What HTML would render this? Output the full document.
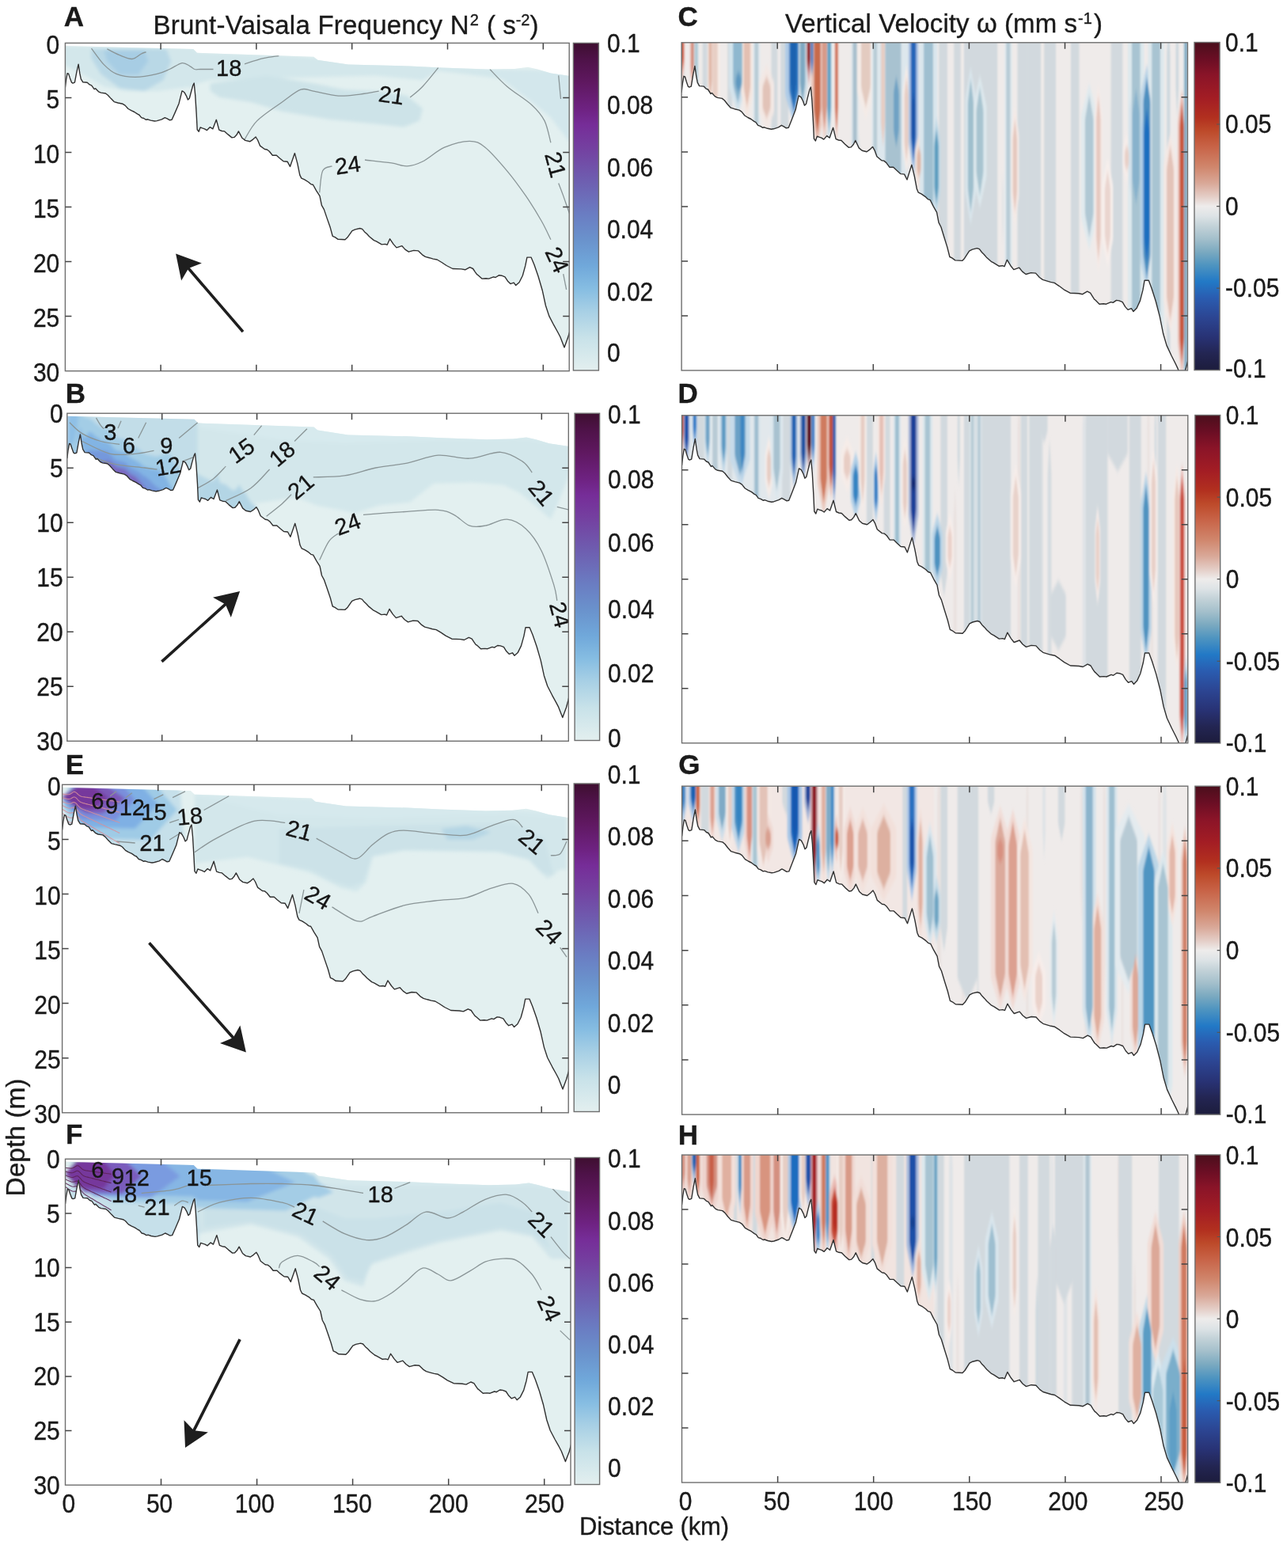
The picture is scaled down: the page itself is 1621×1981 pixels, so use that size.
<!DOCTYPE html><html><head><meta charset="utf-8"><title>Figure</title>
<style>html,body{margin:0;padding:0;background:#fff;}svg{display:block;}text{stroke:#1a1a1a;stroke-width:0.35px;}</style></head><body>
<svg width="1621" height="1981" viewBox="0 0 1621 1981">
<defs>
<linearGradient id="gDense" x1="0" y1="1" x2="0" y2="0"><stop offset="0" stop-color="#e3efef"/><stop offset="0.1" stop-color="#c8e2e9"/><stop offset="0.18" stop-color="#a8d0e5"/><stop offset="0.25" stop-color="#86bde2"/><stop offset="0.32" stop-color="#70a8da"/><stop offset="0.4" stop-color="#6a92cc"/><stop offset="0.48" stop-color="#6a7cc2"/><stop offset="0.58" stop-color="#6e5eb0"/><stop offset="0.68" stop-color="#7440a0"/><stop offset="0.75" stop-color="#762d98"/><stop offset="0.8" stop-color="#6e2281"/><stop offset="0.88" stop-color="#5f1860"/><stop offset="0.95" stop-color="#4e1248"/><stop offset="1" stop-color="#3e0f30"/></linearGradient>
<linearGradient id="gBal" x1="0" y1="1" x2="0" y2="0"><stop offset="0" stop-color="#1c1c3c"/><stop offset="0.05" stop-color="#232552"/><stop offset="0.1" stop-color="#283274"/><stop offset="0.16" stop-color="#2c4592"/><stop offset="0.22" stop-color="#2a5cb0"/><stop offset="0.27" stop-color="#2279c6"/><stop offset="0.32" stop-color="#4e94c0"/><stop offset="0.36" stop-color="#7aa9c0"/><stop offset="0.4" stop-color="#a3bfcb"/><stop offset="0.44" stop-color="#c3d2d8"/><stop offset="0.47" stop-color="#dde3e6"/><stop offset="0.5" stop-color="#eeeceb"/><stop offset="0.53" stop-color="#e4cdc6"/><stop offset="0.57" stop-color="#d9a898"/><stop offset="0.62" stop-color="#d0866c"/><stop offset="0.68" stop-color="#c86448"/><stop offset="0.73" stop-color="#bd4a2a"/><stop offset="0.77" stop-color="#b2301f"/><stop offset="0.83" stop-color="#a31d24"/><stop offset="0.9" stop-color="#8a1428"/><stop offset="0.95" stop-color="#6a0e24"/><stop offset="1.0" stop-color="#4a0f1c"/></linearGradient>
<clipPath id="clipA"><rect x="82.4" y="54.4" width="636.8" height="414.3"/></clipPath>
<clipPath id="clipB"><rect x="84.8" y="522.2" width="633.5" height="414.1"/></clipPath>
<clipPath id="clipE"><rect x="78.6" y="991.3" width="639.6" height="414.5"/></clipPath>
<clipPath id="clipF"><rect x="82.5" y="1464.3" width="638.5" height="411.9"/></clipPath>
<clipPath id="clipC"><rect x="861.1" y="53.8" width="639.4" height="414.2"/></clipPath>
<clipPath id="clipD"><rect x="861.5" y="524.8" width="639.3" height="414"/></clipPath>
<clipPath id="clipG"><rect x="861.6" y="993.2" width="639.2" height="414.9"/></clipPath>
<clipPath id="clipH"><rect x="861.5" y="1459.1" width="639.2" height="413.9"/></clipPath>
<filter id="blurL" x="-5%" y="-5%" width="110%" height="110%"><feGaussianBlur stdDeviation="2"/></filter>
<filter id="blurR" x="-5%" y="-5%" width="110%" height="110%"><feGaussianBlur stdDeviation="1.2 3"/></filter>
</defs>
<rect width="1621" height="1981" fill="#fff"/>
<g clip-path="url(#clipA)">
<clipPath id="wA"><path d="M82.3,57.9 L244.2,62 L249,66.8 L396.4,71.7 L401.2,75.8 L439.9,81.6 L517.2,83.5 L558.3,85.5 L616.2,87.5 L650.1,86.9 L667,84.8 L679.1,87.5 L696,92.4 L722.5,96.5 L721.1,413 L720.3,416.9 L717.7,426.1 L713,438.9 L707.9,425.8 L704.9,420 L699.7,410.7 L693.7,399.1 L689.4,386 L685.2,366.7 L680,349 L674.9,334.3 L671,325.1 L665.9,325.1 L663.7,335.9 L660.3,348.2 L656,356.7 L651.7,360.6 L649.2,357.1 L644.9,358.6 L641.5,355.2 L638,349.8 L633.8,348.2 L630.3,347.8 L626,350.5 L623.5,349.8 L617.5,352.1 L614,351.7 L608.9,352.1 L603.8,347.5 L602.5,346.6 L600.3,343.6 L597.6,339.5 L593.6,337.7 L587.7,340.8 L582.8,339.9 L571.9,339.5 L564.1,335.5 L558.1,331.5 L552.2,328 L547.3,327.1 L542.4,325.7 L537.4,324.4 L533.5,321.8 L528.6,316.9 L522.7,316.4 L516.3,318.2 L511.8,315.1 L507.9,310.7 L501,312.9 L497,308.4 L492.6,301.8 L489.2,309.3 L486.7,308.4 L482.3,308.9 L475.4,304.9 L472.4,303.6 L466.5,298.7 L463.6,295.6 L460.6,292.9 L457.7,289.4 L454.7,288.5 L448.8,289.9 L444.9,291.6 L438.9,300.1 L436,302.7 L427.1,302.3 L423.2,299.6 L420.2,298.3 L417.3,287.6 L413.3,276.1 L409.4,264.6 L406.4,259.3 L404,247.7 L399.5,240.6 L395.6,233.5 L392.6,232.6 L389.7,230 L384.7,226.9 L380.8,225.1 L378.8,221.1 L375.9,206.9 L372.4,193.6 L366.5,210.4 L363.1,204.2 L358.1,203.8 L353.2,199.8 L349.3,196.2 L344.3,196.2 L340.3,191.2 L337.4,189 L334.4,188.5 L328.5,184.1 L325.6,177 L323.1,173 L319.7,176.1 L315.7,178.8 L309.8,177.4 L305.9,174.3 L301.4,165.9 L299,170.3 L296,173.4 L293,173.9 L288.1,169.9 L283.7,165.9 L280.2,165.5 L276.8,164.1 L273.3,151.3 L268.9,162.8 L265.4,160.6 L261.5,164.6 L258.5,162.8 L255.6,161.9 L253.1,161 L251.2,166.3 L249.2,163.7 L248.2,144.2 L246.7,120.2 L245.2,105.1 L243.8,107.8 L241.3,116.7 L239.3,124.2 L237.4,126 L235.4,121.1 L232.9,116.7 L231,115.3 L230,114.9 L226,130.9 L221.1,142.4 L217.1,151.3 L214.2,151.7 L211.2,149.9 L208.3,148.6 L204.3,150.8 L198.4,152.6 L195.5,153 L190.5,152.1 L186.6,150.8 L184.6,151.3 L181.7,149.5 L178.7,148.6 L175.7,145 L173.8,144.2 L169.8,141.5 L165.9,139.7 L162,137.5 L158,133.1 L155.1,131.3 L149.1,130 L144.2,128.6 L140.3,124.6 L136.3,120.2 L133.4,118 L127.5,117.1 L124.5,115.8 L120.6,111.8 L119.1,112.7 L115.6,107.8 L113.2,106.9 L110.2,104.2 L104.8,103.8 L102.3,99.8 L100.8,92.7 L99.1,81.2 L96.9,90.9 L94.4,104.2 L92,105.1 L90.5,104.2 L88.5,98.9 L86.6,93.1 L85.1,92.7 L83.6,100.7 L82.3,111.3 Z"/></clipPath>
<path d="M82.3,57.9 L244.2,62 L249,66.8 L396.4,71.7 L401.2,75.8 L439.9,81.6 L517.2,83.5 L558.3,85.5 L616.2,87.5 L650.1,86.9 L667,84.8 L679.1,87.5 L696,92.4 L722.5,96.5 L721.1,413 L720.3,416.9 L717.7,426.1 L713,438.9 L707.9,425.8 L704.9,420 L699.7,410.7 L693.7,399.1 L689.4,386 L685.2,366.7 L680,349 L674.9,334.3 L671,325.1 L665.9,325.1 L663.7,335.9 L660.3,348.2 L656,356.7 L651.7,360.6 L649.2,357.1 L644.9,358.6 L641.5,355.2 L638,349.8 L633.8,348.2 L630.3,347.8 L626,350.5 L623.5,349.8 L617.5,352.1 L614,351.7 L608.9,352.1 L603.8,347.5 L602.5,346.6 L600.3,343.6 L597.6,339.5 L593.6,337.7 L587.7,340.8 L582.8,339.9 L571.9,339.5 L564.1,335.5 L558.1,331.5 L552.2,328 L547.3,327.1 L542.4,325.7 L537.4,324.4 L533.5,321.8 L528.6,316.9 L522.7,316.4 L516.3,318.2 L511.8,315.1 L507.9,310.7 L501,312.9 L497,308.4 L492.6,301.8 L489.2,309.3 L486.7,308.4 L482.3,308.9 L475.4,304.9 L472.4,303.6 L466.5,298.7 L463.6,295.6 L460.6,292.9 L457.7,289.4 L454.7,288.5 L448.8,289.9 L444.9,291.6 L438.9,300.1 L436,302.7 L427.1,302.3 L423.2,299.6 L420.2,298.3 L417.3,287.6 L413.3,276.1 L409.4,264.6 L406.4,259.3 L404,247.7 L399.5,240.6 L395.6,233.5 L392.6,232.6 L389.7,230 L384.7,226.9 L380.8,225.1 L378.8,221.1 L375.9,206.9 L372.4,193.6 L366.5,210.4 L363.1,204.2 L358.1,203.8 L353.2,199.8 L349.3,196.2 L344.3,196.2 L340.3,191.2 L337.4,189 L334.4,188.5 L328.5,184.1 L325.6,177 L323.1,173 L319.7,176.1 L315.7,178.8 L309.8,177.4 L305.9,174.3 L301.4,165.9 L299,170.3 L296,173.4 L293,173.9 L288.1,169.9 L283.7,165.9 L280.2,165.5 L276.8,164.1 L273.3,151.3 L268.9,162.8 L265.4,160.6 L261.5,164.6 L258.5,162.8 L255.6,161.9 L253.1,161 L251.2,166.3 L249.2,163.7 L248.2,144.2 L246.7,120.2 L245.2,105.1 L243.8,107.8 L241.3,116.7 L239.3,124.2 L237.4,126 L235.4,121.1 L232.9,116.7 L231,115.3 L230,114.9 L226,130.9 L221.1,142.4 L217.1,151.3 L214.2,151.7 L211.2,149.9 L208.3,148.6 L204.3,150.8 L198.4,152.6 L195.5,153 L190.5,152.1 L186.6,150.8 L184.6,151.3 L181.7,149.5 L178.7,148.6 L175.7,145 L173.8,144.2 L169.8,141.5 L165.9,139.7 L162,137.5 L158,133.1 L155.1,131.3 L149.1,130 L144.2,128.6 L140.3,124.6 L136.3,120.2 L133.4,118 L127.5,117.1 L124.5,115.8 L120.6,111.8 L119.1,112.7 L115.6,107.8 L113.2,106.9 L110.2,104.2 L104.8,103.8 L102.3,99.8 L100.8,92.7 L99.1,81.2 L96.9,90.9 L94.4,104.2 L92,105.1 L90.5,104.2 L88.5,98.9 L86.6,93.1 L85.1,92.7 L83.6,100.7 L82.3,111.3 Z" fill="#e3f0f0"/>
<g clip-path="url(#wA)"><g filter="url(#blurL)"><path d="M80,57.9 L245.8,59.9 L249.8,65.8 L356.4,69.7 L435.3,75.7 L534,81.6 L632.7,87.5 L720,89.5 L720,99.3 L632.7,99.3 L553.7,89.5 L534,101.3 L474.8,95.4 L395.8,97.4 L316.9,99.3 L265.6,101.3 L249.8,105.3 L245.8,109.2 L198.4,115.1 L159,115.1 L131.3,109.2 L103.7,93.4 L80,81.6 Z" fill="#d3e7eb"/><path d="M265.6,105.3 L336.6,95.4 L395.8,105.3 L435.3,113.2 L474.8,115.1 L514.3,121.1 L534,136.9 L530.1,152.6 L510.3,160.5 L474.8,156.6 L415.6,150.7 L356.4,140.8 L316.9,129 L277.4,123 L265.6,115.1 Z" fill="#cde3e8"/><path d="M115.5,61.8 L210.3,61.8 L216.2,77.6 L206.3,101.3 L182.6,115.1 L151.1,111.2 L127.4,93.4 L115.5,73.7 Z" fill="#b9d8e6"/><path d="M131.3,63.8 L182.6,63.8 L187.4,77.6 L174.7,94.2 L151.1,94.2 L135.3,77.6 Z" fill="#a7cde4"/><path d="M618.9,87.5 L720,89.5 L720,180.3 L695.9,148.7 L672.2,129 L640.6,105.3 Z" fill="#d3e7ec"/></g><path d="M115.5,61.1 C118.2,64.5 126.1,76.2 131.3,81.6 C136.6,87 140.5,90.8 147.1,93.4 C153.7,96.1 162.2,97.4 170.8,97.4 C179.4,97.4 191.2,95.1 198.4,93.4 C205.7,91.8 209,89.8 214.2,87.5 C219.5,85.2 225.7,80.3 230,79.6 C234.3,79 237.3,82.2 239.9,83.6 C242.5,84.9 243.5,86.8 245.8,87.5 C248.1,88.2 249.8,87.5 253.7,87.5 C257.7,87.5 266.9,87.5 269.5,87.5" fill="none" stroke="#8a9597" stroke-width="1.3"/><path d="M309,80.8 C312.9,79.6 325.4,75.4 332.7,73.7 C339.9,72 349.1,71.1 352.4,70.5" fill="none" stroke="#8a9597" stroke-width="1.3"/><path d="M135.3,61.8 C137.9,63.2 145.8,67.6 151.1,69.7 C156.3,71.8 162.2,74.8 166.9,74.5 C171.5,74.1 175.7,69.2 178.7,67.8 C181.7,66.3 183.6,66.1 184.6,65.8" fill="none" stroke="#8a9597" stroke-width="1.3"/><path d="M309,176.3 C311.6,172.4 316.9,160.5 324.8,152.6 C332.7,144.7 347.1,135.5 356.4,129 C365.6,122.4 373.5,115.5 380,113.2 C386.6,110.9 387.9,113.8 395.8,115.1 C403.7,116.5 417.5,120.4 427.4,121.1 C437.3,121.7 446.5,120.1 455,119.1 C463.6,118.1 474.8,115.8 478.7,115.1" fill="none" stroke="#8a9597" stroke-width="1.3"/><path d="M518.2,123 C520.8,120.7 528.1,115.5 534,109.2 C539.9,103 550.5,89.5 553.7,85.5" fill="none" stroke="#8a9597" stroke-width="1.3"/><path d="M618.9,87.5 C622.5,91.1 631.7,101.7 640.6,109.2 C649.5,116.8 664.3,125.7 672.2,132.9 C680.1,140.1 684,144.7 688,152.6 C691.9,160.5 694.6,175.7 695.9,180.3" fill="none" stroke="#8a9597" stroke-width="1.3"/><path d="M705.7,231.6 C706.7,234.2 709.3,240.8 711.7,247.4 C714,254 718.6,267.1 720,271.1" fill="none" stroke="#8a9597" stroke-width="1.3"/><path d="M403.7,243.4 C404.4,238.8 405,221.4 407.7,215.8 C410.3,210.2 417.5,210.9 419.5,209.9" fill="none" stroke="#8a9597" stroke-width="1.3"/><path d="M461,202 C466.6,202.7 485.6,204.6 494.5,205.9 C503.4,207.3 507.7,210.2 514.3,209.9 C520.8,209.6 526.1,207.9 534,204 C541.9,200 551.8,190.5 561.6,186.2 C571.5,181.9 584.7,178.3 593.2,178.3 C601.8,178.3 605.1,180 613,186.2 C620.9,192.5 632,205.6 640.6,215.8 C649.2,226 657,236.9 664.3,247.4 C671.5,257.9 678.8,269.8 684,279 C689.3,288.2 693.9,298.7 695.9,302.7" fill="none" stroke="#8a9597" stroke-width="1.3"/><path d="M711.7,346.1 L715.6,365.8" fill="none" stroke="#8a9597" stroke-width="1.3"/><path d="M705.7,95.4 L708.5,125" fill="none" stroke="#8a9597" stroke-width="1.3"/></g>
<path d="M82.3,111.3 L83.6,100.7 L85.1,92.7 L86.6,93.1 L88.5,98.9 L90.5,104.2 L92,105.1 L94.4,104.2 L96.9,90.9 L99.1,81.2 L100.8,92.7 L102.3,99.8 L104.8,103.8 L110.2,104.2 L113.2,106.9 L115.6,107.8 L119.1,112.7 L120.6,111.8 L124.5,115.8 L127.5,117.1 L133.4,118 L136.3,120.2 L140.3,124.6 L144.2,128.6 L149.1,130 L155.1,131.3 L158,133.1 L162,137.5 L165.9,139.7 L169.8,141.5 L173.8,144.2 L175.7,145 L178.7,148.6 L181.7,149.5 L184.6,151.3 L186.6,150.8 L190.5,152.1 L195.5,153 L198.4,152.6 L204.3,150.8 L208.3,148.6 L211.2,149.9 L214.2,151.7 L217.1,151.3 L221.1,142.4 L226,130.9 L230,114.9 L231,115.3 L232.9,116.7 L235.4,121.1 L237.4,126 L239.3,124.2 L241.3,116.7 L243.8,107.8 L245.2,105.1 L246.7,120.2 L248.2,144.2 L249.2,163.7 L251.2,166.3 L253.1,161 L255.6,161.9 L258.5,162.8 L261.5,164.6 L265.4,160.6 L268.9,162.8 L273.3,151.3 L276.8,164.1 L280.2,165.5 L283.7,165.9 L288.1,169.9 L293,173.9 L296,173.4 L299,170.3 L301.4,165.9 L305.9,174.3 L309.8,177.4 L315.7,178.8 L319.7,176.1 L323.1,173 L325.6,177 L328.5,184.1 L334.4,188.5 L337.4,189 L340.3,191.2 L344.3,196.2 L349.3,196.2 L353.2,199.8 L358.1,203.8 L363.1,204.2 L366.5,210.4 L372.4,193.6 L375.9,206.9 L378.8,221.1 L380.8,225.1 L384.7,226.9 L389.7,230 L392.6,232.6 L395.6,233.5 L399.5,240.6 L404,247.7 L406.4,259.3 L409.4,264.6 L413.3,276.1 L417.3,287.6 L420.2,298.3 L423.2,299.6 L427.1,302.3 L436,302.7 L438.9,300.1 L444.9,291.6 L448.8,289.9 L454.7,288.5 L457.7,289.4 L460.6,292.9 L463.6,295.6 L466.5,298.7 L472.4,303.6 L475.4,304.9 L482.3,308.9 L486.7,308.4 L489.2,309.3 L492.6,301.8 L497,308.4 L501,312.9 L507.9,310.7 L511.8,315.1 L516.3,318.2 L522.7,316.4 L528.6,316.9 L533.5,321.8 L537.4,324.4 L542.4,325.7 L547.3,327.1 L552.2,328 L558.1,331.5 L564.1,335.5 L571.9,339.5 L582.8,339.9 L587.7,340.8 L593.6,337.7 L597.6,339.5 L600.3,343.6 L602.5,346.6 L603.8,347.5 L608.9,352.1 L614,351.7 L617.5,352.1 L623.5,349.8 L626,350.5 L630.3,347.8 L633.8,348.2 L638,349.8 L641.5,355.2 L644.9,358.6 L649.2,357.1 L651.7,360.6 L656,356.7 L660.3,348.2 L663.7,335.9 L665.9,325.1 L671,325.1 L674.9,334.3 L680,349 L685.2,366.7 L689.4,386 L693.7,399.1 L699.7,410.7 L704.9,420 L707.9,425.8 L713,438.9 L717.7,426.1 L720.3,416.9 L721.1,413" fill="none" stroke="#303030" stroke-width="1.4" stroke-linejoin="round"/>
<text x="289.2" y="86.3" transform="rotate(0 289.2 86.3)" font-family='"Liberation Sans", Arial, Helvetica, sans-serif' font-size="29" text-anchor="middle" dominant-baseline="central" fill="#151515">18</text><text x="494.5" y="120.3" transform="rotate(8 494.5 120.3)" font-family='"Liberation Sans", Arial, Helvetica, sans-serif' font-size="29" text-anchor="middle" dominant-baseline="central" fill="#151515">21</text><text x="439.3" y="208.7" transform="rotate(-8 439.3 208.7)" font-family='"Liberation Sans", Arial, Helvetica, sans-serif' font-size="29" text-anchor="middle" dominant-baseline="central" fill="#151515">24</text><text x="701.8" y="207.9" transform="rotate(75 701.8 207.9)" font-family='"Liberation Sans", Arial, Helvetica, sans-serif' font-size="29" text-anchor="middle" dominant-baseline="central" fill="#151515">21</text><text x="703.8" y="328.3" transform="rotate(65 703.8 328.3)" font-family='"Liberation Sans", Arial, Helvetica, sans-serif' font-size="29" text-anchor="middle" dominant-baseline="central" fill="#151515">24</text><path d="M307,419.1 L236.9,337.6" stroke="#1e1e1e" stroke-width="3.7" fill="none"/><path d="M222.1,320.4 L254.9,332.5 L238.2,339.1 L229.1,354.6 Z" fill="#1e1e1e"/>
</g>
<rect x="82.4" y="54.4" width="636.8" height="414.3" fill="none" stroke="#6e6e6e" stroke-width="1.4"/><path d="M203.1,54.4v8M203.1,468.7v-8M323.9,54.4v8M323.9,468.7v-8M444.7,54.4v8M444.7,468.7v-8M565.5,54.4v8M565.5,468.7v-8M686.3,54.4v8M686.3,468.7v-8M82.4,123.4h8M719.2,123.4h-8M82.4,192.5h8M719.2,192.5h-8M82.4,261.6h8M719.2,261.6h-8M82.4,330.6h8M719.2,330.6h-8M82.4,399.6h8M719.2,399.6h-8" stroke="#444" stroke-width="1.5" fill="none"/>
<rect x="724.4" y="54.4" width="32" height="413.6" fill="url(#gDense)" stroke="#6e6e6e" stroke-width="1.4"/>
<g clip-path="url(#clipB)">
<clipPath id="wB"><path d="M84.8,525.7 L245.5,529.8 L250.3,534.6 L396.5,539.5 L401.3,543.6 L439.7,549.4 L516.4,551.3 L557.2,553.3 L614.8,555.3 L648.3,554.6 L665.1,552.6 L677.1,555.3 L693.9,560.2 L720.3,564.3 L718.9,880.7 L718,884.5 L715.5,893.8 L710.8,906.5 L705.7,893.4 L702.7,887.6 L697.6,878.3 L691.7,866.8 L687.4,853.7 L683.2,834.4 L678.1,816.7 L673,802 L669.1,792.8 L664,792.8 L661.9,803.6 L658.5,815.9 L654.3,824.4 L650,828.2 L647.4,824.8 L643.2,826.3 L639.8,822.8 L636.4,817.4 L632.1,815.9 L628.7,815.5 L624.5,818.2 L621.9,817.4 L616,819.7 L612.6,819.4 L607.5,819.7 L602.4,815.1 L601.1,814.3 L599,811.3 L596.2,807.2 L592.3,805.4 L586.4,808.5 L581.6,807.6 L570.8,807.2 L563,803.2 L557.1,799.2 L551.2,795.6 L546.3,794.7 L541.4,793.4 L536.6,792.1 L532.6,789.4 L527.8,784.5 L521.9,784.1 L515.5,785.9 L511.1,782.8 L507.2,778.3 L500.4,780.6 L496.4,776.1 L492,769.5 L488.6,777 L486.2,776.1 L481.8,776.6 L474.9,772.6 L472,771.2 L466.1,766.4 L463.2,763.3 L460.3,760.6 L457.4,757.1 L454.4,756.2 L448.6,757.6 L444.7,759.3 L438.8,767.8 L435.8,770.4 L427,770 L423.1,767.3 L420.2,766 L417.3,755.3 L413.4,743.8 L409.4,732.3 L406.5,727 L404.1,715.4 L399.7,708.3 L395.7,701.2 L392.8,700.3 L389.9,697.7 L385,694.6 L381.1,692.8 L379.1,688.8 L376.2,674.6 L372.8,661.3 L366.9,678.2 L363.5,672 L358.6,671.5 L353.7,667.5 L349.8,664 L344.9,664 L340.9,658.9 L338,656.7 L335.1,656.3 L329.2,651.8 L326.3,644.7 L323.8,640.7 L320.4,643.9 L316.5,646.5 L310.6,645.2 L306.7,642.1 L302.3,633.6 L299.8,638.1 L296.9,641.2 L294,641.6 L289.1,637.6 L284.7,633.6 L281.3,633.2 L277.8,631.9 L274.4,619 L270,630.5 L266.6,628.3 L262.7,632.3 L259.7,630.5 L256.8,629.7 L254.4,628.8 L252.4,634.1 L250.4,631.4 L249.5,611.9 L248,588 L246.5,572.9 L245.1,575.6 L242.6,584.4 L240.7,592 L238.7,593.7 L236.7,588.9 L234.3,584.4 L232.3,583.1 L231.4,582.6 L227.4,598.6 L222.5,610.1 L218.6,619 L215.7,619.5 L212.8,617.7 L209.8,616.4 L205.9,618.6 L200.1,620.3 L197.1,620.8 L192.2,619.9 L188.3,618.6 L186.4,619 L183.4,617.2 L180.5,616.4 L177.6,612.8 L175.6,611.9 L171.7,609.3 L167.8,607.5 L163.9,605.3 L159.9,600.8 L157,599.1 L151.1,597.7 L146.3,596.4 L142.3,592.4 L138.4,588 L135.5,585.8 L129.6,584.9 L126.7,583.5 L122.8,579.5 L121.3,580.4 L117.9,575.6 L115.4,574.7 L112.5,572 L107.1,571.6 L104.7,567.6 L103.2,560.5 L101.4,548.9 L99.3,558.7 L96.9,572 L94.4,572.9 L92.9,572 L91,566.7 L89,560.9 L87.6,560.5 L86.1,568.5 L84.8,579.1 Z"/></clipPath>
<path d="M84.8,525.7 L245.5,529.8 L250.3,534.6 L396.5,539.5 L401.3,543.6 L439.7,549.4 L516.4,551.3 L557.2,553.3 L614.8,555.3 L648.3,554.6 L665.1,552.6 L677.1,555.3 L693.9,560.2 L720.3,564.3 L718.9,880.7 L718,884.5 L715.5,893.8 L710.8,906.5 L705.7,893.4 L702.7,887.6 L697.6,878.3 L691.7,866.8 L687.4,853.7 L683.2,834.4 L678.1,816.7 L673,802 L669.1,792.8 L664,792.8 L661.9,803.6 L658.5,815.9 L654.3,824.4 L650,828.2 L647.4,824.8 L643.2,826.3 L639.8,822.8 L636.4,817.4 L632.1,815.9 L628.7,815.5 L624.5,818.2 L621.9,817.4 L616,819.7 L612.6,819.4 L607.5,819.7 L602.4,815.1 L601.1,814.3 L599,811.3 L596.2,807.2 L592.3,805.4 L586.4,808.5 L581.6,807.6 L570.8,807.2 L563,803.2 L557.1,799.2 L551.2,795.6 L546.3,794.7 L541.4,793.4 L536.6,792.1 L532.6,789.4 L527.8,784.5 L521.9,784.1 L515.5,785.9 L511.1,782.8 L507.2,778.3 L500.4,780.6 L496.4,776.1 L492,769.5 L488.6,777 L486.2,776.1 L481.8,776.6 L474.9,772.6 L472,771.2 L466.1,766.4 L463.2,763.3 L460.3,760.6 L457.4,757.1 L454.4,756.2 L448.6,757.6 L444.7,759.3 L438.8,767.8 L435.8,770.4 L427,770 L423.1,767.3 L420.2,766 L417.3,755.3 L413.4,743.8 L409.4,732.3 L406.5,727 L404.1,715.4 L399.7,708.3 L395.7,701.2 L392.8,700.3 L389.9,697.7 L385,694.6 L381.1,692.8 L379.1,688.8 L376.2,674.6 L372.8,661.3 L366.9,678.2 L363.5,672 L358.6,671.5 L353.7,667.5 L349.8,664 L344.9,664 L340.9,658.9 L338,656.7 L335.1,656.3 L329.2,651.8 L326.3,644.7 L323.8,640.7 L320.4,643.9 L316.5,646.5 L310.6,645.2 L306.7,642.1 L302.3,633.6 L299.8,638.1 L296.9,641.2 L294,641.6 L289.1,637.6 L284.7,633.6 L281.3,633.2 L277.8,631.9 L274.4,619 L270,630.5 L266.6,628.3 L262.7,632.3 L259.7,630.5 L256.8,629.7 L254.4,628.8 L252.4,634.1 L250.4,631.4 L249.5,611.9 L248,588 L246.5,572.9 L245.1,575.6 L242.6,584.4 L240.7,592 L238.7,593.7 L236.7,588.9 L234.3,584.4 L232.3,583.1 L231.4,582.6 L227.4,598.6 L222.5,610.1 L218.6,619 L215.7,619.5 L212.8,617.7 L209.8,616.4 L205.9,618.6 L200.1,620.3 L197.1,620.8 L192.2,619.9 L188.3,618.6 L186.4,619 L183.4,617.2 L180.5,616.4 L177.6,612.8 L175.6,611.9 L171.7,609.3 L167.8,607.5 L163.9,605.3 L159.9,600.8 L157,599.1 L151.1,597.7 L146.3,596.4 L142.3,592.4 L138.4,588 L135.5,585.8 L129.6,584.9 L126.7,583.5 L122.8,579.5 L121.3,580.4 L117.9,575.6 L115.4,574.7 L112.5,572 L107.1,571.6 L104.7,567.6 L103.2,560.5 L101.4,548.9 L99.3,558.7 L96.9,572 L94.4,572.9 L92.9,572 L91,566.7 L89,560.9 L87.6,560.5 L86.1,568.5 L84.8,579.1 Z" fill="#e3f0f0"/>
<g clip-path="url(#wB)"><g filter="url(#blurL)"><path d="M249.8,529.8 L720,555.5 L720,597 L715.6,608.8 L703.8,638.4 L695.9,656.2 L676.1,638.4 L656.4,622.6 L636.7,612.7 L597.2,609.6 L547.8,610.8 L518.2,634.5 L478.7,638.4 L449.1,648.3 L399.8,638.4 L376.1,628.5 L316.9,636.4 L249.8,632.5 Z" fill="#d3e7eb"/><path d="M249.8,529.8 L720,554.3 L720,562.2 L652.4,554.3 L553.7,555.9 L435.3,559.5 L356.4,555.5 L249.8,539.7 Z" fill="#d7eaee"/><path d="M80,518 L249.8,518 L249.8,636.4 L80,636.4 Z" fill="#c2dde8"/><path d="M245.8,597 L285.3,616.7 L301.1,636.4 L285.3,648.3 L249.8,648.3 Z" fill="#b8d8e6"/><path d="M84.8,579.1 L86,486.4 L87.2,479.6 L88.4,477.9 L89.6,479.8 L90.8,483.3 L92,486.6 L93.2,489.3 L94.4,490.1 L95.6,489.6 L96.8,489.2 L98,483 L99.2,476.5 L100.4,470.9 L101.6,467 L102.8,474.9 L104,564.2 L104,568.4 L102.8,561.8 L101.6,554 L100.4,557.9 L99.2,563.4 L98,570 L96.8,576.2 L95.6,576.6 L94.4,577 L93.2,576.3 L92,573.6 L90.8,570.3 L89.6,566.7 L88.4,564.9 L87.2,566.6 L86,573.4 L84.8,583.2 Z" fill="#8fc0e6"/><path d="M89.6,562.6 L90.8,561.7 L92,560.6 L93.2,558.9 L94.4,555.2 L95.6,550.4 L96.8,545.5 L98,534.9 L99.2,524 L100.4,514 L101.6,505.7 L102.8,513.5 L104,520 L105.2,524.2 L106.4,526.2 L107.6,527.4 L108.8,527.5 L110,527.6 L111.2,527.7 L112.4,527.8 L113.6,528.8 L114.8,529.9 L116,530.7 L117.2,531.1 L118.4,532.1 L119.6,533.8 L120.8,535.5 L122,535.9 L123.2,535.8 L124.4,537 L125.6,538.2 L126.8,539.4 L128,539.9 L129.2,540.5 L130.4,540.8 L131.6,541 L132.8,541.2 L134,541.4 L135.2,541.5 L136.4,542.2 L137.6,543.1 L138.8,544.2 L140,545.5 L141.2,546.9 L142.4,548.2 L143.6,549.5 L144.8,550.7 L145.9,551.9 L147.1,552.5 L148.3,552.8 L149.5,553.1 L150.7,553.4 L151.9,553.7 L153.1,554 L154.3,554.3 L155.5,554.6 L156.7,554.8 L157.9,555.4 L159.1,556.2 L160.3,557.1 L161.5,558.5 L162.7,559.8 L163.9,561.1 L165.1,561.8 L166.3,562.5 L167.5,563.2 L168.7,563.7 L169.9,564.3 L171.1,564.8 L172.3,565.5 L173.5,566.3 L174.7,567.2 L175.9,567.9 L177.1,568.4 L178.3,569.6 L179.5,571 L180.7,572.3 L181.9,572.6 L183.1,573 L184.3,573.6 L185.5,574.3 L186.7,574.8 L187.9,574.5 L189.1,574.7 L190.3,575.1 L191.5,575.5 L192.7,575.8 L193.9,576 L195.1,576.3 L196.3,576.5 L197.5,576.6 L198.7,576.4 L199.9,576.2 L201.1,575.9 L202.3,575.5 L203.5,575.1 L204.7,574.8 L205.9,574.4 L207.1,573.7 L208.3,573.1 L209.5,572.4 L210.7,572.6 L211.9,573.1 L213.1,573.7 L214.3,574.4 L215.5,575.2 L216.7,575.1 L217.9,579.4 L219.1,582.7 L220.3,584.4 L221.5,586.1 L222.7,587.7 L223.9,589.3 L225.1,590.9 L226.3,592.5 L227.5,594 L228.7,593.6 L228.7,597.7 L227.5,602.6 L226.3,605.5 L225.1,608.3 L223.9,611.1 L222.7,614 L221.5,616.7 L220.3,619.4 L219.1,622.1 L217.9,623.3 L216.7,623.5 L215.5,623.5 L214.3,622.7 L213.1,622 L211.9,621.4 L210.7,620.9 L209.5,620.7 L208.3,621.4 L207.1,622 L205.9,622.7 L204.7,623.1 L203.5,623.4 L202.3,623.8 L201.1,624.2 L199.9,624.5 L198.7,624.7 L197.5,624.9 L196.3,624.8 L195.1,624.6 L193.9,624.3 L192.7,624.1 L191.5,623.8 L190.3,623.4 L189.1,623 L187.9,622.8 L186.7,623.1 L185.5,622.6 L184.3,621.9 L183.1,621.3 L181.9,620.9 L180.7,620.6 L179.5,619.3 L178.3,617.9 L177.1,616.8 L175.9,616.2 L174.7,615.5 L173.5,614.7 L172.3,613.8 L171.1,613.1 L169.9,612.6 L168.7,612.1 L167.5,611.5 L166.3,610.8 L165.1,610.1 L163.9,609.5 L162.7,608.1 L161.5,606.8 L160.3,605.4 L159.1,604.5 L157.9,603.8 L156.7,603.1 L155.5,602.9 L154.3,602.6 L153.1,602.3 L151.9,602.1 L150.7,601.8 L149.5,601.4 L148.3,601.1 L147.1,600.8 L145.9,600.2 L144.8,599 L143.6,597.8 L142.4,596.6 L141.2,595.2 L140,593.8 L138.8,592.5 L137.6,591.5 L136.4,590.5 L135.2,589.8 L134,589.7 L132.8,589.5 L131.6,589.3 L130.4,589.1 L129.2,588.8 L128,588.3 L126.8,587.7 L125.6,586.5 L124.4,585.3 L123.2,584.1 L122,584.2 L120.8,583.8 L119.6,582.1 L118.4,580.4 L117.2,579.4 L116,579 L114.8,578.2 L113.6,577.1 L112.4,576.1 L111.2,576 L110,575.9 L108.8,575.8 L107.6,575.7 L106.4,574.5 L105.2,572.5 L104,568.4 L102.8,561.8 L101.6,554 L100.4,557.9 L99.2,563.4 L98,570 L96.8,576.2 L95.6,576.6 L94.4,577 L93.2,576.3 L92,573.6 L90.8,570.3 L89.6,566.7 Z" fill="#a3cde6"/><path d="M94.4,572.9 L95.6,570.7 L96.8,568.6 L98,560.6 L99.2,552.4 L100.4,545.1 L101.6,539.5 L102.8,545.6 L104,550.4 L105.2,552.9 L106.4,553.1 L107.6,552.6 L108.8,551 L110,549.4 L111.2,547.7 L112.4,546.1 L113.6,545.4 L114.8,546.5 L116,547.3 L117.2,547.7 L118.4,548.6 L119.6,550.4 L120.8,552.1 L122,552.4 L123.2,552.3 L124.4,553.6 L125.6,554.8 L126.8,556 L128,556.5 L129.2,557.1 L130.4,557.4 L131.6,557.6 L132.8,557.7 L134,557.9 L135.2,558.1 L136.4,558.8 L137.6,559.7 L138.8,560.7 L140,562.1 L141.2,563.5 L142.4,564.8 L143.6,566 L144.8,567.3 L145.9,568.5 L147.1,569 L148.3,569.4 L149.5,569.7 L150.7,570 L151.9,570.3 L153.1,570.6 L154.3,570.8 L155.5,571.1 L156.7,571.4 L157.9,572 L159.1,572.7 L160.3,573.7 L161.5,575 L162.7,576.4 L163.9,577.7 L165.1,578.4 L166.3,579.1 L167.5,579.7 L168.7,580.3 L169.9,580.9 L171.1,581.4 L172.3,582.1 L173.5,582.9 L174.7,583.7 L175.9,584.5 L177.1,585 L178.3,586.1 L179.5,587.6 L180.7,588.8 L181.9,589.2 L183.1,589.5 L184.3,590.2 L185.5,590.9 L186.7,591.3 L187.9,591.1 L189.1,591.2 L190.3,591.6 L191.5,592.1 L192.7,592.4 L193.9,592.6 L195.1,592.8 L196.3,593 L197.5,593.1 L198.7,592.9 L199.9,592.8 L201.1,594.1 L202.3,595.5 L203.5,596.9 L204.7,598.2 L205.9,599.6 L207.1,600.6 L208.3,601.7 L209.5,602.7 L210.7,604.7 L211.9,606.9 L213.1,609.3 L214.3,611.7 L215.5,614.2 L216.7,615.9 L217.9,617.4 L219.1,618 L219.1,622.1 L217.9,623.3 L216.7,623.5 L215.5,623.5 L214.3,622.7 L213.1,622 L211.9,621.4 L210.7,620.9 L209.5,620.7 L208.3,621.4 L207.1,622 L205.9,622.7 L204.7,623.1 L203.5,623.4 L202.3,623.8 L201.1,624.2 L199.9,624.5 L198.7,624.7 L197.5,624.9 L196.3,624.8 L195.1,624.6 L193.9,624.3 L192.7,624.1 L191.5,623.8 L190.3,623.4 L189.1,623 L187.9,622.8 L186.7,623.1 L185.5,622.6 L184.3,621.9 L183.1,621.3 L181.9,620.9 L180.7,620.6 L179.5,619.3 L178.3,617.9 L177.1,616.8 L175.9,616.2 L174.7,615.5 L173.5,614.7 L172.3,613.8 L171.1,613.1 L169.9,612.6 L168.7,612.1 L167.5,611.5 L166.3,610.8 L165.1,610.1 L163.9,609.5 L162.7,608.1 L161.5,606.8 L160.3,605.4 L159.1,604.5 L157.9,603.8 L156.7,603.1 L155.5,602.9 L154.3,602.6 L153.1,602.3 L151.9,602.1 L150.7,601.8 L149.5,601.4 L148.3,601.1 L147.1,600.8 L145.9,600.2 L144.8,599 L143.6,597.8 L142.4,596.6 L141.2,595.2 L140,593.8 L138.8,592.5 L137.6,591.5 L136.4,590.5 L135.2,589.8 L134,589.7 L132.8,589.5 L131.6,589.3 L130.4,589.1 L129.2,588.8 L128,588.3 L126.8,587.7 L125.6,586.5 L124.4,585.3 L123.2,584.1 L122,584.2 L120.8,583.8 L119.6,582.1 L118.4,580.4 L117.2,579.4 L116,579 L114.8,578.2 L113.6,577.1 L112.4,576.1 L111.2,576 L110,575.9 L108.8,575.8 L107.6,575.7 L106.4,574.5 L105.2,572.5 L104,568.4 L102.8,561.8 L101.6,554 L100.4,557.9 L99.2,563.4 L98,570 L96.8,576.2 L95.6,576.6 L94.4,577 Z" fill="#82b4e4"/><path d="M108.8,571.7 L110,570.8 L111.2,570 L112.4,569.1 L113.6,569.2 L114.8,569.3 L116,569.2 L117.2,568.7 L118.4,568.7 L119.6,569.4 L120.8,570.2 L122,569.6 L123.2,568.6 L124.4,568.8 L125.6,569.1 L126.8,569.3 L128,568.9 L129.2,569.5 L130.4,569.8 L131.6,570 L132.8,570.2 L134,570.3 L135.2,570.5 L136.4,571.2 L137.6,572.1 L138.8,573.2 L140,574.5 L141.2,575.9 L142.4,577.2 L143.6,578.5 L144.8,579.7 L145.9,580.9 L147.1,581.5 L148.3,581.8 L149.5,582.1 L150.7,582.4 L151.9,582.7 L153.1,583 L154.3,583.3 L155.5,583.5 L156.7,583.8 L157.9,584.4 L159.1,585.2 L160.3,586.1 L161.5,587.5 L162.7,588.8 L163.9,590.1 L165.1,590.8 L166.3,591.5 L167.5,592.2 L168.7,592.7 L169.9,593.3 L171.1,593.8 L172.3,594.5 L173.5,595.3 L174.7,596.1 L175.9,596.9 L177.1,597.4 L178.3,598.6 L179.5,600 L180.7,601.2 L181.9,601.6 L183.1,602 L184.3,602.6 L185.5,603.3 L186.7,604.7 L187.9,605.4 L189.1,606.5 L190.3,607.9 L191.5,609.2 L192.7,610.5 L193.9,611.7 L195.1,612.8 L196.3,614 L197.5,615 L198.7,615.8 L199.9,616.6 L201.1,617.2 L202.3,617.8 L203.5,618.4 L204.7,618.9 L204.7,623.1 L203.5,623.4 L202.3,623.8 L201.1,624.2 L199.9,624.5 L198.7,624.7 L197.5,624.9 L196.3,624.8 L195.1,624.6 L193.9,624.3 L192.7,624.1 L191.5,623.8 L190.3,623.4 L189.1,623 L187.9,622.8 L186.7,623.1 L185.5,622.6 L184.3,621.9 L183.1,621.3 L181.9,620.9 L180.7,620.6 L179.5,619.3 L178.3,617.9 L177.1,616.8 L175.9,616.2 L174.7,615.5 L173.5,614.7 L172.3,613.8 L171.1,613.1 L169.9,612.6 L168.7,612.1 L167.5,611.5 L166.3,610.8 L165.1,610.1 L163.9,609.5 L162.7,608.1 L161.5,606.8 L160.3,605.4 L159.1,604.5 L157.9,603.8 L156.7,603.1 L155.5,602.9 L154.3,602.6 L153.1,602.3 L151.9,602.1 L150.7,601.8 L149.5,601.4 L148.3,601.1 L147.1,600.8 L145.9,600.2 L144.8,599 L143.6,597.8 L142.4,596.6 L141.2,595.2 L140,593.8 L138.8,592.5 L137.6,591.5 L136.4,590.5 L135.2,589.8 L134,589.7 L132.8,589.5 L131.6,589.3 L130.4,589.1 L129.2,588.8 L128,588.3 L126.8,587.7 L125.6,586.5 L124.4,585.3 L123.2,584.1 L122,584.2 L120.8,583.8 L119.6,582.1 L118.4,580.4 L117.2,579.4 L116,579 L114.8,578.2 L113.6,577.1 L112.4,576.1 L111.2,576 L110,575.9 L108.8,575.8 Z" fill="#7598dc"/><path d="M128,584.1 L129.2,584.1 L130.4,583.8 L131.6,583.4 L132.8,583 L134,582.6 L135.2,582.3 L136.4,582.4 L137.6,582.7 L138.8,583.2 L140,584 L141.2,584.7 L142.4,585.5 L143.6,586.7 L144.8,588 L145.9,589.2 L147.1,589.7 L148.3,590.1 L149.5,590.4 L150.7,590.7 L151.9,591 L153.1,591.3 L154.3,591.6 L155.5,591.8 L156.7,592.1 L157.9,592.7 L159.1,593.4 L160.3,594.4 L161.5,595.7 L162.7,597.1 L163.9,598.4 L165.1,599.1 L166.3,599.8 L167.5,600.4 L168.7,601 L169.9,601.6 L171.1,602.1 L172.3,603.4 L173.5,604.8 L174.7,606.1 L175.9,607.5 L177.1,608.6 L178.3,610.3 L179.5,612.3 L180.7,614.1 L181.9,615.1 L183.1,616 L184.3,617.2 L185.5,618.5 L185.5,622.6 L184.3,621.9 L183.1,621.3 L181.9,620.9 L180.7,620.6 L179.5,619.3 L178.3,617.9 L177.1,616.8 L175.9,616.2 L174.7,615.5 L173.5,614.7 L172.3,613.8 L171.1,613.1 L169.9,612.6 L168.7,612.1 L167.5,611.5 L166.3,610.8 L165.1,610.1 L163.9,609.5 L162.7,608.1 L161.5,606.8 L160.3,605.4 L159.1,604.5 L157.9,603.8 L156.7,603.1 L155.5,602.9 L154.3,602.6 L153.1,602.3 L151.9,602.1 L150.7,601.8 L149.5,601.4 L148.3,601.1 L147.1,600.8 L145.9,600.2 L144.8,599 L143.6,597.8 L142.4,596.6 L141.2,595.2 L140,593.8 L138.8,592.5 L137.6,591.5 L136.4,590.5 L135.2,589.8 L134,589.7 L132.8,589.5 L131.6,589.3 L130.4,589.1 L129.2,588.8 L128,588.3 Z" fill="#7a68c0"/><path d="M247.9,586.6 L249.1,603.5 L250.3,624.1 L251.5,627.3 L252.7,626 L253.9,620.9 L255.1,618 L256.3,616.6 L257.5,615.1 L258.7,613.7 L259.9,612.2 L261.1,611.1 L262.3,610 L263.5,609.4 L264.7,608.2 L265.8,607 L267,606.5 L268.2,607.3 L269.4,608.1 L270.6,606.8 L271.8,603.6 L273,600.5 L274.2,597.4 L275.4,600.8 L276.6,605.3 L277.8,609.8 L279,610.3 L280.2,610.7 L281.4,611.1 L282.6,611.3 L283.8,611.5 L285,611.9 L286.2,613 L287.4,614.1 L288.6,615.1 L289.8,616.2 L291,617.1 L292.2,618.1 L293.4,619.1 L294.6,619.4 L295.8,619.3 L297,619 L298.2,617.7 L299.4,616.4 L300.6,614.6 L301.8,612.4 L303,613 L304.2,615.3 L305.4,617.6 L306.6,619.8 L307.8,620.9 L309,621.8 L310.2,622.8 L311.4,625.1 L312.6,627.2 L313.8,629.3 L315,631.5 L316.2,633.6 L317.4,634.8 L318.6,635.9 L319.8,636.9 L321,637.8 L322.2,638.5 L323.4,639.3 L324.6,642 L324.6,646.2 L323.4,645.3 L322.2,646.3 L321,647.4 L319.8,648.4 L318.6,649.2 L317.4,650 L316.2,650.6 L315,650.3 L313.8,650 L312.6,649.8 L311.4,649.5 L310.2,649 L309,648.1 L307.8,647.1 L306.6,646.1 L305.4,643.8 L304.2,641.5 L303,639.2 L301.8,638.6 L300.6,640.8 L299.4,642.7 L298.2,643.9 L297,645.2 L295.8,645.5 L294.6,645.7 L293.4,645.3 L292.2,644.3 L291,643.4 L289.8,642.4 L288.6,641.4 L287.4,640.3 L286.2,639.2 L285,638.1 L283.8,637.7 L282.6,637.5 L281.4,637.4 L280.2,637 L279,636.5 L277.8,636 L276.6,631.5 L275.4,627 L274.2,623.6 L273,626.7 L271.8,629.9 L270.6,633 L269.4,634.3 L268.2,633.5 L267,632.8 L265.8,633.2 L264.7,634.4 L263.5,635.7 L262.3,636.2 L261.1,635.5 L259.9,634.8 L258.7,634.4 L257.5,634 L256.3,633.6 L255.1,633.2 L253.9,634.3 L252.7,637.5 L251.5,637 L250.3,632 L249.1,609.5 L247.9,590.7 Z" fill="#b3d5e5"/></g><path d="M121.5,527.9 C122.4,529.5 125.7,535.4 127.4,537.7 C129,540 130.7,541 131.3,541.7" fill="none" stroke="#8a9597" stroke-width="1.3"/><path d="M149.1,540.9 L153,531.8" fill="none" stroke="#8a9597" stroke-width="1.3"/><path d="M87.9,533.8 C90.5,536.1 97.1,543.7 103.7,547.6 C110.3,551.6 119.5,555.2 127.4,557.5 C135.3,559.8 147.1,560.8 151.1,561.4" fill="none" stroke="#8a9597" stroke-width="1.3"/><path d="M174.7,553.5 L184.6,533.8" fill="none" stroke="#8a9597" stroke-width="1.3"/><path d="M103.7,557.5 C109.6,560.1 128,570.6 139.2,573.3 C150.4,575.9 161.6,573.9 170.8,573.3 C180,572.6 190.5,570 194.5,569.3" fill="none" stroke="#8a9597" stroke-width="1.3"/><path d="M226.1,553.5 L249.8,533.8" fill="none" stroke="#8a9597" stroke-width="1.3"/><path d="M99.7,569.3 C106.3,572 125.4,581.5 139.2,585.1 C153,588.7 172.8,589.7 182.6,591 C192.5,592.4 195.8,592.7 198.4,593" fill="none" stroke="#8a9597" stroke-width="1.3"/><path d="M230,583.1 L245.8,577.2" fill="none" stroke="#8a9597" stroke-width="1.3"/><path d="M249.8,616.7 C253,614.7 263.6,609.5 269.5,604.9 C275.4,600.2 282.7,591.7 285.3,589.1" fill="none" stroke="#8a9597" stroke-width="1.3"/><path d="M320.8,549.6 L330.7,537.7" fill="none" stroke="#8a9597" stroke-width="1.3"/><path d="M285.3,632.5 C290.6,629.9 307.7,623.3 316.9,616.7 C326.1,610.1 336.6,597 340.6,593" fill="none" stroke="#8a9597" stroke-width="1.3"/><path d="M372.1,557.5 L387.9,541.7" fill="none" stroke="#8a9597" stroke-width="1.3"/><path d="M336.6,652.2 C339.9,649.6 351.1,641 356.4,636.4 C361.6,631.8 366.2,626.6 368.2,624.6" fill="none" stroke="#8a9597" stroke-width="1.3"/><path d="M395.8,602.9 C402.4,602.6 422.2,602.9 435.3,600.9 C448.5,598.9 461.6,593.7 474.8,591 C487.9,588.4 501.1,587.7 514.3,585.1 C527.4,582.5 540.6,576.2 553.7,575.2 C566.9,574.3 580.1,579.9 593.2,579.2 C606.4,578.5 621.5,570.6 632.7,571.3 C643.9,572 653.8,578.9 660.3,583.1 C666.9,587.4 670.2,594.7 672.2,597" fill="none" stroke="#8a9597" stroke-width="1.3"/><path d="M703.8,640.4 L720,644.3" fill="none" stroke="#8a9597" stroke-width="1.3"/><path d="M403.7,707.5 C405.7,703.6 411.6,689.4 415.6,683.8 C419.5,678.2 425.4,675.6 427.4,673.9" fill="none" stroke="#8a9597" stroke-width="1.3"/><path d="M459,650.3 C468.2,649.6 498.5,647.3 514.3,646.3 C530.1,645.3 543.9,643.7 553.7,644.3 C563.6,645 566.9,647 573.5,650.3 C580.1,653.5 586.6,661.8 593.2,664.1 C599.8,666.4 605.1,665.4 613,664.1 C620.9,662.8 632,655.5 640.6,656.2 C649.2,656.8 657,661.4 664.3,668 C671.5,674.6 678.1,683.8 684,695.7 C689.9,707.5 696.5,728.6 699.8,739.1 C703.1,749.6 703.1,755.5 703.8,758.8" fill="none" stroke="#8a9597" stroke-width="1.3"/></g>
<path d="M84.8,579.1 L86.1,568.5 L87.6,560.5 L89,560.9 L91,566.7 L92.9,572 L94.4,572.9 L96.9,572 L99.3,558.7 L101.4,548.9 L103.2,560.5 L104.7,567.6 L107.1,571.6 L112.5,572 L115.4,574.7 L117.9,575.6 L121.3,580.4 L122.8,579.5 L126.7,583.5 L129.6,584.9 L135.5,585.8 L138.4,588 L142.3,592.4 L146.3,596.4 L151.1,597.7 L157,599.1 L159.9,600.8 L163.9,605.3 L167.8,607.5 L171.7,609.3 L175.6,611.9 L177.6,612.8 L180.5,616.4 L183.4,617.2 L186.4,619 L188.3,618.6 L192.2,619.9 L197.1,620.8 L200.1,620.3 L205.9,618.6 L209.8,616.4 L212.8,617.7 L215.7,619.5 L218.6,619 L222.5,610.1 L227.4,598.6 L231.4,582.6 L232.3,583.1 L234.3,584.4 L236.7,588.9 L238.7,593.7 L240.7,592 L242.6,584.4 L245.1,575.6 L246.5,572.9 L248,588 L249.5,611.9 L250.4,631.4 L252.4,634.1 L254.4,628.8 L256.8,629.7 L259.7,630.5 L262.7,632.3 L266.6,628.3 L270,630.5 L274.4,619 L277.8,631.9 L281.3,633.2 L284.7,633.6 L289.1,637.6 L294,641.6 L296.9,641.2 L299.8,638.1 L302.3,633.6 L306.7,642.1 L310.6,645.2 L316.5,646.5 L320.4,643.9 L323.8,640.7 L326.3,644.7 L329.2,651.8 L335.1,656.3 L338,656.7 L340.9,658.9 L344.9,664 L349.8,664 L353.7,667.5 L358.6,671.5 L363.5,672 L366.9,678.2 L372.8,661.3 L376.2,674.6 L379.1,688.8 L381.1,692.8 L385,694.6 L389.9,697.7 L392.8,700.3 L395.7,701.2 L399.7,708.3 L404.1,715.4 L406.5,727 L409.4,732.3 L413.4,743.8 L417.3,755.3 L420.2,766 L423.1,767.3 L427,770 L435.8,770.4 L438.8,767.8 L444.7,759.3 L448.6,757.6 L454.4,756.2 L457.4,757.1 L460.3,760.6 L463.2,763.3 L466.1,766.4 L472,771.2 L474.9,772.6 L481.8,776.6 L486.2,776.1 L488.6,777 L492,769.5 L496.4,776.1 L500.4,780.6 L507.2,778.3 L511.1,782.8 L515.5,785.9 L521.9,784.1 L527.8,784.5 L532.6,789.4 L536.6,792.1 L541.4,793.4 L546.3,794.7 L551.2,795.6 L557.1,799.2 L563,803.2 L570.8,807.2 L581.6,807.6 L586.4,808.5 L592.3,805.4 L596.2,807.2 L599,811.3 L601.1,814.3 L602.4,815.1 L607.5,819.7 L612.6,819.4 L616,819.7 L621.9,817.4 L624.5,818.2 L628.7,815.5 L632.1,815.9 L636.4,817.4 L639.8,822.8 L643.2,826.3 L647.4,824.8 L650,828.2 L654.3,824.4 L658.5,815.9 L661.9,803.6 L664,792.8 L669.1,792.8 L673,802 L678.1,816.7 L683.2,834.4 L687.4,853.7 L691.7,866.8 L697.6,878.3 L702.7,887.6 L705.7,893.4 L710.8,906.5 L715.5,893.8 L718,884.5 L718.9,880.7" fill="none" stroke="#303030" stroke-width="1.4" stroke-linejoin="round"/>
<text x="139.2" y="545.6" transform="rotate(0 139.2 545.6)" font-family='"Liberation Sans", Arial, Helvetica, sans-serif' font-size="29" text-anchor="middle" dominant-baseline="central" fill="#151515">3</text><text x="162.9" y="563.4" transform="rotate(0 162.9 563.4)" font-family='"Liberation Sans", Arial, Helvetica, sans-serif' font-size="29" text-anchor="middle" dominant-baseline="central" fill="#151515">6</text><text x="210.3" y="563.4" transform="rotate(0 210.3 563.4)" font-family='"Liberation Sans", Arial, Helvetica, sans-serif' font-size="29" text-anchor="middle" dominant-baseline="central" fill="#151515">9</text><text x="212.3" y="589.1" transform="rotate(-10 212.3 589.1)" font-family='"Liberation Sans", Arial, Helvetica, sans-serif' font-size="29" text-anchor="middle" dominant-baseline="central" fill="#151515">12</text><text x="305" y="569.3" transform="rotate(-35 305 569.3)" font-family='"Liberation Sans", Arial, Helvetica, sans-serif' font-size="29" text-anchor="middle" dominant-baseline="central" fill="#151515">15</text><text x="356.4" y="573.3" transform="rotate(-40 356.4 573.3)" font-family='"Liberation Sans", Arial, Helvetica, sans-serif' font-size="29" text-anchor="middle" dominant-baseline="central" fill="#151515">18</text><text x="380" y="614.7" transform="rotate(-40 380 614.7)" font-family='"Liberation Sans", Arial, Helvetica, sans-serif' font-size="29" text-anchor="middle" dominant-baseline="central" fill="#151515">21</text><text x="684" y="622.6" transform="rotate(50 684 622.6)" font-family='"Liberation Sans", Arial, Helvetica, sans-serif' font-size="29" text-anchor="middle" dominant-baseline="central" fill="#151515">21</text><text x="439.3" y="662.1" transform="rotate(-20 439.3 662.1)" font-family='"Liberation Sans", Arial, Helvetica, sans-serif' font-size="29" text-anchor="middle" dominant-baseline="central" fill="#151515">24</text><text x="707.7" y="776.6" transform="rotate(75 707.7 776.6)" font-family='"Liberation Sans", Arial, Helvetica, sans-serif' font-size="29" text-anchor="middle" dominant-baseline="central" fill="#151515">24</text><path d="M204.4,835.8 L286.3,762.1" stroke="#1e1e1e" stroke-width="3.7" fill="none"/><path d="M303.1,747 L291.8,780 L284.8,763.4 L269,754.7 Z" fill="#1e1e1e"/>
</g>
<rect x="84.8" y="522.2" width="633.5" height="414.1" fill="none" stroke="#6e6e6e" stroke-width="1.4"/><path d="M204.7,522.2v8M204.7,936.3v-8M324.6,522.2v8M324.6,936.3v-8M444.5,522.2v8M444.5,936.3v-8M564.4,522.2v8M564.4,936.3v-8M684.3,522.2v8M684.3,936.3v-8M84.8,591.2h8M718.3,591.2h-8M84.8,660.2h8M718.3,660.2h-8M84.8,729.2h8M718.3,729.2h-8M84.8,798.3h8M718.3,798.3h-8M84.8,867.3h8M718.3,867.3h-8" stroke="#444" stroke-width="1.5" fill="none"/>
<rect x="726.1" y="522.2" width="31.5" height="413.3" fill="url(#gDense)" stroke="#6e6e6e" stroke-width="1.4"/>
<g clip-path="url(#clipE)">
<clipPath id="wE"><path d="M78.6,994.8 L240.9,998.9 L245.8,1003.7 L393.5,1008.6 L398.4,1012.7 L437.1,1018.5 L514.6,1020.5 L555.8,1022.4 L614,1024.5 L647.9,1023.8 L664.8,1021.7 L677,1024.5 L693.9,1029.3 L720.6,1033.4 L719.1,1350.1 L718.3,1354 L715.7,1363.2 L711,1376 L705.8,1362.8 L702.8,1357 L697.7,1347.8 L691.7,1336.2 L687.4,1323.1 L683.1,1303.8 L677.9,1286 L672.8,1271.4 L668.9,1262.1 L663.7,1262.1 L661.6,1272.9 L658.2,1285.3 L653.9,1293.8 L649.6,1297.6 L647,1294.1 L642.7,1295.7 L639.3,1292.2 L635.8,1286.8 L631.5,1285.3 L628.1,1284.9 L623.8,1287.6 L621.2,1286.8 L615.2,1289.1 L611.8,1288.7 L606.6,1289.1 L601.5,1284.5 L600.2,1283.6 L598,1280.6 L595.2,1276.5 L591.3,1274.8 L585.4,1277.9 L580.4,1277 L569.6,1276.5 L561.7,1272.5 L555.7,1268.5 L549.8,1265 L544.9,1264.1 L539.9,1262.8 L535,1261.4 L531,1258.8 L526.1,1253.9 L520.1,1253.5 L513.7,1255.2 L509.3,1252.1 L505.3,1247.7 L498.4,1249.9 L494.5,1245.5 L490,1238.8 L486.5,1246.4 L484.1,1245.5 L479.6,1245.9 L472.7,1241.9 L469.7,1240.6 L463.8,1235.7 L460.9,1232.7 L457.9,1229.9 L455,1226.4 L452,1225.5 L446.1,1226.9 L442.1,1228.7 L436.2,1237.1 L433.2,1239.8 L424.3,1239.3 L420.4,1236.6 L417.4,1235.3 L414.5,1224.7 L410.5,1213.1 L406.6,1201.6 L403.6,1196.2 L401.1,1184.7 L396.7,1177.6 L392.7,1170.5 L389.8,1169.6 L386.8,1167 L381.9,1163.8 L377.9,1162.1 L375.9,1158.1 L373,1143.9 L369.5,1130.5 L363.6,1147.4 L360.1,1141.2 L355.2,1140.8 L350.2,1136.8 L346.3,1133.2 L341.3,1133.2 L337.3,1128.2 L334.4,1125.9 L331.4,1125.5 L325.5,1121.1 L322.5,1114 L320,1110 L316.6,1113.1 L312.6,1115.7 L306.7,1114.4 L302.8,1111.3 L298.3,1102.9 L295.8,1107.3 L292.9,1110.4 L289.9,1110.8 L285,1106.9 L280.5,1102.9 L277.1,1102.4 L273.6,1101.1 L270.1,1088.2 L265.7,1099.8 L262.2,1097.5 L258.3,1101.5 L255.3,1099.8 L252.4,1098.9 L249.9,1098 L247.9,1103.3 L245.9,1100.6 L244.9,1081.1 L243.5,1057.1 L242,1042 L240.5,1044.7 L238,1053.6 L236.1,1061.1 L234.1,1062.9 L232.1,1058 L229.6,1053.6 L227.7,1052.3 L226.7,1051.8 L222.7,1067.8 L217.8,1079.3 L213.8,1088.2 L210.8,1088.7 L207.9,1086.9 L204.9,1085.5 L201,1087.8 L195,1089.5 L192.1,1090 L187.1,1089.1 L183.2,1087.8 L181.2,1088.2 L178.2,1086.4 L175.3,1085.5 L172.3,1082 L170.3,1081.1 L166.4,1078.4 L162.4,1076.7 L158.5,1074.4 L154.5,1070 L151.5,1068.2 L145.6,1066.9 L140.7,1065.6 L136.7,1061.6 L132.8,1057.1 L129.8,1054.9 L123.9,1054 L120.9,1052.7 L117,1048.7 L115.5,1049.6 L112,1044.7 L109.6,1043.8 L106.6,1041.2 L101.2,1040.7 L98.7,1036.7 L97.2,1029.6 L95.4,1018.1 L93.2,1027.8 L90.8,1041.2 L88.3,1042 L86.8,1041.2 L84.8,1035.8 L82.9,1030.1 L81.4,1029.6 L79.9,1037.6 L78.6,1048.3 Z"/></clipPath>
<path d="M78.6,994.8 L240.9,998.9 L245.8,1003.7 L393.5,1008.6 L398.4,1012.7 L437.1,1018.5 L514.6,1020.5 L555.8,1022.4 L614,1024.5 L647.9,1023.8 L664.8,1021.7 L677,1024.5 L693.9,1029.3 L720.6,1033.4 L719.1,1350.1 L718.3,1354 L715.7,1363.2 L711,1376 L705.8,1362.8 L702.8,1357 L697.7,1347.8 L691.7,1336.2 L687.4,1323.1 L683.1,1303.8 L677.9,1286 L672.8,1271.4 L668.9,1262.1 L663.7,1262.1 L661.6,1272.9 L658.2,1285.3 L653.9,1293.8 L649.6,1297.6 L647,1294.1 L642.7,1295.7 L639.3,1292.2 L635.8,1286.8 L631.5,1285.3 L628.1,1284.9 L623.8,1287.6 L621.2,1286.8 L615.2,1289.1 L611.8,1288.7 L606.6,1289.1 L601.5,1284.5 L600.2,1283.6 L598,1280.6 L595.2,1276.5 L591.3,1274.8 L585.4,1277.9 L580.4,1277 L569.6,1276.5 L561.7,1272.5 L555.7,1268.5 L549.8,1265 L544.9,1264.1 L539.9,1262.8 L535,1261.4 L531,1258.8 L526.1,1253.9 L520.1,1253.5 L513.7,1255.2 L509.3,1252.1 L505.3,1247.7 L498.4,1249.9 L494.5,1245.5 L490,1238.8 L486.5,1246.4 L484.1,1245.5 L479.6,1245.9 L472.7,1241.9 L469.7,1240.6 L463.8,1235.7 L460.9,1232.7 L457.9,1229.9 L455,1226.4 L452,1225.5 L446.1,1226.9 L442.1,1228.7 L436.2,1237.1 L433.2,1239.8 L424.3,1239.3 L420.4,1236.6 L417.4,1235.3 L414.5,1224.7 L410.5,1213.1 L406.6,1201.6 L403.6,1196.2 L401.1,1184.7 L396.7,1177.6 L392.7,1170.5 L389.8,1169.6 L386.8,1167 L381.9,1163.8 L377.9,1162.1 L375.9,1158.1 L373,1143.9 L369.5,1130.5 L363.6,1147.4 L360.1,1141.2 L355.2,1140.8 L350.2,1136.8 L346.3,1133.2 L341.3,1133.2 L337.3,1128.2 L334.4,1125.9 L331.4,1125.5 L325.5,1121.1 L322.5,1114 L320,1110 L316.6,1113.1 L312.6,1115.7 L306.7,1114.4 L302.8,1111.3 L298.3,1102.9 L295.8,1107.3 L292.9,1110.4 L289.9,1110.8 L285,1106.9 L280.5,1102.9 L277.1,1102.4 L273.6,1101.1 L270.1,1088.2 L265.7,1099.8 L262.2,1097.5 L258.3,1101.5 L255.3,1099.8 L252.4,1098.9 L249.9,1098 L247.9,1103.3 L245.9,1100.6 L244.9,1081.1 L243.5,1057.1 L242,1042 L240.5,1044.7 L238,1053.6 L236.1,1061.1 L234.1,1062.9 L232.1,1058 L229.6,1053.6 L227.7,1052.3 L226.7,1051.8 L222.7,1067.8 L217.8,1079.3 L213.8,1088.2 L210.8,1088.7 L207.9,1086.9 L204.9,1085.5 L201,1087.8 L195,1089.5 L192.1,1090 L187.1,1089.1 L183.2,1087.8 L181.2,1088.2 L178.2,1086.4 L175.3,1085.5 L172.3,1082 L170.3,1081.1 L166.4,1078.4 L162.4,1076.7 L158.5,1074.4 L154.5,1070 L151.5,1068.2 L145.6,1066.9 L140.7,1065.6 L136.7,1061.6 L132.8,1057.1 L129.8,1054.9 L123.9,1054 L120.9,1052.7 L117,1048.7 L115.5,1049.6 L112,1044.7 L109.6,1043.8 L106.6,1041.2 L101.2,1040.7 L98.7,1036.7 L97.2,1029.6 L95.4,1018.1 L93.2,1027.8 L90.8,1041.2 L88.3,1042 L86.8,1041.2 L84.8,1035.8 L82.9,1030.1 L81.4,1029.6 L79.9,1037.6 L78.6,1048.3 Z" fill="#e3f0f0"/>
<g clip-path="url(#wE)"><g filter="url(#blurL)"><path d="M245.8,1003.8 L289.2,1011.7 L352.4,1027.5 L470.8,1031.4 L648.4,1025.5 L716,1027.5 L716,1098.5 L707.7,1098.5 L691.9,1110.4 L668.2,1086.7 L628.7,1076.8 L510.3,1074.9 L470.8,1082.7 L462.9,1114.3 L451,1126.2 L431.3,1122.2 L391.8,1102.5 L312.9,1082.7 L245.8,1090.6 Z" fill="#d3e7eb"/><path d="M352.4,1047.2 L470.8,1043.3 L648.4,1039.3 L687.9,1059.1 L699.8,1106.4 L684,1102.5 L668.2,1084.7 L628.7,1074.9 L510.3,1072.9 L470.8,1080.8 L458.9,1114.3 L443.2,1120.3 L423.4,1114.3 L391.8,1098.5 L352.4,1090.6 Z" fill="#cce2e8"/><path d="M245.8,1001.8 L716,1025.5 L716,1033.4 L648.4,1027.5 L470.8,1033.4 L352.4,1029.5 L289.2,1013.7 L245.8,1005.8 Z" fill="#d6e9ed"/><path d="M557.6,1047.2 L589.2,1043.3 L620.8,1051.2 L597.1,1061 L565.5,1061 Z" fill="#b5d6e4"/><path d="M78.6,1070.7 L79.8,1055.8 L81,1040.9 L82.2,1025.9 L83.4,1011 L84.7,996.1 L85.9,981.1 L87.1,981.2 L88.3,981.2 L89.5,981.2 L90.7,981.2 L91.9,981.3 L93.1,981.3 L94.3,981.3 L95.6,981.4 L96.8,981.4 L98,981.4 L99.2,981.5 L100.4,981.5 L101.6,981.5 L102.8,981.6 L104,981.6 L105.2,981.6 L106.5,981.6 L107.7,981.7 L108.9,981.7 L110.1,981.7 L111.3,981.8 L112.5,981.8 L113.7,981.8 L114.9,981.9 L116.1,981.9 L117.4,981.9 L118.6,982 L119.8,982 L121,982 L122.2,982.1 L123.4,982.1 L124.6,982.1 L125.8,982.1 L127,982.2 L128.3,982.2 L129.5,982.2 L130.7,982.3 L131.9,982.3 L133.1,982.3 L134.3,982.4 L135.5,982.4 L136.7,982.4 L138,982.5 L139.2,982.5 L140.4,982.5 L141.6,982.5 L142.8,982.6 L144,982.6 L145.2,982.6 L146.4,982.7 L147.6,982.7 L148.9,982.7 L150.1,982.8 L151.3,982.8 L152.5,982.8 L153.7,982.9 L154.9,982.9 L156.1,982.9 L157.3,982.9 L158.5,983 L159.8,983 L161,983 L162.2,983.1 L163.4,983.1 L164.6,983.1 L165.8,983.2 L167,983.2 L168.2,983.2 L169.4,983.3 L170.7,983.3 L171.9,983.3 L173.1,983.4 L174.3,983.4 L175.5,983.4 L176.7,983.4 L177.9,983.5 L179.1,983.5 L180.3,983.5 L181.6,983.6 L182.8,983.6 L184,983.6 L185.2,983.7 L186.4,983.7 L187.6,983.7 L188.8,983.8 L190,983.8 L191.2,983.8 L192.5,983.8 L193.7,983.9 L194.9,983.9 L196.1,983.9 L197.3,984 L198.5,984 L199.7,984 L200.9,984.1 L202.1,984.1 L203.4,984.1 L204.6,984.2 L205.8,984.2 L207,984.2 L208.2,984.2 L209.4,984.3 L210.6,984.3 L211.8,984.3 L213,984.4 L214.3,984.4 L215.5,984.4 L216.7,984.5 L217.9,984.5 L219.1,984.5 L220.3,984.6 L221.5,984.6 L222.7,984.6 L223.9,984.6 L225.2,984.7 L226.4,984.7 L227.6,999.7 L228.8,1014.7 L230,1029.7 L231.2,1044.7 L232.4,1059.7 L233.6,1074.7 L233.6,1074.7 L232.4,1089.6 L231.2,1104.6 L230,1119.5 L228.8,1134.5 L227.6,1149.4 L226.4,1164.3 L225.2,1164.3 L223.9,1164.3 L222.7,1164.2 L221.5,1164.2 L220.3,1164.2 L219.1,1164.1 L217.9,1164.1 L216.7,1164.1 L215.5,1164 L214.3,1164 L213,1164 L211.8,1164 L210.6,1163.9 L209.4,1163.9 L208.2,1163.9 L207,1163.8 L205.8,1163.8 L204.6,1163.8 L203.4,1163.7 L202.1,1163.7 L200.9,1163.7 L199.7,1163.6 L198.5,1163.6 L197.3,1163.6 L196.1,1163.6 L194.9,1163.5 L193.7,1163.5 L192.5,1163.5 L191.2,1163.4 L190,1163.4 L188.8,1163.4 L187.6,1163.3 L186.4,1163.3 L185.2,1163.3 L184,1163.2 L182.8,1163.2 L181.6,1163.2 L180.3,1163.2 L179.1,1163.1 L177.9,1163.1 L176.7,1163.1 L175.5,1163 L174.3,1163 L173.1,1163 L171.9,1162.9 L170.7,1162.9 L169.4,1162.9 L168.2,1162.8 L167,1162.8 L165.8,1162.8 L164.6,1162.8 L163.4,1162.7 L162.2,1162.7 L161,1162.7 L159.8,1162.6 L158.5,1162.6 L157.3,1162.6 L156.1,1162.5 L154.9,1162.5 L153.7,1162.5 L152.5,1162.4 L151.3,1162.4 L150.1,1162.4 L148.9,1162.3 L147.6,1162.3 L146.4,1162.3 L145.2,1162.3 L144,1162.2 L142.8,1162.2 L141.6,1162.2 L140.4,1162.1 L139.2,1162.1 L138,1162.1 L136.7,1162 L135.5,1162 L134.3,1162 L133.1,1161.9 L131.9,1161.9 L130.7,1161.9 L129.5,1161.9 L128.3,1161.8 L127,1161.8 L125.8,1161.8 L124.6,1161.7 L123.4,1161.7 L122.2,1161.7 L121,1161.6 L119.8,1161.6 L118.6,1161.6 L117.4,1161.5 L116.1,1161.5 L114.9,1161.5 L113.7,1161.5 L112.5,1161.4 L111.3,1161.4 L110.1,1161.4 L108.9,1161.3 L107.7,1161.3 L106.5,1161.3 L105.2,1161.2 L104,1161.2 L102.8,1161.2 L101.6,1161.1 L100.4,1161.1 L99.2,1161.1 L98,1161 L96.8,1161 L95.6,1161 L94.3,1161 L93.1,1160.9 L91.9,1160.9 L90.7,1160.9 L89.5,1160.8 L88.3,1160.8 L87.1,1160.8 L85.9,1160.7 L84.7,1145.7 L83.4,1130.7 L82.2,1115.7 L81,1100.7 L79.8,1085.7 L78.6,1070.7 Z" fill="#c6e0ea"/><path d="M78.6,1019.6 L79.8,1018.3 L81,1016.9 L82.2,1015.6 L83.4,1014.2 L84.7,1012.9 L85.9,1011.5 L87.1,1010.2 L88.3,1008.8 L89.5,1007.5 L90.7,1006.1 L91.9,1004.8 L93.1,1003.4 L94.3,1002.1 L95.6,1000.7 L96.8,999.4 L98,998 L99.2,996.7 L100.4,995.3 L101.6,994 L102.8,992.6 L104,991.3 L105.2,989.9 L106.5,988.6 L107.7,987.2 L108.9,985.9 L110.1,984.5 L111.3,983.2 L112.5,981.8 L113.7,981.8 L114.9,981.9 L116.1,981.9 L117.4,981.9 L118.6,982 L119.8,982 L121,982 L122.2,982.1 L123.4,982.1 L124.6,982.1 L125.8,982.1 L127,982.2 L128.3,982.2 L129.5,982.2 L130.7,982.3 L131.9,982.3 L133.1,982.3 L134.3,982.4 L135.5,982.4 L136.7,982.4 L138,982.5 L139.2,982.5 L140.4,982.5 L141.6,982.5 L142.8,982.6 L144,982.6 L145.2,982.6 L146.4,982.7 L147.6,982.7 L148.9,982.7 L150.1,982.8 L151.3,982.8 L152.5,982.8 L153.7,982.9 L154.9,982.9 L156.1,982.9 L157.3,982.9 L158.5,983 L159.8,983 L161,983 L162.2,983.1 L163.4,983.1 L164.6,983.1 L165.8,983.2 L167,983.2 L168.2,983.2 L169.4,983.3 L170.7,983.3 L171.9,983.3 L173.1,983.4 L174.3,983.4 L175.5,983.4 L176.7,983.4 L177.9,983.5 L179.1,983.5 L180.3,983.5 L181.6,983.6 L182.8,983.6 L184,983.6 L185.2,983.7 L186.4,983.7 L187.6,983.7 L188.8,983.8 L190,983.8 L191.2,985.2 L192.5,986.6 L193.7,988 L194.9,989.4 L196.1,990.8 L197.3,992.3 L198.5,993.7 L199.7,995.1 L200.9,996.5 L202.1,997.9 L203.4,999.3 L204.6,1000.7 L205.8,1002.1 L207,1003.6 L208.2,1005 L209.4,1006.4 L210.6,1007.8 L211.8,1009.2 L213,1010.6 L214.3,1012 L215.5,1013.4 L216.7,1014.9 L217.9,1016.3 L219.1,1017.7 L220.3,1019.1 L221.5,1020.5 L222.7,1021.9 L223.9,1023.3 L223.9,1023.3 L222.7,1024.7 L221.5,1026 L220.3,1027.4 L219.1,1028.7 L217.9,1030.1 L216.7,1031.4 L215.5,1032.8 L214.3,1034.1 L213,1035.5 L211.8,1036.8 L210.6,1038.2 L209.4,1039.5 L208.2,1040.9 L207,1042.2 L205.8,1043.6 L204.6,1044.9 L203.4,1046.3 L202.1,1047.6 L200.9,1049 L199.7,1050.4 L198.5,1051.7 L197.3,1053.1 L196.1,1054.4 L194.9,1055.8 L193.7,1057.1 L192.5,1058.5 L191.2,1059.8 L190,1061.2 L188.8,1061.1 L187.6,1061.1 L186.4,1061.1 L185.2,1061 L184,1061 L182.8,1061 L181.6,1060.9 L180.3,1060.9 L179.1,1060.9 L177.9,1060.8 L176.7,1060.8 L175.5,1060.8 L174.3,1060.8 L173.1,1060.7 L171.9,1060.7 L170.7,1060.7 L169.4,1060.6 L168.2,1060.6 L167,1060.6 L165.8,1060.5 L164.6,1060.5 L163.4,1060.5 L162.2,1060.4 L161,1060.4 L159.8,1060.4 L158.5,1060.4 L157.3,1060.3 L156.1,1060.3 L154.9,1060.3 L153.7,1060.2 L152.5,1060.2 L151.3,1060.2 L150.1,1060.1 L148.9,1060.1 L147.6,1060.1 L146.4,1060 L145.2,1060 L144,1060 L142.8,1060 L141.6,1059.9 L140.4,1059.9 L139.2,1059.9 L138,1059.8 L136.7,1059.8 L135.5,1059.8 L134.3,1059.7 L133.1,1059.7 L131.9,1059.7 L130.7,1059.6 L129.5,1059.6 L128.3,1059.6 L127,1059.5 L125.8,1059.5 L124.6,1059.5 L123.4,1059.5 L122.2,1059.4 L121,1059.4 L119.8,1059.4 L118.6,1059.3 L117.4,1059.3 L116.1,1059.3 L114.9,1059.2 L113.7,1059.2 L112.5,1059.2 L111.3,1057.8 L110.1,1056.4 L108.9,1054.9 L107.7,1053.5 L106.5,1052.1 L105.2,1050.7 L104,1049.3 L102.8,1047.9 L101.6,1046.5 L100.4,1045.1 L99.2,1043.6 L98,1042.2 L96.8,1040.8 L95.6,1039.4 L94.3,1038 L93.1,1036.6 L91.9,1035.2 L90.7,1033.8 L89.5,1032.3 L88.3,1030.9 L87.1,1029.5 L85.9,1028.1 L84.7,1026.7 L83.4,1025.3 L82.2,1023.9 L81,1022.4 L79.8,1021 L78.6,1019.6 Z" fill="#9fcbe6"/><path d="M78.6,1012.7 L79.8,1011.4 L81,1010.1 L82.2,1008.8 L83.4,1007.5 L84.7,1006.3 L85.9,1005 L87.1,1003.7 L88.3,1002.4 L89.5,1001.1 L90.7,999.8 L91.9,998.5 L93.1,997.2 L94.3,995.9 L95.6,994.6 L96.8,993.3 L98,992 L99.2,990.7 L100.4,989.4 L101.6,988.1 L102.8,986.9 L104,985.6 L105.2,984.3 L106.5,983 L107.7,981.7 L108.9,981.7 L110.1,981.7 L111.3,981.8 L112.5,981.8 L113.7,981.8 L114.9,981.9 L116.1,981.9 L117.4,981.9 L118.6,982 L119.8,982 L121,982 L122.2,982.1 L123.4,982.1 L124.6,982.1 L125.8,982.1 L127,982.2 L128.3,982.2 L129.5,982.2 L130.7,982.3 L131.9,982.3 L133.1,982.3 L134.3,982.4 L135.5,982.4 L136.7,982.4 L138,982.5 L139.2,982.5 L140.4,982.5 L141.6,982.5 L142.8,982.6 L144,982.6 L145.2,982.6 L146.4,982.7 L147.6,982.7 L148.9,982.7 L150.1,982.8 L151.3,982.8 L152.5,982.8 L153.7,982.9 L154.9,982.9 L156.1,982.9 L157.3,982.9 L158.5,983 L159.8,983 L161,983 L162.2,983.1 L163.4,983.1 L164.6,983.1 L165.8,983.2 L167,983.2 L168.2,983.2 L169.4,983.3 L170.7,983.3 L171.9,984.6 L173.1,986 L174.3,987.4 L175.5,988.7 L176.7,990.1 L177.9,991.4 L179.1,992.8 L180.3,994.1 L181.6,995.5 L182.8,996.8 L184,998.2 L185.2,999.5 L186.4,1000.9 L187.6,1002.3 L188.8,1003.6 L190,1005 L191.2,1006.3 L192.5,1007.7 L193.7,1009 L194.9,1010.4 L196.1,1011.7 L197.3,1013.1 L198.5,1014.5 L199.7,1015.8 L199.7,1015.8 L198.5,1017.1 L197.3,1018.4 L196.1,1019.7 L194.9,1021 L193.7,1022.3 L192.5,1023.6 L191.2,1024.9 L190,1026.2 L188.8,1027.4 L187.6,1028.7 L186.4,1030 L185.2,1031.3 L184,1032.6 L182.8,1033.9 L181.6,1035.2 L180.3,1036.5 L179.1,1037.8 L177.9,1039.1 L176.7,1040.4 L175.5,1041.7 L174.3,1043 L173.1,1044.3 L171.9,1045.6 L170.7,1046.8 L169.4,1046.8 L168.2,1046.8 L167,1046.8 L165.8,1046.7 L164.6,1046.7 L163.4,1046.7 L162.2,1046.6 L161,1046.6 L159.8,1046.6 L158.5,1046.5 L157.3,1046.5 L156.1,1046.5 L154.9,1046.4 L153.7,1046.4 L152.5,1046.4 L151.3,1046.4 L150.1,1046.3 L148.9,1046.3 L147.6,1046.3 L146.4,1046.2 L145.2,1046.2 L144,1046.2 L142.8,1046.1 L141.6,1046.1 L140.4,1046.1 L139.2,1046 L138,1046 L136.7,1046 L135.5,1045.9 L134.3,1045.9 L133.1,1045.9 L131.9,1045.9 L130.7,1045.8 L129.5,1045.8 L128.3,1045.8 L127,1045.7 L125.8,1045.7 L124.6,1045.7 L123.4,1045.6 L122.2,1045.6 L121,1045.6 L119.8,1045.5 L118.6,1045.5 L117.4,1045.5 L116.1,1045.5 L114.9,1045.4 L113.7,1045.4 L112.5,1045.4 L111.3,1045.3 L110.1,1045.3 L108.9,1045.3 L107.7,1045.2 L106.5,1043.9 L105.2,1042.5 L104,1041.2 L102.8,1039.8 L101.6,1038.5 L100.4,1037.1 L99.2,1035.8 L98,1034.4 L96.8,1033 L95.6,1031.7 L94.3,1030.3 L93.1,1029 L91.9,1027.6 L90.7,1026.3 L89.5,1024.9 L88.3,1023.6 L87.1,1022.2 L85.9,1020.8 L84.7,1019.5 L83.4,1018.1 L82.2,1016.8 L81,1015.4 L79.8,1014.1 L78.6,1012.7 Z" fill="#7fb0e4"/><path d="M78.6,1007.9 L79.8,1006.6 L81,1005.2 L82.2,1003.9 L83.4,1002.6 L84.7,1001.3 L85.9,1000 L87.1,998.7 L88.3,997.4 L89.5,996 L90.7,994.7 L91.9,993.4 L93.1,992.1 L94.3,990.8 L95.6,989.5 L96.8,988.1 L98,986.8 L99.2,985.5 L100.4,984.2 L101.6,982.9 L102.8,981.6 L104,981.6 L105.2,981.6 L106.5,981.6 L107.7,981.7 L108.9,981.7 L110.1,981.7 L111.3,981.8 L112.5,981.8 L113.7,981.8 L114.9,981.9 L116.1,981.9 L117.4,981.9 L118.6,982 L119.8,982 L121,982 L122.2,982.1 L123.4,982.1 L124.6,982.1 L125.8,982.1 L127,982.2 L128.3,982.2 L129.5,982.2 L130.7,982.3 L131.9,982.3 L133.1,982.3 L134.3,982.4 L135.5,982.4 L136.7,982.4 L138,982.5 L139.2,982.5 L140.4,982.5 L141.6,982.5 L142.8,982.6 L144,982.6 L145.2,982.6 L146.4,982.7 L147.6,984 L148.9,985.4 L150.1,986.8 L151.3,988.2 L152.5,989.6 L153.7,990.9 L154.9,992.3 L156.1,993.7 L157.3,995.1 L158.5,996.5 L159.8,997.8 L161,999.2 L162.2,1000.6 L163.4,1002 L164.6,1003.3 L165.8,1004.7 L167,1006.1 L168.2,1007.5 L169.4,1008.9 L170.7,1010.2 L170.7,1010.2 L169.4,1011.5 L168.2,1012.9 L167,1014.2 L165.8,1015.5 L164.6,1016.8 L163.4,1018.1 L162.2,1019.4 L161,1020.8 L159.8,1022.1 L158.5,1023.4 L157.3,1024.7 L156.1,1026 L154.9,1027.3 L153.7,1028.7 L152.5,1030 L151.3,1031.3 L150.1,1032.6 L148.9,1033.9 L147.6,1035.2 L146.4,1036.6 L145.2,1036.5 L144,1036.5 L142.8,1036.5 L141.6,1036.4 L140.4,1036.4 L139.2,1036.4 L138,1036.3 L136.7,1036.3 L135.5,1036.3 L134.3,1036.2 L133.1,1036.2 L131.9,1036.2 L130.7,1036.2 L129.5,1036.1 L128.3,1036.1 L127,1036.1 L125.8,1036 L124.6,1036 L123.4,1036 L122.2,1035.9 L121,1035.9 L119.8,1035.9 L118.6,1035.8 L117.4,1035.8 L116.1,1035.8 L114.9,1035.8 L113.7,1035.7 L112.5,1035.7 L111.3,1035.7 L110.1,1035.6 L108.9,1035.6 L107.7,1035.6 L106.5,1035.5 L105.2,1035.5 L104,1035.5 L102.8,1035.4 L101.6,1034.1 L100.4,1032.7 L99.2,1031.3 L98,1029.9 L96.8,1028.6 L95.6,1027.2 L94.3,1025.8 L93.1,1024.4 L91.9,1023 L90.7,1021.7 L89.5,1020.3 L88.3,1018.9 L87.1,1017.5 L85.9,1016.1 L84.7,1014.8 L83.4,1013.4 L82.2,1012 L81,1010.6 L79.8,1009.3 L78.6,1007.9 Z" fill="#7a8fdc"/><path d="M78.6,1007.2 L79.8,1006.4 L81,1005.6 L82.2,1004.9 L83.4,1004.1 L84.7,1003.3 L85.9,1002.5 L87.1,1001.8 L88.3,1001 L89.5,1000.2 L90.7,999.4 L91.9,998.7 L93.1,997.9 L94.3,997.1 L95.6,996.3 L96.8,995.6 L98,994.8 L99.2,994 L100.4,993.2 L101.6,992.5 L102.8,991.7 L104,990.9 L105.2,990.1 L106.5,989.4 L107.7,988.6 L108.9,988.6 L110.1,988.7 L111.3,988.7 L112.5,988.7 L113.7,988.7 L114.9,988.8 L116.1,988.8 L117.4,988.8 L118.6,988.9 L119.8,988.9 L121,988.9 L122.2,989 L123.4,989 L124.6,989 L125.8,989.1 L127,989.1 L128.3,989.1 L129.5,989.1 L130.7,990 L131.9,990.8 L133.1,991.7 L134.3,992.5 L135.5,993.3 L136.7,994.2 L138,995 L139.2,995.8 L140.4,996.7 L141.6,997.5 L142.8,998.4 L144,999.2 L145.2,1000 L146.4,1000.9 L147.6,1001.7 L148.9,1002.5 L150.1,1003.4 L151.3,1004.2 L152.5,1005 L153.7,1005.9 L154.9,1006.7 L156.1,1007.6 L157.3,1008.4 L158.5,1009.2 L158.5,1009.2 L157.3,1010 L156.1,1010.8 L154.9,1011.6 L153.7,1012.3 L152.5,1013.1 L151.3,1013.9 L150.1,1014.7 L148.9,1015.4 L147.6,1016.2 L146.4,1017 L145.2,1017.8 L144,1018.5 L142.8,1019.3 L141.6,1020.1 L140.4,1020.9 L139.2,1021.6 L138,1022.4 L136.7,1023.2 L135.5,1024 L134.3,1024.7 L133.1,1025.5 L131.9,1026.3 L130.7,1027.1 L129.5,1027.8 L128.3,1027.8 L127,1027.8 L125.8,1027.7 L124.6,1027.7 L123.4,1027.7 L122.2,1027.6 L121,1027.6 L119.8,1027.6 L118.6,1027.6 L117.4,1027.5 L116.1,1027.5 L114.9,1027.5 L113.7,1027.4 L112.5,1027.4 L111.3,1027.4 L110.1,1027.3 L108.9,1027.3 L107.7,1027.3 L106.5,1026.4 L105.2,1025.6 L104,1024.8 L102.8,1023.9 L101.6,1023.1 L100.4,1022.3 L99.2,1021.4 L98,1020.6 L96.8,1019.7 L95.6,1018.9 L94.3,1018.1 L93.1,1017.2 L91.9,1016.4 L90.7,1015.6 L89.5,1014.7 L88.3,1013.9 L87.1,1013 L85.9,1012.2 L84.7,1011.4 L83.4,1010.5 L82.2,1009.7 L81,1008.9 L79.8,1008 L78.6,1007.2 Z" fill="#7b58b8"/><path d="M78.6,1006.5 L79.8,1005.6 L81,1004.7 L82.2,1003.9 L83.4,1003 L84.7,1002.1 L85.9,1001.2 L87.1,1000.4 L88.3,999.5 L89.5,998.6 L90.7,997.7 L91.9,996.9 L93.1,996 L94.3,995.1 L95.6,994.2 L96.8,993.4 L98,992.5 L99.2,992.5 L100.4,992.5 L101.6,992.6 L102.8,992.6 L104,992.6 L105.2,992.7 L106.5,992.7 L107.7,992.7 L108.9,992.8 L110.1,992.8 L111.3,992.8 L112.5,992.9 L113.7,992.9 L114.9,992.9 L116.1,992.9 L117.4,993 L118.6,993.9 L119.8,994.9 L121,995.8 L122.2,996.7 L123.4,997.7 L124.6,998.6 L125.8,999.5 L127,1000.5 L128.3,1001.4 L129.5,1002.4 L130.7,1003.3 L131.9,1004.2 L133.1,1005.2 L134.3,1006.1 L135.5,1007 L136.7,1008 L136.7,1008 L135.5,1008.9 L134.3,1009.7 L133.1,1010.6 L131.9,1011.5 L130.7,1012.4 L129.5,1013.2 L128.3,1014.1 L127,1015 L125.8,1015.9 L124.6,1016.7 L123.4,1017.6 L122.2,1018.5 L121,1019.4 L119.8,1020.2 L118.6,1021.1 L117.4,1022 L116.1,1022 L114.9,1021.9 L113.7,1021.9 L112.5,1021.9 L111.3,1021.8 L110.1,1021.8 L108.9,1021.8 L107.7,1021.7 L106.5,1021.7 L105.2,1021.7 L104,1021.7 L102.8,1021.6 L101.6,1021.6 L100.4,1021.6 L99.2,1021.5 L98,1021.5 L96.8,1020.6 L95.6,1019.6 L94.3,1018.7 L93.1,1017.8 L91.9,1016.8 L90.7,1015.9 L89.5,1014.9 L88.3,1014 L87.1,1013.1 L85.9,1012.1 L84.7,1011.2 L83.4,1010.2 L82.2,1009.3 L81,1008.4 L79.8,1007.4 L78.6,1006.5 Z" fill="#76389c"/></g><path d="M214.2,1039.3 L226,1035.4" fill="none" stroke="#8a9597" stroke-width="1.3"/><path d="M257.6,1023.5 L289.2,1005.8" fill="none" stroke="#8a9597" stroke-width="1.3"/><path d="M147.1,1063 L170.7,1065" fill="none" stroke="#8a9597" stroke-width="1.3"/><path d="M214.2,1061 L230,1051.2" fill="none" stroke="#8a9597" stroke-width="1.3"/><path d="M245.8,1076.8 C250.4,1073.9 260.9,1065.6 273.4,1059.1 C285.9,1052.5 306.3,1040.6 320.8,1037.3 C335.2,1034.1 353.7,1039 360.2,1039.3" fill="none" stroke="#8a9597" stroke-width="1.3"/><path d="M399.7,1059.1 C405,1062 422.8,1072.6 431.3,1076.8 C439.9,1081.1 444.5,1086.4 451,1084.7 C457.6,1083.1 464.2,1072.2 470.8,1067 C477.4,1061.7 483.9,1056.1 490.5,1053.1 C497.1,1050.2 500.4,1049.2 510.3,1049.2 C520.1,1049.2 536.6,1052.2 549.7,1053.1 C562.9,1054.1 577.4,1056.8 589.2,1055.1 C601.1,1053.5 610.9,1046.6 620.8,1043.3 C630.7,1040 641.9,1035 648.4,1035.4 C655,1035.7 658.3,1043.6 660.3,1045.2" fill="none" stroke="#8a9597" stroke-width="1.3"/><path d="M695.8,1080.8 C697.8,1080.4 704.3,1081.8 707.7,1078.8 C711,1075.8 714.6,1065.6 716,1063" fill="none" stroke="#8a9597" stroke-width="1.3"/><path d="M378,1153.8 L383.9,1124.2" fill="none" stroke="#8a9597" stroke-width="1.3"/><path d="M419.5,1145.9 C424.7,1148.9 442.5,1161.7 451,1163.7 C459.6,1165.7 460.9,1161 470.8,1157.8 C480.7,1154.5 497.1,1147.2 510.3,1143.9 C523.4,1140.7 536.6,1139.7 549.7,1138 C562.9,1136.4 577.4,1136.7 589.2,1134.1 C601.1,1131.4 610.9,1125.2 620.8,1122.2 C630.7,1119.3 640.5,1115 648.4,1116.3 C656.3,1117.6 662.9,1123.9 668.2,1130.1 C673.4,1136.4 678.1,1149.9 680,1153.8" fill="none" stroke="#8a9597" stroke-width="1.3"/><path d="M707.7,1197.2 L716,1209.1" fill="none" stroke="#8a9597" stroke-width="1.3"/><path d="M147.1,999.8 L139.2,1005.8" fill="none" stroke="#8a9597" stroke-width="1.3"/><path d="M166.8,1001.8 L158.9,1007.7" fill="none" stroke="#8a9597" stroke-width="1.3"/><path d="M206.3,1003.8 L194.4,1009.7" fill="none" stroke="#8a9597" stroke-width="1.3"/><path d="M233.9,999.8 L218.1,1007.7" fill="none" stroke="#8a9597" stroke-width="1.3"/><path d="M78.6,1003 L79.8,1003.2 L81,1003.4 L82.2,1003.5 L83.4,1003.7 L84.7,1003.8 L85.9,1003.8 L87.1,1003.7 L88.3,1003.4 L89.5,1002.8 L90.7,1002 L91.9,1001.1 L93.1,1000.5 L94.3,1000.4 L95.6,1000.9 L96.8,1001.8 L98,1003 L99.2,1004.1 L100.4,1005.1 L101.6,1005.7 L102.8,1006.2 L104,1006.5 L105.2,1006.7 L106.5,1006.9 L107.7,1007.1 L108.9,1007.3 L110.1,1007.4 L111.3,1007.6 L112.5,1007.8 L113.7,1007.9 L114.9,1008.1 L116.1,1008.3 L117.4,1008.5 L118.6,1008.6 L119.8,1008.8 L121,1009 L122.2,1009.1 L123.4,1009.3 L124.6,1009.5 L125.8,1009.6 L127,1009.8 L128.3,1010 L129.5,1010.1 L130.7,1010.3 L131.9,1010.5 L133.1,1010.7 L134.3,1010.8 L135.5,1011 L136.7,1011.2 L138,1011.3 L139.2,1011.5 L140.4,1011.7 L141.6,1011.8 L142.8,1012 L144,1012.2 L145.2,1012.3 L146.4,1012.5 L147.6,1012.7 L148.9,1012.9 L150.1,1013 L151.3,1013.2" fill="none" stroke="#d8909a" stroke-width="1.1" opacity="0.85"/><path d="M78.6,1007.9 L79.8,1008.2 L81,1008.5 L82.2,1008.8 L83.4,1009.1 L84.7,1009.3 L85.9,1009.5 L87.1,1009.5 L88.3,1009.3 L89.5,1008.9 L90.7,1008.2 L91.9,1007.5 L93.1,1007 L94.3,1007 L95.6,1007.6 L96.8,1008.7 L98,1010 L99.2,1011.3 L100.4,1012.4 L101.6,1013.2 L102.8,1013.8 L104,1014.2 L105.2,1014.6 L106.5,1014.9 L107.7,1015.3 L108.9,1015.6 L110.1,1015.9 L111.3,1016.2 L112.5,1016.5 L113.7,1016.8 L114.9,1017.1 L116.1,1017.4 L117.4,1017.7 L118.6,1018 L119.8,1018.3 L121,1018.6 L122.2,1018.9 L123.4,1019.2 L124.6,1019.6 L125.8,1019.9 L127,1020.2 L128.3,1020.5 L129.5,1020.8 L130.7,1021.1 L131.9,1021.4 L133.1,1021.7 L134.3,1022 L135.5,1022.3 L136.7,1022.6 L138,1022.9 L139.2,1023.2 L140.4,1023.6 L141.6,1023.9 L142.8,1024.2 L144,1024.5 L145.2,1024.8 L146.4,1025.1 L147.6,1025.4 L148.9,1025.7 L150.1,1026 L151.3,1026.3" fill="none" stroke="#d8909a" stroke-width="1.1" opacity="0.85"/><path d="M78.6,1012.7 L79.8,1013.2 L81,1013.6 L82.2,1014 L83.4,1014.5 L84.7,1014.9 L85.9,1015.2 L87.1,1015.3 L88.3,1015.3 L89.5,1014.9 L90.7,1014.4 L91.9,1013.8 L93.1,1013.5 L94.3,1013.7 L95.6,1014.4 L96.8,1015.6 L98,1017.1 L99.2,1018.5 L100.4,1019.7 L101.6,1020.7 L102.8,1021.4 L104,1022 L105.2,1022.5 L106.5,1023 L107.7,1023.4 L108.9,1023.9 L110.1,1024.3 L111.3,1024.7 L112.5,1025.2 L113.7,1025.6 L114.9,1026.1 L116.1,1026.5 L117.4,1027 L118.6,1027.4 L119.8,1027.9 L121,1028.3 L122.2,1028.8 L123.4,1029.2 L124.6,1029.6 L125.8,1030.1 L127,1030.5 L128.3,1031 L129.5,1031.4 L130.7,1031.9 L131.9,1032.3 L133.1,1032.8 L134.3,1033.2 L135.5,1033.7 L136.7,1034.1 L138,1034.5 L139.2,1035 L140.4,1035.4 L141.6,1035.9 L142.8,1036.3 L144,1036.8 L145.2,1037.2 L146.4,1037.7 L147.6,1038.1 L148.9,1038.6 L150.1,1039 L151.3,1039.4" fill="none" stroke="#d8909a" stroke-width="1.1" opacity="0.85"/><path d="M78.6,1017.6 L79.8,1018.1 L81,1018.7 L82.2,1019.3 L83.4,1019.9 L84.7,1020.4 L85.9,1020.8 L87.1,1021.1 L88.3,1021.2 L89.5,1021 L90.7,1020.6 L91.9,1020.2 L93.1,1020 L94.3,1020.3 L95.6,1021.2 L96.8,1022.5 L98,1024.1 L99.2,1025.7 L100.4,1027 L101.6,1028.1 L102.8,1029 L104,1029.7 L105.2,1030.4 L106.5,1031 L107.7,1031.6 L108.9,1032.1 L110.1,1032.7 L111.3,1033.3 L112.5,1033.9 L113.7,1034.5 L114.9,1035.1 L116.1,1035.6 L117.4,1036.2 L118.6,1036.8 L119.8,1037.4 L121,1038 L122.2,1038.6 L123.4,1039.1 L124.6,1039.7 L125.8,1040.3 L127,1040.9 L128.3,1041.5 L129.5,1042.1 L130.7,1042.6 L131.9,1043.2 L133.1,1043.8 L134.3,1044.4 L135.5,1045 L136.7,1045.6 L138,1046.1 L139.2,1046.7 L140.4,1047.3 L141.6,1047.9 L142.8,1048.5 L144,1049.1 L145.2,1049.6 L146.4,1050.2 L147.6,1050.8 L148.9,1051.4 L150.1,1052 L151.3,1052.6" fill="none" stroke="#d8909a" stroke-width="1.1" opacity="0.85"/><path d="M78.6,1022.4 L79.8,1023.1 L81,1023.8 L82.2,1024.5 L83.4,1025.2 L84.7,1025.9 L85.9,1026.5 L87.1,1026.9 L88.3,1027.1 L89.5,1027.1 L90.7,1026.8 L91.9,1026.6 L93.1,1026.5 L94.3,1026.9 L95.6,1027.9 L96.8,1029.4 L98,1031.2 L99.2,1032.9 L100.4,1034.4 L101.6,1035.6 L102.8,1036.6 L104,1037.5 L105.2,1038.2 L106.5,1039 L107.7,1039.7 L108.9,1040.4 L110.1,1041.2 L111.3,1041.9 L112.5,1042.6 L113.7,1043.3 L114.9,1044 L116.1,1044.8 L117.4,1045.5 L118.6,1046.2 L119.8,1046.9 L121,1047.6 L122.2,1048.4 L123.4,1049.1 L124.6,1049.8 L125.8,1050.5 L127,1051.3 L128.3,1052 L129.5,1052.7 L130.7,1053.4 L131.9,1054.1 L133.1,1054.9 L134.3,1055.6 L135.5,1056.3 L136.7,1057 L138,1057.8 L139.2,1058.5 L140.4,1059.2 L141.6,1059.9 L142.8,1060.6 L144,1061.4 L145.2,1062.1 L146.4,1062.8 L147.6,1063.5 L148.9,1064.2 L150.1,1065 L151.3,1065.7" fill="none" stroke="#d8909a" stroke-width="1.1" opacity="0.85"/><path d="M78.6,1027.2 L79.8,1028.1 L81,1028.9 L82.2,1029.8 L83.4,1030.6 L84.7,1031.4 L85.9,1032.2 L87.1,1032.7 L88.3,1033.1 L89.5,1033.2 L90.7,1033.1 L91.9,1032.9 L93.1,1033 L94.3,1033.6 L95.6,1034.7 L96.8,1036.4 L98,1038.2 L99.2,1040.1 L100.4,1041.7 L101.6,1043.1 L102.8,1044.2 L104,1045.2 L105.2,1046.1 L106.5,1047 L107.7,1047.9 L108.9,1048.7 L110.1,1049.6 L111.3,1050.4 L112.5,1051.3 L113.7,1052.2 L114.9,1053 L116.1,1053.9 L117.4,1054.7 L118.6,1055.6 L119.8,1056.5 L121,1057.3 L122.2,1058.2 L123.4,1059 L124.6,1059.9 L125.8,1060.8 L127,1061.6 L128.3,1062.5 L129.5,1063.3 L130.7,1064.2 L131.9,1065.1 L133.1,1065.9 L134.3,1066.8 L135.5,1067.6 L136.7,1068.5 L138,1069.4 L139.2,1070.2 L140.4,1071.1 L141.6,1071.9 L142.8,1072.8 L144,1073.7 L145.2,1074.5 L146.4,1075.4 L147.6,1076.2 L148.9,1077.1 L150.1,1078 L151.3,1078.8" fill="none" stroke="#d8909a" stroke-width="1.1" opacity="0.85"/><path d="M78.6,1032.1 L79.8,1033.1 L81,1034.1 L82.2,1035 L83.4,1036 L84.7,1037 L85.9,1037.8 L87.1,1038.5 L88.3,1039 L89.5,1039.3 L90.7,1039.3 L91.9,1039.3 L93.1,1039.5 L94.3,1040.2 L95.6,1041.5 L96.8,1043.3 L98,1045.3 L99.2,1047.2 L100.4,1049 L101.6,1050.5 L102.8,1051.8 L104,1052.9 L105.2,1054 L106.5,1055 L107.7,1056 L108.9,1057 L110.1,1058 L111.3,1059 L112.5,1060 L113.7,1061 L114.9,1062 L116.1,1063 L117.4,1064 L118.6,1065 L119.8,1066 L121,1067 L122.2,1068 L123.4,1069 L124.6,1070 L125.8,1071 L127,1072 L128.3,1073 L129.5,1074 L130.7,1075 L131.9,1076 L133.1,1077 L134.3,1078 L135.5,1079 L136.7,1080 L138,1081 L139.2,1082 L140.4,1083 L141.6,1084 L142.8,1085 L144,1086 L145.2,1087 L146.4,1088 L147.6,1089 L148.9,1089.9 L150.1,1090.9 L151.3,1091.9" fill="none" stroke="#d8909a" stroke-width="1.1" opacity="0.85"/></g>
<path d="M78.6,1048.3 L79.9,1037.6 L81.4,1029.6 L82.9,1030.1 L84.8,1035.8 L86.8,1041.2 L88.3,1042 L90.8,1041.2 L93.2,1027.8 L95.4,1018.1 L97.2,1029.6 L98.7,1036.7 L101.2,1040.7 L106.6,1041.2 L109.6,1043.8 L112,1044.7 L115.5,1049.6 L117,1048.7 L120.9,1052.7 L123.9,1054 L129.8,1054.9 L132.8,1057.1 L136.7,1061.6 L140.7,1065.6 L145.6,1066.9 L151.5,1068.2 L154.5,1070 L158.5,1074.4 L162.4,1076.7 L166.4,1078.4 L170.3,1081.1 L172.3,1082 L175.3,1085.5 L178.2,1086.4 L181.2,1088.2 L183.2,1087.8 L187.1,1089.1 L192.1,1090 L195,1089.5 L201,1087.8 L204.9,1085.5 L207.9,1086.9 L210.8,1088.7 L213.8,1088.2 L217.8,1079.3 L222.7,1067.8 L226.7,1051.8 L227.7,1052.3 L229.6,1053.6 L232.1,1058 L234.1,1062.9 L236.1,1061.1 L238,1053.6 L240.5,1044.7 L242,1042 L243.5,1057.1 L244.9,1081.1 L245.9,1100.6 L247.9,1103.3 L249.9,1098 L252.4,1098.9 L255.3,1099.8 L258.3,1101.5 L262.2,1097.5 L265.7,1099.8 L270.1,1088.2 L273.6,1101.1 L277.1,1102.4 L280.5,1102.9 L285,1106.9 L289.9,1110.8 L292.9,1110.4 L295.8,1107.3 L298.3,1102.9 L302.8,1111.3 L306.7,1114.4 L312.6,1115.7 L316.6,1113.1 L320,1110 L322.5,1114 L325.5,1121.1 L331.4,1125.5 L334.4,1125.9 L337.3,1128.2 L341.3,1133.2 L346.3,1133.2 L350.2,1136.8 L355.2,1140.8 L360.1,1141.2 L363.6,1147.4 L369.5,1130.5 L373,1143.9 L375.9,1158.1 L377.9,1162.1 L381.9,1163.8 L386.8,1167 L389.8,1169.6 L392.7,1170.5 L396.7,1177.6 L401.1,1184.7 L403.6,1196.2 L406.6,1201.6 L410.5,1213.1 L414.5,1224.7 L417.4,1235.3 L420.4,1236.6 L424.3,1239.3 L433.2,1239.8 L436.2,1237.1 L442.1,1228.7 L446.1,1226.9 L452,1225.5 L455,1226.4 L457.9,1229.9 L460.9,1232.7 L463.8,1235.7 L469.7,1240.6 L472.7,1241.9 L479.6,1245.9 L484.1,1245.5 L486.5,1246.4 L490,1238.8 L494.5,1245.5 L498.4,1249.9 L505.3,1247.7 L509.3,1252.1 L513.7,1255.2 L520.1,1253.5 L526.1,1253.9 L531,1258.8 L535,1261.4 L539.9,1262.8 L544.9,1264.1 L549.8,1265 L555.7,1268.5 L561.7,1272.5 L569.6,1276.5 L580.4,1277 L585.4,1277.9 L591.3,1274.8 L595.2,1276.5 L598,1280.6 L600.2,1283.6 L601.5,1284.5 L606.6,1289.1 L611.8,1288.7 L615.2,1289.1 L621.2,1286.8 L623.8,1287.6 L628.1,1284.9 L631.5,1285.3 L635.8,1286.8 L639.3,1292.2 L642.7,1295.7 L647,1294.1 L649.6,1297.6 L653.9,1293.8 L658.2,1285.3 L661.6,1272.9 L663.7,1262.1 L668.9,1262.1 L672.8,1271.4 L677.9,1286 L683.1,1303.8 L687.4,1323.1 L691.7,1336.2 L697.7,1347.8 L702.8,1357 L705.8,1362.8 L711,1376 L715.7,1363.2 L718.3,1354 L719.1,1350.1" fill="none" stroke="#303030" stroke-width="1.4" stroke-linejoin="round"/>
<text x="123.4" y="1011.7" transform="rotate(0 123.4 1011.7)" font-family='"Liberation Sans", Arial, Helvetica, sans-serif' font-size="29" text-anchor="middle" dominant-baseline="central" fill="#151515">6</text><text x="141.1" y="1017.6" transform="rotate(0 141.1 1017.6)" font-family='"Liberation Sans", Arial, Helvetica, sans-serif' font-size="29" text-anchor="middle" dominant-baseline="central" fill="#151515">9</text><text x="166.8" y="1019.6" transform="rotate(0 166.8 1019.6)" font-family='"Liberation Sans", Arial, Helvetica, sans-serif' font-size="29" text-anchor="middle" dominant-baseline="central" fill="#151515">12</text><text x="194.4" y="1025.5" transform="rotate(0 194.4 1025.5)" font-family='"Liberation Sans", Arial, Helvetica, sans-serif' font-size="29" text-anchor="middle" dominant-baseline="central" fill="#151515">15</text><text x="239.8" y="1031.4" transform="rotate(-5 239.8 1031.4)" font-family='"Liberation Sans", Arial, Helvetica, sans-serif' font-size="29" text-anchor="middle" dominant-baseline="central" fill="#151515">18</text><text x="192.5" y="1065" transform="rotate(0 192.5 1065)" font-family='"Liberation Sans", Arial, Helvetica, sans-serif' font-size="29" text-anchor="middle" dominant-baseline="central" fill="#151515">21</text><text x="378" y="1049.2" transform="rotate(15 378 1049.2)" font-family='"Liberation Sans", Arial, Helvetica, sans-serif' font-size="29" text-anchor="middle" dominant-baseline="central" fill="#151515">21</text><text x="672.1" y="1063" transform="rotate(40 672.1 1063)" font-family='"Liberation Sans", Arial, Helvetica, sans-serif' font-size="29" text-anchor="middle" dominant-baseline="central" fill="#151515">21</text><text x="401.7" y="1134.1" transform="rotate(30 401.7 1134.1)" font-family='"Liberation Sans", Arial, Helvetica, sans-serif' font-size="29" text-anchor="middle" dominant-baseline="central" fill="#151515">24</text><text x="693.8" y="1177.5" transform="rotate(45 693.8 1177.5)" font-family='"Liberation Sans", Arial, Helvetica, sans-serif' font-size="29" text-anchor="middle" dominant-baseline="central" fill="#151515">24</text><path d="M188.5,1191.3 L295.9,1312.6" stroke="#1e1e1e" stroke-width="3.7" fill="none"/><path d="M310.9,1329.5 L278,1317.9 L294.6,1311.1 L303.4,1295.4 Z" fill="#1e1e1e"/>
</g>
<rect x="78.6" y="991.3" width="639.6" height="414.5" fill="none" stroke="#6e6e6e" stroke-width="1.4"/><path d="M199.7,991.3v8M199.7,1405.8v-8M320.9,991.3v8M320.9,1405.8v-8M442,991.3v8M442,1405.8v-8M563.1,991.3v8M563.1,1405.8v-8M684.2,991.3v8M684.2,1405.8v-8M78.6,1060.4h8M718.2,1060.4h-8M78.6,1129.5h8M718.2,1129.5h-8M78.6,1198.5h8M718.2,1198.5h-8M78.6,1267.6h8M718.2,1267.6h-8M78.6,1336.7h8M718.2,1336.7h-8" stroke="#444" stroke-width="1.5" fill="none"/>
<rect x="725.2" y="990" width="32" height="414.5" fill="url(#gDense)" stroke="#6e6e6e" stroke-width="1.4"/>
<g clip-path="url(#clipF)">
<clipPath id="wF"><path d="M82.5,1467.7 L244.7,1471.9 L249.5,1476.7 L397.2,1481.5 L402,1485.6 L440.8,1491.3 L518.2,1493.3 L559.4,1495.2 L617.5,1497.3 L651.4,1496.6 L668.3,1494.5 L680.4,1497.3 L697.4,1502.1 L724,1506.2 L722.6,1820.8 L721.7,1824.7 L719.2,1833.9 L714.4,1846.5 L709.3,1833.5 L706.3,1827.7 L701.1,1818.5 L695.1,1807 L690.8,1794 L686.5,1774.8 L681.4,1757.2 L676.2,1742.6 L672.4,1733.4 L667.2,1733.4 L665.1,1744.2 L661.7,1756.4 L657.4,1764.9 L653.1,1768.7 L650.5,1765.2 L646.2,1766.8 L642.8,1763.3 L639.3,1758 L635,1756.4 L631.6,1756 L627.3,1758.7 L624.7,1758 L618.7,1760.3 L615.3,1759.9 L610.2,1760.3 L605,1755.7 L603.7,1754.8 L601.6,1751.8 L598.8,1747.7 L594.8,1746 L588.9,1749.1 L584,1748.2 L573.1,1747.7 L565.2,1743.8 L559.3,1739.8 L553.4,1736.3 L548.4,1735.4 L543.5,1734.1 L538.5,1732.7 L534.6,1730.1 L529.7,1725.2 L523.7,1724.8 L517.3,1726.6 L512.9,1723.5 L508.9,1719.1 L502,1721.3 L498.1,1716.9 L493.6,1710.3 L490.2,1717.8 L487.7,1716.9 L483.3,1717.3 L476.3,1713.3 L473.4,1712 L467.5,1707.2 L464.5,1704.1 L461.5,1701.4 L458.6,1698 L455.6,1697.1 L449.7,1698.4 L445.8,1700.2 L439.8,1708.5 L436.9,1711.2 L428,1710.8 L424,1708.1 L421.1,1706.8 L418.1,1696.2 L414.2,1684.7 L410.2,1673.3 L407.3,1668 L404.8,1656.5 L400.4,1649.4 L396.4,1642.4 L393.4,1641.5 L390.5,1638.8 L385.5,1635.8 L381.6,1634 L379.6,1630 L376.7,1615.9 L373.2,1602.7 L367.3,1619.4 L363.8,1613.3 L358.9,1612.8 L353.9,1608.9 L350,1605.3 L345.1,1605.3 L341.1,1600.3 L338.1,1598.1 L335.1,1597.7 L329.2,1593.2 L326.2,1586.2 L323.8,1582.2 L320.3,1585.3 L316.4,1588 L310.4,1586.6 L306.5,1583.5 L302.1,1575.2 L299.6,1579.6 L296.6,1582.7 L293.7,1583.1 L288.7,1579.1 L284.3,1575.2 L280.8,1574.7 L277.4,1573.4 L273.9,1560.6 L269.5,1572.1 L266,1569.9 L262.1,1573.8 L259.1,1572.1 L256.1,1571.2 L253.7,1570.3 L251.7,1575.6 L249.7,1573 L248.7,1553.5 L247.2,1529.7 L245.8,1514.7 L244.3,1517.4 L241.8,1526.2 L239.8,1533.7 L237.9,1535.5 L235.9,1530.6 L233.4,1526.2 L231.4,1524.9 L230.4,1524.4 L226.5,1540.3 L221.6,1551.8 L217.6,1560.6 L214.6,1561 L211.7,1559.3 L208.7,1558 L204.8,1560.2 L198.8,1561.9 L195.9,1562.4 L190.9,1561.5 L187,1560.2 L185,1560.6 L182.1,1558.8 L179.1,1558 L176.1,1554.4 L174.2,1553.5 L170.2,1550.9 L166.3,1549.1 L162.3,1546.9 L158.4,1542.5 L155.4,1540.7 L149.5,1539.4 L144.5,1538.1 L140.6,1534.1 L136.6,1529.7 L133.7,1527.5 L127.7,1526.6 L124.8,1525.3 L120.8,1521.3 L119.4,1522.2 L115.9,1517.4 L113.4,1516.5 L110.5,1513.8 L105,1513.4 L102.6,1509.4 L101.1,1502.4 L99.3,1490.9 L97.1,1500.6 L94.7,1513.8 L92.2,1514.7 L90.7,1513.8 L88.7,1508.5 L86.8,1502.8 L85.3,1502.4 L83.8,1510.3 L82.5,1520.9 Z"/></clipPath>
<path d="M82.5,1467.7 L244.7,1471.9 L249.5,1476.7 L397.2,1481.5 L402,1485.6 L440.8,1491.3 L518.2,1493.3 L559.4,1495.2 L617.5,1497.3 L651.4,1496.6 L668.3,1494.5 L680.4,1497.3 L697.4,1502.1 L724,1506.2 L722.6,1820.8 L721.7,1824.7 L719.2,1833.9 L714.4,1846.5 L709.3,1833.5 L706.3,1827.7 L701.1,1818.5 L695.1,1807 L690.8,1794 L686.5,1774.8 L681.4,1757.2 L676.2,1742.6 L672.4,1733.4 L667.2,1733.4 L665.1,1744.2 L661.7,1756.4 L657.4,1764.9 L653.1,1768.7 L650.5,1765.2 L646.2,1766.8 L642.8,1763.3 L639.3,1758 L635,1756.4 L631.6,1756 L627.3,1758.7 L624.7,1758 L618.7,1760.3 L615.3,1759.9 L610.2,1760.3 L605,1755.7 L603.7,1754.8 L601.6,1751.8 L598.8,1747.7 L594.8,1746 L588.9,1749.1 L584,1748.2 L573.1,1747.7 L565.2,1743.8 L559.3,1739.8 L553.4,1736.3 L548.4,1735.4 L543.5,1734.1 L538.5,1732.7 L534.6,1730.1 L529.7,1725.2 L523.7,1724.8 L517.3,1726.6 L512.9,1723.5 L508.9,1719.1 L502,1721.3 L498.1,1716.9 L493.6,1710.3 L490.2,1717.8 L487.7,1716.9 L483.3,1717.3 L476.3,1713.3 L473.4,1712 L467.5,1707.2 L464.5,1704.1 L461.5,1701.4 L458.6,1698 L455.6,1697.1 L449.7,1698.4 L445.8,1700.2 L439.8,1708.5 L436.9,1711.2 L428,1710.8 L424,1708.1 L421.1,1706.8 L418.1,1696.2 L414.2,1684.7 L410.2,1673.3 L407.3,1668 L404.8,1656.5 L400.4,1649.4 L396.4,1642.4 L393.4,1641.5 L390.5,1638.8 L385.5,1635.8 L381.6,1634 L379.6,1630 L376.7,1615.9 L373.2,1602.7 L367.3,1619.4 L363.8,1613.3 L358.9,1612.8 L353.9,1608.9 L350,1605.3 L345.1,1605.3 L341.1,1600.3 L338.1,1598.1 L335.1,1597.7 L329.2,1593.2 L326.2,1586.2 L323.8,1582.2 L320.3,1585.3 L316.4,1588 L310.4,1586.6 L306.5,1583.5 L302.1,1575.2 L299.6,1579.6 L296.6,1582.7 L293.7,1583.1 L288.7,1579.1 L284.3,1575.2 L280.8,1574.7 L277.4,1573.4 L273.9,1560.6 L269.5,1572.1 L266,1569.9 L262.1,1573.8 L259.1,1572.1 L256.1,1571.2 L253.7,1570.3 L251.7,1575.6 L249.7,1573 L248.7,1553.5 L247.2,1529.7 L245.8,1514.7 L244.3,1517.4 L241.8,1526.2 L239.8,1533.7 L237.9,1535.5 L235.9,1530.6 L233.4,1526.2 L231.4,1524.9 L230.4,1524.4 L226.5,1540.3 L221.6,1551.8 L217.6,1560.6 L214.6,1561 L211.7,1559.3 L208.7,1558 L204.8,1560.2 L198.8,1561.9 L195.9,1562.4 L190.9,1561.5 L187,1560.2 L185,1560.6 L182.1,1558.8 L179.1,1558 L176.1,1554.4 L174.2,1553.5 L170.2,1550.9 L166.3,1549.1 L162.3,1546.9 L158.4,1542.5 L155.4,1540.7 L149.5,1539.4 L144.5,1538.1 L140.6,1534.1 L136.6,1529.7 L133.7,1527.5 L127.7,1526.6 L124.8,1525.3 L120.8,1521.3 L119.4,1522.2 L115.9,1517.4 L113.4,1516.5 L110.5,1513.8 L105,1513.4 L102.6,1509.4 L101.1,1502.4 L99.3,1490.9 L97.1,1500.6 L94.7,1513.8 L92.2,1514.7 L90.7,1513.8 L88.7,1508.5 L86.8,1502.8 L85.3,1502.4 L83.8,1510.3 L82.5,1520.9 Z" fill="#e3f0f0"/>
<g clip-path="url(#wF)"><g filter="url(#blurL)"><path d="M237.9,1475.8 L395.8,1487.6 L474.8,1493.6 L672.2,1491.6 L720,1499.5 L720,1590.3 L695.9,1590.3 L672.2,1562.6 L632.7,1554.7 L593.2,1562.6 L553.7,1570.5 L514.3,1582.4 L466.9,1598.2 L459,1625.8 L435.3,1617.9 L415.6,1590.3 L376.1,1562.6 L316.9,1546.9 L249.8,1558.7 Z" fill="#d1e5ea"/><path d="M257.7,1515.3 L316.9,1507.4 L395.8,1523.2 L435.3,1539 L474.8,1539 L553.7,1531.1 L632.7,1519.2 L672.2,1531.1 L695.9,1578.4 L672.2,1558.7 L632.7,1550.8 L593.2,1558.7 L553.7,1566.6 L514.3,1578.4 L470.8,1594.2 L459,1617.9 L439.3,1614 L419.5,1586.3 L380,1558.7 L316.9,1542.9 L257.7,1550.8 Z" fill="#cae1e8"/><path d="M395.8,1483.7 L720,1493.6 L720,1503.4 L672.2,1497.5 L474.8,1498.7 L395.8,1495.5 Z" fill="#d6e9ed"/><path d="M178.7,1475.8 L395.8,1483.7 L407.7,1499.5 L356.4,1503.4 L277.4,1505.4 L218.2,1507.4 L178.7,1503.4 Z" fill="#aed2e6"/><path d="M198.4,1477.8 L316.9,1479.7 L395.8,1487.6 L391.9,1497.5 L316.9,1497.5 L249.8,1499.5 L198.4,1495.5 Z" fill="#8fbde6"/><path d="M82.5,1543.2 L83.7,1528.4 L84.9,1513.6 L86.1,1498.7 L87.3,1483.9 L88.6,1469 L89.8,1454.2 L91,1454.2 L92.2,1454.2 L93.4,1454.3 L94.6,1454.3 L95.8,1454.3 L97,1454.4 L98.2,1454.4 L99.4,1454.4 L100.7,1454.5 L101.9,1454.5 L103.1,1454.5 L104.3,1454.6 L105.5,1454.6 L106.7,1454.6 L107.9,1454.6 L109.1,1454.7 L110.3,1454.7 L111.5,1454.7 L112.8,1454.8 L114,1454.8 L115.2,1454.8 L116.4,1454.9 L117.6,1454.9 L118.8,1454.9 L120,1455 L121.2,1455 L122.4,1455 L123.7,1455 L124.9,1455.1 L126.1,1455.1 L127.3,1455.1 L128.5,1455.2 L129.7,1455.2 L130.9,1455.2 L132.1,1455.3 L133.3,1455.3 L134.5,1455.3 L135.8,1455.4 L137,1455.4 L138.2,1455.4 L139.4,1455.4 L140.6,1455.5 L141.8,1455.5 L143,1455.5 L144.2,1455.6 L145.4,1455.6 L146.7,1455.6 L147.9,1455.7 L149.1,1455.7 L150.3,1455.7 L151.5,1455.8 L152.7,1455.8 L153.9,1455.8 L155.1,1455.8 L156.3,1455.9 L157.5,1455.9 L158.8,1455.9 L160,1456 L161.2,1456 L162.4,1456 L163.6,1456.1 L164.8,1456.1 L166,1456.1 L167.2,1456.2 L168.4,1456.2 L169.6,1456.2 L170.9,1456.2 L172.1,1456.3 L173.3,1456.3 L174.5,1456.3 L175.7,1456.4 L176.9,1456.4 L178.1,1456.4 L179.3,1456.5 L180.5,1456.5 L181.8,1456.5 L183,1456.6 L184.2,1456.6 L185.4,1456.6 L186.6,1456.6 L187.8,1456.7 L189,1456.7 L190.2,1456.7 L191.4,1456.8 L192.6,1456.8 L193.9,1456.8 L195.1,1456.9 L196.3,1456.9 L197.5,1456.9 L198.7,1457 L199.9,1457 L201.1,1457 L202.3,1457 L203.5,1457.1 L204.8,1457.1 L206,1457.1 L207.2,1457.2 L208.4,1457.2 L209.6,1457.2 L210.8,1457.3 L212,1457.3 L213.2,1457.3 L214.4,1457.4 L215.6,1457.4 L216.9,1457.4 L218.1,1457.4 L219.3,1457.5 L220.5,1457.5 L221.7,1457.5 L222.9,1457.6 L224.1,1457.6 L225.3,1457.6 L226.5,1457.7 L227.7,1457.7 L229,1457.7 L230.2,1457.8 L231.4,1457.8 L232.6,1457.8 L233.8,1457.8 L235,1457.9 L236.2,1457.9 L237.4,1457.9 L238.6,1458 L239.9,1458 L241.1,1458 L242.3,1458.1 L243.5,1458.1 L244.7,1458.1 L245.9,1474.2 L247.1,1490.3 L248.3,1506.3 L249.5,1522.4 L250.7,1537.3 L252,1552.3 L252,1552.3 L250.7,1567.1 L249.5,1581.9 L248.3,1595.6 L247.1,1609.3 L245.9,1622.9 L244.7,1636.6 L243.5,1636.6 L242.3,1636.6 L241.1,1636.5 L239.9,1636.5 L238.6,1636.5 L237.4,1636.4 L236.2,1636.4 L235,1636.4 L233.8,1636.3 L232.6,1636.3 L231.4,1636.3 L230.2,1636.2 L229,1636.2 L227.7,1636.2 L226.5,1636.2 L225.3,1636.1 L224.1,1636.1 L222.9,1636.1 L221.7,1636 L220.5,1636 L219.3,1636 L218.1,1635.9 L216.9,1635.9 L215.6,1635.9 L214.4,1635.8 L213.2,1635.8 L212,1635.8 L210.8,1635.8 L209.6,1635.7 L208.4,1635.7 L207.2,1635.7 L206,1635.6 L204.8,1635.6 L203.5,1635.6 L202.3,1635.5 L201.1,1635.5 L199.9,1635.5 L198.7,1635.4 L197.5,1635.4 L196.3,1635.4 L195.1,1635.4 L193.9,1635.3 L192.6,1635.3 L191.4,1635.3 L190.2,1635.2 L189,1635.2 L187.8,1635.2 L186.6,1635.1 L185.4,1635.1 L184.2,1635.1 L183,1635 L181.8,1635 L180.5,1635 L179.3,1635 L178.1,1634.9 L176.9,1634.9 L175.7,1634.9 L174.5,1634.8 L173.3,1634.8 L172.1,1634.8 L170.9,1634.7 L169.6,1634.7 L168.4,1634.7 L167.2,1634.6 L166,1634.6 L164.8,1634.6 L163.6,1634.6 L162.4,1634.5 L161.2,1634.5 L160,1634.5 L158.8,1634.4 L157.5,1634.4 L156.3,1634.4 L155.1,1634.3 L153.9,1634.3 L152.7,1634.3 L151.5,1634.2 L150.3,1634.2 L149.1,1634.2 L147.9,1634.2 L146.7,1634.1 L145.4,1634.1 L144.2,1634.1 L143,1634 L141.8,1634 L140.6,1634 L139.4,1633.9 L138.2,1633.9 L137,1633.9 L135.8,1633.8 L134.5,1633.8 L133.3,1633.8 L132.1,1633.8 L130.9,1633.7 L129.7,1633.7 L128.5,1633.7 L127.3,1633.6 L126.1,1633.6 L124.9,1633.6 L123.7,1633.5 L122.4,1633.5 L121.2,1633.5 L120,1633.4 L118.8,1633.4 L117.6,1633.4 L116.4,1633.4 L115.2,1633.3 L114,1633.3 L112.8,1633.3 L111.5,1633.2 L110.3,1633.2 L109.1,1633.2 L107.9,1633.1 L106.7,1633.1 L105.5,1633.1 L104.3,1633 L103.1,1633 L101.9,1633 L100.7,1633 L99.4,1632.9 L98.2,1632.9 L97,1632.9 L95.8,1632.8 L94.6,1632.8 L93.4,1632.8 L92.2,1632.7 L91,1632.7 L89.8,1632.7 L88.6,1617.8 L87.3,1602.9 L86.1,1588 L84.9,1573.1 L83.7,1558.2 L82.5,1543.2 Z" fill="#c6e0ea"/><path d="M82.5,1485.6 L83.7,1485 L84.9,1484.4 L86.1,1483.8 L87.3,1483.2 L88.6,1482.6 L89.8,1482 L91,1481.4 L92.2,1480.8 L93.4,1480.2 L94.6,1479.6 L95.8,1479 L97,1478.4 L98.2,1477.8 L99.4,1477.2 L100.7,1476.6 L101.9,1476 L103.1,1475.4 L104.3,1474.8 L105.5,1474.2 L106.7,1473.6 L107.9,1473 L109.1,1472.4 L110.3,1471.8 L111.5,1471.2 L112.8,1470.6 L114,1470 L115.2,1469.4 L116.4,1468.8 L117.6,1468.2 L118.8,1467.6 L120,1467 L121.2,1466.4 L122.4,1465.8 L123.7,1465.2 L124.9,1464.6 L126.1,1464 L127.3,1463.4 L128.5,1462.7 L129.7,1462.1 L130.9,1461.5 L132.1,1460.9 L133.3,1460.3 L134.5,1459.7 L135.8,1459.1 L137,1458.5 L138.2,1457.9 L139.4,1457.3 L140.6,1456.7 L141.8,1456.1 L143,1455.5 L144.2,1455.6 L145.4,1455.6 L146.7,1455.6 L147.9,1455.7 L149.1,1455.7 L150.3,1455.7 L151.5,1455.8 L152.7,1455.8 L153.9,1455.8 L155.1,1455.8 L156.3,1455.9 L157.5,1455.9 L158.8,1455.9 L160,1456 L161.2,1456 L162.4,1456 L163.6,1456.1 L164.8,1456.1 L166,1456.1 L167.2,1456.2 L168.4,1456.2 L169.6,1456.2 L170.9,1456.2 L172.1,1456.3 L173.3,1456.3 L174.5,1456.3 L175.7,1456.4 L176.9,1456.4 L178.1,1456.4 L179.3,1456.5 L180.5,1456.5 L181.8,1456.5 L183,1456.6 L184.2,1456.6 L185.4,1456.6 L186.6,1456.6 L187.8,1456.7 L189,1456.7 L190.2,1456.7 L191.4,1456.8 L192.6,1456.8 L193.9,1456.8 L195.1,1456.9 L196.3,1456.9 L197.5,1456.9 L198.7,1457 L199.9,1457 L201.1,1457 L202.3,1457 L203.5,1457.1 L204.8,1457.1 L206,1457.1 L207.2,1457.2 L208.4,1457.2 L209.6,1457.2 L210.8,1457.3 L212,1457.3 L213.2,1457.3 L214.4,1457.4 L215.6,1457.4 L216.9,1457.4 L218.1,1457.4 L219.3,1457.5 L220.5,1457.5 L221.7,1457.5 L222.9,1457.6 L224.1,1457.6 L225.3,1457.6 L226.5,1457.7 L227.7,1457.7 L229,1457.7 L230.2,1457.8 L231.4,1457.8 L232.6,1457.8 L233.8,1457.8 L235,1457.9 L236.2,1457.9 L237.4,1457.9 L238.6,1458 L239.9,1458 L241.1,1458 L242.3,1458.1 L243.5,1458.1 L244.7,1458.1 L245.9,1459.3 L247.1,1460.5 L248.3,1461.7 L249.5,1462.9 L250.7,1463 L252,1463 L253.2,1463 L254.4,1463.1 L255.6,1463.1 L256.8,1463.2 L258,1463.2 L259.2,1463.2 L260.4,1463.3 L261.6,1463.3 L262.8,1463.4 L264.1,1463.4 L265.3,1463.4 L266.5,1463.5 L267.7,1463.5 L268.9,1463.6 L270.1,1463.6 L271.3,1463.6 L272.5,1463.7 L273.7,1463.7 L275,1463.8 L276.2,1463.8 L277.4,1463.8 L278.6,1463.9 L279.8,1463.9 L281,1464 L282.2,1464 L283.4,1464 L284.6,1464.1 L285.8,1464.1 L287.1,1464.1 L288.3,1464.2 L289.5,1464.2 L290.7,1464.3 L291.9,1464.3 L293.1,1464.3 L294.3,1464.4 L295.5,1464.4 L296.7,1464.5 L298,1464.5 L299.2,1464.5 L300.4,1464.6 L301.6,1464.6 L302.8,1464.7 L304,1464.7 L305.2,1464.7 L306.4,1464.8 L307.6,1464.8 L308.8,1464.9 L310.1,1464.9 L311.3,1464.9 L312.5,1465 L313.7,1465 L314.9,1465.1 L316.1,1465.1 L317.3,1465.1 L318.5,1465.2 L319.7,1465.2 L320.9,1465.3 L322.2,1465.3 L323.4,1465.3 L324.6,1465.4 L325.8,1465.4 L327,1465.4 L328.2,1465.5 L329.4,1465.5 L330.6,1465.6 L331.8,1465.6 L333.1,1465.6 L334.3,1465.7 L335.5,1465.7 L336.7,1465.8 L337.9,1465.8 L339.1,1465.8 L340.3,1465.9 L341.5,1465.9 L342.7,1466 L343.9,1466 L345.2,1466 L346.4,1466.1 L347.6,1466.1 L348.8,1466.2 L350,1466.2 L351.2,1466.2 L352.4,1466.3 L353.6,1466.3 L354.8,1466.4 L356.1,1466.4 L357.3,1466.4 L358.5,1466.5 L359.7,1466.5 L360.9,1466.6 L362.1,1467.2 L363.3,1467.9 L364.5,1468.6 L365.7,1469.2 L366.9,1469.9 L368.2,1470.6 L369.4,1471.2 L370.6,1471.9 L371.8,1472.6 L373,1473.3 L374.2,1473.9 L375.4,1474.6 L376.6,1475.3 L377.8,1475.9 L379,1476.6 L380.3,1477.3 L381.5,1478 L382.7,1478.6 L383.9,1479.3 L385.1,1480 L386.3,1480.6 L387.5,1481.3 L388.7,1482 L389.9,1482.7 L391.2,1483.3 L392.4,1484 L393.6,1484.7 L394.8,1485.3 L396,1486 L397.2,1486.7 L398.4,1488.3 L399.6,1490 L400.8,1491.7 L402,1493.3 L403.3,1494.1 L404.5,1494.9 L405.7,1495.8 L406.9,1496.6 L408.1,1497.4 L409.3,1498.2 L410.5,1499 L411.7,1499.8 L412.9,1500.6 L414.1,1501.4 L415.4,1502.3 L416.6,1503.1 L417.8,1503.9 L419,1504.7 L420.2,1505.5 L421.4,1506.3 L421.4,1506.3 L420.2,1506.8 L419,1507.2 L417.8,1507.7 L416.6,1508.1 L415.4,1508.6 L414.1,1509 L412.9,1509.5 L411.7,1509.9 L410.5,1510.4 L409.3,1510.8 L408.1,1511.3 L406.9,1511.7 L405.7,1512.2 L404.5,1512.6 L403.3,1513.1 L402,1513.5 L400.8,1513.1 L399.6,1512.7 L398.4,1512.3 L397.2,1511.9 L396,1512.5 L394.8,1513.1 L393.6,1513.7 L392.4,1514.3 L391.2,1514.9 L389.9,1515.5 L388.7,1516.1 L387.5,1516.7 L386.3,1517.3 L385.1,1517.9 L383.9,1518.5 L382.7,1519 L381.5,1519.6 L380.3,1520.2 L379,1520.8 L377.8,1521.4 L376.6,1522 L375.4,1522.6 L374.2,1523.2 L373,1523.8 L371.8,1524.4 L370.6,1525 L369.4,1525.6 L368.2,1526.2 L366.9,1526.7 L365.7,1527.3 L364.5,1527.9 L363.3,1528.5 L362.1,1529.1 L360.9,1529.7 L359.7,1529.7 L358.5,1529.6 L357.3,1529.6 L356.1,1529.6 L354.8,1529.5 L353.6,1529.5 L352.4,1529.4 L351.2,1529.4 L350,1529.4 L348.8,1529.3 L347.6,1529.3 L346.4,1529.2 L345.2,1529.2 L343.9,1529.2 L342.7,1529.1 L341.5,1529.1 L340.3,1529 L339.1,1529 L337.9,1529 L336.7,1528.9 L335.5,1528.9 L334.3,1528.8 L333.1,1528.8 L331.8,1528.8 L330.6,1528.7 L329.4,1528.7 L328.2,1528.6 L327,1528.6 L325.8,1528.6 L324.6,1528.5 L323.4,1528.5 L322.2,1528.4 L320.9,1528.4 L319.7,1528.4 L318.5,1528.3 L317.3,1528.3 L316.1,1528.3 L314.9,1528.2 L313.7,1528.2 L312.5,1528.1 L311.3,1528.1 L310.1,1528.1 L308.8,1528 L307.6,1528 L306.4,1527.9 L305.2,1527.9 L304,1527.9 L302.8,1527.8 L301.6,1527.8 L300.4,1527.7 L299.2,1527.7 L298,1527.7 L296.7,1527.6 L295.5,1527.6 L294.3,1527.5 L293.1,1527.5 L291.9,1527.5 L290.7,1527.4 L289.5,1527.4 L288.3,1527.3 L287.1,1527.3 L285.8,1527.3 L284.6,1527.2 L283.4,1527.2 L282.2,1527.1 L281,1527.1 L279.8,1527.1 L278.6,1527 L277.4,1527 L276.2,1527 L275,1526.9 L273.7,1526.9 L272.5,1526.8 L271.3,1526.8 L270.1,1526.8 L268.9,1526.7 L267.7,1526.7 L266.5,1526.6 L265.3,1526.6 L264.1,1526.6 L262.8,1526.5 L261.6,1526.5 L260.4,1526.4 L259.2,1526.4 L258,1526.4 L256.8,1526.3 L255.6,1526.3 L254.4,1526.2 L253.2,1526.2 L252,1526.2 L250.7,1526.1 L249.5,1526.1 L248.3,1524.9 L247.1,1523.7 L245.9,1522.5 L244.7,1521.3 L243.5,1521.2 L242.3,1521.2 L241.1,1521.2 L239.9,1521.2 L238.6,1521.1 L237.4,1521.1 L236.2,1521.1 L235,1521 L233.8,1521 L232.6,1521 L231.4,1520.9 L230.2,1520.9 L229,1520.9 L227.7,1520.8 L226.5,1520.8 L225.3,1520.8 L224.1,1520.8 L222.9,1520.7 L221.7,1520.7 L220.5,1520.7 L219.3,1520.6 L218.1,1520.6 L216.9,1520.6 L215.6,1520.5 L214.4,1520.5 L213.2,1520.5 L212,1520.4 L210.8,1520.4 L209.6,1520.4 L208.4,1520.4 L207.2,1520.3 L206,1520.3 L204.8,1520.3 L203.5,1520.2 L202.3,1520.2 L201.1,1520.2 L199.9,1520.1 L198.7,1520.1 L197.5,1520.1 L196.3,1520 L195.1,1520 L193.9,1520 L192.6,1520 L191.4,1519.9 L190.2,1519.9 L189,1519.9 L187.8,1519.8 L186.6,1519.8 L185.4,1519.8 L184.2,1519.7 L183,1519.7 L181.8,1519.7 L180.5,1519.7 L179.3,1519.6 L178.1,1519.6 L176.9,1519.6 L175.7,1519.5 L174.5,1519.5 L173.3,1519.5 L172.1,1519.4 L170.9,1519.4 L169.6,1519.4 L168.4,1519.3 L167.2,1519.3 L166,1519.3 L164.8,1519.3 L163.6,1519.2 L162.4,1519.2 L161.2,1519.2 L160,1519.1 L158.8,1519.1 L157.5,1519.1 L156.3,1519 L155.1,1519 L153.9,1519 L152.7,1518.9 L151.5,1518.9 L150.3,1518.9 L149.1,1518.9 L147.9,1518.8 L146.7,1518.8 L145.4,1518.8 L144.2,1518.7 L143,1518.7 L141.8,1518 L140.6,1517.4 L139.4,1516.7 L138.2,1516 L137,1515.4 L135.8,1514.7 L134.5,1514.1 L133.3,1513.4 L132.1,1512.7 L130.9,1512.1 L129.7,1511.4 L128.5,1510.7 L127.3,1510.1 L126.1,1509.4 L124.9,1508.8 L123.7,1508.1 L122.4,1507.4 L121.2,1506.8 L120,1506.1 L118.8,1505.5 L117.6,1504.8 L116.4,1504.1 L115.2,1503.5 L114,1502.8 L112.8,1502.1 L111.5,1501.5 L110.3,1500.8 L109.1,1500.2 L107.9,1499.5 L106.7,1498.8 L105.5,1498.2 L104.3,1497.5 L103.1,1496.8 L101.9,1496.2 L100.7,1495.5 L99.4,1494.9 L98.2,1494.2 L97,1493.5 L95.8,1492.9 L94.6,1492.2 L93.4,1491.5 L92.2,1490.9 L91,1490.2 L89.8,1489.6 L88.6,1488.9 L87.3,1488.2 L86.1,1487.6 L84.9,1486.9 L83.7,1486.2 L82.5,1485.6 Z" fill="#a4cde6"/><path d="M82.5,1480.8 L83.7,1480.3 L84.9,1479.8 L86.1,1479.3 L87.3,1478.8 L88.6,1478.3 L89.8,1477.7 L91,1477.2 L92.2,1476.7 L93.4,1476.2 L94.6,1475.7 L95.8,1475.2 L97,1474.7 L98.2,1474.2 L99.4,1473.7 L100.7,1473.2 L101.9,1472.7 L103.1,1472.2 L104.3,1471.7 L105.5,1471.2 L106.7,1470.7 L107.9,1470.2 L109.1,1469.7 L110.3,1469.2 L111.5,1468.7 L112.8,1468.2 L114,1467.7 L115.2,1467.1 L116.4,1466.6 L117.6,1466.1 L118.8,1465.6 L120,1465.1 L121.2,1464.6 L122.4,1464.1 L123.7,1463.6 L124.9,1463.1 L126.1,1462.6 L127.3,1462.1 L128.5,1461.6 L129.7,1461.1 L130.9,1460.6 L132.1,1460.1 L133.3,1459.6 L134.5,1459.1 L135.8,1458.6 L137,1458.1 L138.2,1457.6 L139.4,1457.1 L140.6,1456.5 L141.8,1456 L143,1455.5 L144.2,1455.6 L145.4,1455.6 L146.7,1455.6 L147.9,1455.7 L149.1,1455.7 L150.3,1455.7 L151.5,1455.8 L152.7,1455.8 L153.9,1455.8 L155.1,1455.8 L156.3,1455.9 L157.5,1455.9 L158.8,1455.9 L160,1456 L161.2,1456 L162.4,1456 L163.6,1456.1 L164.8,1456.1 L166,1456.1 L167.2,1456.2 L168.4,1456.2 L169.6,1456.2 L170.9,1456.2 L172.1,1456.3 L173.3,1456.3 L174.5,1456.3 L175.7,1456.4 L176.9,1456.4 L178.1,1456.4 L179.3,1456.5 L180.5,1456.5 L181.8,1456.5 L183,1456.6 L184.2,1456.6 L185.4,1456.6 L186.6,1456.6 L187.8,1456.7 L189,1456.7 L190.2,1456.7 L191.4,1456.8 L192.6,1456.8 L193.9,1456.8 L195.1,1456.9 L196.3,1456.9 L197.5,1456.9 L198.7,1457 L199.9,1457 L201.1,1457 L202.3,1457 L203.5,1457.1 L204.8,1457.1 L206,1457.1 L207.2,1457.2 L208.4,1457.2 L209.6,1457.2 L210.8,1457.3 L212,1457.3 L213.2,1457.3 L214.4,1457.4 L215.6,1457.4 L216.9,1457.4 L218.1,1457.4 L219.3,1457.5 L220.5,1457.5 L221.7,1457.5 L222.9,1457.6 L224.1,1457.6 L225.3,1457.6 L226.5,1457.7 L227.7,1457.7 L229,1457.7 L230.2,1457.8 L231.4,1457.8 L232.6,1457.8 L233.8,1457.8 L235,1457.9 L236.2,1457.9 L237.4,1457.9 L238.6,1458 L239.9,1458 L241.1,1458 L242.3,1458.1 L243.5,1458.1 L244.7,1458.1 L245.9,1459.3 L247.1,1460.5 L248.3,1461.7 L249.5,1462.9 L250.7,1463 L252,1463 L253.2,1463 L254.4,1463.1 L255.6,1463.1 L256.8,1463.2 L258,1463.2 L259.2,1463.2 L260.4,1463.3 L261.6,1463.3 L262.8,1463.4 L264.1,1463.4 L265.3,1463.4 L266.5,1463.5 L267.7,1463.5 L268.9,1463.6 L270.1,1463.6 L271.3,1463.6 L272.5,1463.7 L273.7,1463.7 L275,1463.8 L276.2,1463.8 L277.4,1463.8 L278.6,1463.9 L279.8,1463.9 L281,1464 L282.2,1464 L283.4,1464 L284.6,1464.1 L285.8,1464.1 L287.1,1464.1 L288.3,1464.2 L289.5,1464.2 L290.7,1464.3 L291.9,1464.3 L293.1,1464.3 L294.3,1464.4 L295.5,1464.4 L296.7,1464.5 L298,1464.5 L299.2,1464.5 L300.4,1464.6 L301.6,1464.6 L302.8,1464.7 L304,1464.7 L305.2,1464.7 L306.4,1464.8 L307.6,1464.8 L308.8,1464.9 L310.1,1464.9 L311.3,1464.9 L312.5,1465 L313.7,1465.6 L314.9,1466.1 L316.1,1466.7 L317.3,1467.3 L318.5,1467.8 L319.7,1468.4 L320.9,1469 L322.2,1469.6 L323.4,1470.1 L324.6,1470.7 L325.8,1471.3 L327,1471.9 L328.2,1472.4 L329.4,1473 L330.6,1473.6 L331.8,1474.2 L333.1,1474.7 L334.3,1475.3 L335.5,1475.9 L336.7,1476.5 L337.9,1477 L339.1,1477.6 L340.3,1478.2 L341.5,1478.8 L342.7,1479.3 L343.9,1479.9 L345.2,1480.5 L346.4,1481.1 L347.6,1481.6 L348.8,1482.2 L350,1482.8 L351.2,1483.4 L352.4,1483.9 L353.6,1484.5 L354.8,1485.1 L356.1,1485.7 L357.3,1486.2 L358.5,1486.8 L359.7,1487.4 L360.9,1488 L362.1,1488.5 L363.3,1489.1 L364.5,1489.7 L365.7,1490.3 L366.9,1490.8 L368.2,1491.4 L369.4,1492 L370.6,1492.6 L371.8,1493.1 L373,1493.7 L373,1493.7 L371.8,1494.2 L370.6,1494.7 L369.4,1495.2 L368.2,1495.7 L366.9,1496.2 L365.7,1496.7 L364.5,1497.2 L363.3,1497.7 L362.1,1498.2 L360.9,1498.7 L359.7,1499.2 L358.5,1499.7 L357.3,1500.2 L356.1,1500.7 L354.8,1501.2 L353.6,1501.7 L352.4,1502.2 L351.2,1502.6 L350,1503.1 L348.8,1503.6 L347.6,1504.1 L346.4,1504.6 L345.2,1505.1 L343.9,1505.6 L342.7,1506.1 L341.5,1506.6 L340.3,1507.1 L339.1,1507.6 L337.9,1508.1 L336.7,1508.6 L335.5,1509.1 L334.3,1509.6 L333.1,1510.1 L331.8,1510.6 L330.6,1511.1 L329.4,1511.6 L328.2,1512.1 L327,1512.6 L325.8,1513.1 L324.6,1513.6 L323.4,1514.1 L322.2,1514.6 L320.9,1515 L319.7,1515.5 L318.5,1516 L317.3,1516.5 L316.1,1517 L314.9,1517.5 L313.7,1518 L312.5,1518.5 L311.3,1518.5 L310.1,1518.4 L308.8,1518.4 L307.6,1518.4 L306.4,1518.3 L305.2,1518.3 L304,1518.2 L302.8,1518.2 L301.6,1518.2 L300.4,1518.1 L299.2,1518.1 L298,1518 L296.7,1518 L295.5,1518 L294.3,1517.9 L293.1,1517.9 L291.9,1517.9 L290.7,1517.8 L289.5,1517.8 L288.3,1517.7 L287.1,1517.7 L285.8,1517.7 L284.6,1517.6 L283.4,1517.6 L282.2,1517.5 L281,1517.5 L279.8,1517.5 L278.6,1517.4 L277.4,1517.4 L276.2,1517.3 L275,1517.3 L273.7,1517.3 L272.5,1517.2 L271.3,1517.2 L270.1,1517.1 L268.9,1517.1 L267.7,1517.1 L266.5,1517 L265.3,1517 L264.1,1516.9 L262.8,1516.9 L261.6,1516.9 L260.4,1516.8 L259.2,1516.8 L258,1516.7 L256.8,1516.7 L255.6,1516.7 L254.4,1516.6 L253.2,1516.6 L252,1516.6 L250.7,1516.5 L249.5,1516.5 L248.3,1515.3 L247.1,1514.1 L245.9,1512.9 L244.7,1511.7 L243.5,1511.6 L242.3,1511.6 L241.1,1511.6 L239.9,1511.5 L238.6,1511.5 L237.4,1511.5 L236.2,1511.5 L235,1511.4 L233.8,1511.4 L232.6,1511.4 L231.4,1511.3 L230.2,1511.3 L229,1511.3 L227.7,1511.2 L226.5,1511.2 L225.3,1511.2 L224.1,1511.1 L222.9,1511.1 L221.7,1511.1 L220.5,1511.1 L219.3,1511 L218.1,1511 L216.9,1511 L215.6,1510.9 L214.4,1510.9 L213.2,1510.9 L212,1510.8 L210.8,1510.8 L209.6,1510.8 L208.4,1510.7 L207.2,1510.7 L206,1510.7 L204.8,1510.7 L203.5,1510.6 L202.3,1510.6 L201.1,1510.6 L199.9,1510.5 L198.7,1510.5 L197.5,1510.5 L196.3,1510.4 L195.1,1510.4 L193.9,1510.4 L192.6,1510.3 L191.4,1510.3 L190.2,1510.3 L189,1510.3 L187.8,1510.2 L186.6,1510.2 L185.4,1510.2 L184.2,1510.1 L183,1510.1 L181.8,1510.1 L180.5,1510 L179.3,1510 L178.1,1510 L176.9,1509.9 L175.7,1509.9 L174.5,1509.9 L173.3,1509.9 L172.1,1509.8 L170.9,1509.8 L169.6,1509.8 L168.4,1509.7 L167.2,1509.7 L166,1509.7 L164.8,1509.6 L163.6,1509.6 L162.4,1509.6 L161.2,1509.5 L160,1509.5 L158.8,1509.5 L157.5,1509.5 L156.3,1509.4 L155.1,1509.4 L153.9,1509.4 L152.7,1509.3 L151.5,1509.3 L150.3,1509.3 L149.1,1509.2 L147.9,1509.2 L146.7,1509.2 L145.4,1509.1 L144.2,1509.1 L143,1509.1 L141.8,1508.5 L140.6,1508 L139.4,1507.4 L138.2,1506.8 L137,1506.3 L135.8,1505.7 L134.5,1505.1 L133.3,1504.6 L132.1,1504 L130.9,1503.4 L129.7,1502.9 L128.5,1502.3 L127.3,1501.7 L126.1,1501.2 L124.9,1500.6 L123.7,1500 L122.4,1499.5 L121.2,1498.9 L120,1498.3 L118.8,1497.8 L117.6,1497.2 L116.4,1496.6 L115.2,1496.1 L114,1495.5 L112.8,1494.9 L111.5,1494.4 L110.3,1493.8 L109.1,1493.2 L107.9,1492.7 L106.7,1492.1 L105.5,1491.5 L104.3,1491 L103.1,1490.4 L101.9,1489.8 L100.7,1489.3 L99.4,1488.7 L98.2,1488.1 L97,1487.6 L95.8,1487 L94.6,1486.4 L93.4,1485.9 L92.2,1485.3 L91,1484.7 L89.8,1484.2 L88.6,1483.6 L87.3,1483 L86.1,1482.5 L84.9,1481.9 L83.7,1481.3 L82.5,1480.8 Z" fill="#86b6e4"/><path d="M82.5,1482.1 L83.7,1481.2 L84.9,1480.3 L86.1,1479.4 L87.3,1478.5 L88.6,1477.6 L89.8,1476.7 L91,1475.8 L92.2,1474.9 L93.4,1474 L94.6,1473.1 L95.8,1472.2 L97,1471.3 L98.2,1470.4 L99.4,1469.4 L100.7,1468.5 L101.9,1467.6 L103.1,1466.7 L104.3,1465.8 L105.5,1464.9 L106.7,1464 L107.9,1463.1 L109.1,1462.2 L110.3,1461.3 L111.5,1460.4 L112.8,1459.5 L114,1458.6 L115.2,1457.6 L116.4,1456.7 L117.6,1455.8 L118.8,1454.9 L120,1455 L121.2,1455 L122.4,1455 L123.7,1455 L124.9,1455.1 L126.1,1455.1 L127.3,1455.1 L128.5,1455.2 L129.7,1455.2 L130.9,1455.2 L132.1,1455.3 L133.3,1455.3 L134.5,1455.3 L135.8,1455.4 L137,1455.4 L138.2,1455.4 L139.4,1455.4 L140.6,1455.5 L141.8,1455.5 L143,1455.5 L144.2,1455.6 L145.4,1455.6 L146.7,1455.6 L147.9,1455.7 L149.1,1455.7 L150.3,1455.7 L151.5,1455.8 L152.7,1455.8 L153.9,1455.8 L155.1,1455.8 L156.3,1455.9 L157.5,1455.9 L158.8,1455.9 L160,1456 L161.2,1456 L162.4,1456 L163.6,1456.1 L164.8,1456.1 L166,1456.1 L167.2,1456.2 L168.4,1456.2 L169.6,1456.2 L170.9,1456.2 L172.1,1456.3 L173.3,1456.3 L174.5,1456.3 L175.7,1456.4 L176.9,1456.4 L178.1,1456.4 L179.3,1456.5 L180.5,1456.5 L181.8,1456.5 L183,1456.6 L184.2,1456.6 L185.4,1456.6 L186.6,1456.6 L187.8,1456.7 L189,1456.7 L190.2,1456.7 L191.4,1456.8 L192.6,1457.7 L193.9,1458.7 L195.1,1459.7 L196.3,1460.6 L197.5,1461.6 L198.7,1462.6 L199.9,1463.6 L201.1,1464.5 L202.3,1465.5 L203.5,1466.5 L204.8,1467.4 L206,1468.4 L207.2,1469.4 L208.4,1470.3 L209.6,1471.3 L210.8,1472.3 L212,1473.2 L213.2,1474.2 L214.4,1475.2 L215.6,1476.1 L216.9,1477.1 L218.1,1478.1 L219.3,1479.1 L220.5,1480 L221.7,1481 L222.9,1482 L224.1,1482.9 L225.3,1483.9 L226.5,1484.9 L227.7,1485.8 L227.7,1485.8 L226.5,1486.7 L225.3,1487.7 L224.1,1488.6 L222.9,1489.5 L221.7,1490.4 L220.5,1491.3 L219.3,1492.2 L218.1,1493.1 L216.9,1494 L215.6,1494.9 L214.4,1495.8 L213.2,1496.7 L212,1497.6 L210.8,1498.5 L209.6,1499.4 L208.4,1500.4 L207.2,1501.3 L206,1502.2 L204.8,1503.1 L203.5,1504 L202.3,1504.9 L201.1,1505.8 L199.9,1506.7 L198.7,1507.6 L197.5,1508.5 L196.3,1509.4 L195.1,1510.3 L193.9,1511.2 L192.6,1512.2 L191.4,1513.1 L190.2,1513 L189,1513 L187.8,1513 L186.6,1512.9 L185.4,1512.9 L184.2,1512.9 L183,1512.8 L181.8,1512.8 L180.5,1512.8 L179.3,1512.8 L178.1,1512.7 L176.9,1512.7 L175.7,1512.7 L174.5,1512.6 L173.3,1512.6 L172.1,1512.6 L170.9,1512.5 L169.6,1512.5 L168.4,1512.5 L167.2,1512.4 L166,1512.4 L164.8,1512.4 L163.6,1512.4 L162.4,1512.3 L161.2,1512.3 L160,1512.3 L158.8,1512.2 L157.5,1512.2 L156.3,1512.2 L155.1,1512.1 L153.9,1512.1 L152.7,1512.1 L151.5,1512 L150.3,1512 L149.1,1512 L147.9,1512 L146.7,1511.9 L145.4,1511.9 L144.2,1511.9 L143,1511.8 L141.8,1511.8 L140.6,1511.8 L139.4,1511.7 L138.2,1511.7 L137,1511.7 L135.8,1511.6 L134.5,1511.6 L133.3,1511.6 L132.1,1511.6 L130.9,1511.5 L129.7,1511.5 L128.5,1511.5 L127.3,1511.4 L126.1,1511.4 L124.9,1511.4 L123.7,1511.3 L122.4,1511.3 L121.2,1511.3 L120,1511.2 L118.8,1511.2 L117.6,1510.2 L116.4,1509.3 L115.2,1508.3 L114,1507.3 L112.8,1506.4 L111.5,1505.4 L110.3,1504.4 L109.1,1503.5 L107.9,1502.5 L106.7,1501.5 L105.5,1500.6 L104.3,1499.6 L103.1,1498.6 L101.9,1497.7 L100.7,1496.7 L99.4,1495.7 L98.2,1494.7 L97,1493.8 L95.8,1492.8 L94.6,1491.8 L93.4,1490.9 L92.2,1489.9 L91,1488.9 L89.8,1488 L88.6,1487 L87.3,1486 L86.1,1485.1 L84.9,1484.1 L83.7,1483.1 L82.5,1482.1 Z" fill="#7a9be0"/><path d="M82.5,1483.5 L83.7,1482.4 L84.9,1481.3 L86.1,1480.2 L87.3,1479.1 L88.6,1478 L89.8,1476.9 L91,1475.8 L92.2,1474.7 L93.4,1473.6 L94.6,1472.5 L95.8,1471.4 L97,1470.3 L98.2,1469.2 L99.4,1468.1 L100.7,1467 L101.9,1465.9 L103.1,1464.8 L104.3,1463.7 L105.5,1462.6 L106.7,1461.5 L107.9,1461.5 L109.1,1461.5 L110.3,1461.6 L111.5,1461.6 L112.8,1461.6 L114,1461.7 L115.2,1461.7 L116.4,1461.7 L117.6,1461.8 L118.8,1461.8 L120,1461.8 L121.2,1461.9 L122.4,1461.9 L123.7,1461.9 L124.9,1461.9 L126.1,1462 L127.3,1462 L128.5,1462 L129.7,1462.1 L130.9,1462.1 L132.1,1462.1 L133.3,1462.2 L134.5,1462.2 L135.8,1462.2 L137,1462.3 L138.2,1462.3 L139.4,1462.3 L140.6,1462.3 L141.8,1462.4 L143,1462.4 L144.2,1462.4 L145.4,1462.5 L146.7,1462.5 L147.9,1462.5 L149.1,1462.6 L150.3,1462.6 L151.5,1462.6 L152.7,1462.7 L153.9,1462.7 L155.1,1462.7 L156.3,1463.9 L157.5,1465 L158.8,1466.2 L160,1467.4 L161.2,1468.5 L162.4,1469.7 L163.6,1470.9 L164.8,1472 L166,1473.2 L167.2,1474.3 L168.4,1475.5 L169.6,1476.7 L170.9,1477.8 L172.1,1479 L173.3,1480.2 L174.5,1481.3 L175.7,1482.5 L176.9,1483.7 L178.1,1484.8 L179.3,1486 L179.3,1486 L178.1,1487.1 L176.9,1488.2 L175.7,1489.3 L174.5,1490.4 L173.3,1491.5 L172.1,1492.6 L170.9,1493.7 L169.6,1494.8 L168.4,1495.9 L167.2,1497 L166,1498.1 L164.8,1499.2 L163.6,1500.3 L162.4,1501.4 L161.2,1502.5 L160,1503.6 L158.8,1504.7 L157.5,1505.8 L156.3,1506.9 L155.1,1508 L153.9,1508 L152.7,1508 L151.5,1507.9 L150.3,1507.9 L149.1,1507.9 L147.9,1507.8 L146.7,1507.8 L145.4,1507.8 L144.2,1507.7 L143,1507.7 L141.8,1507.7 L140.6,1507.7 L139.4,1507.6 L138.2,1507.6 L137,1507.6 L135.8,1507.5 L134.5,1507.5 L133.3,1507.5 L132.1,1507.4 L130.9,1507.4 L129.7,1507.4 L128.5,1507.3 L127.3,1507.3 L126.1,1507.3 L124.9,1507.3 L123.7,1507.2 L122.4,1507.2 L121.2,1507.2 L120,1507.1 L118.8,1507.1 L117.6,1507.1 L116.4,1507 L115.2,1507 L114,1507 L112.8,1506.9 L111.5,1506.9 L110.3,1506.9 L109.1,1506.9 L107.9,1506.8 L106.7,1506.8 L105.5,1505.6 L104.3,1504.5 L103.1,1503.3 L101.9,1502.1 L100.7,1501 L99.4,1499.8 L98.2,1498.6 L97,1497.5 L95.8,1496.3 L94.6,1495.2 L93.4,1494 L92.2,1492.8 L91,1491.7 L89.8,1490.5 L88.6,1489.3 L87.3,1488.2 L86.1,1487 L84.9,1485.8 L83.7,1484.7 L82.5,1483.5 Z" fill="#7a5cbc"/><path d="M82.5,1482.8 L83.7,1481.4 L84.9,1479.9 L86.1,1478.5 L87.3,1477 L88.6,1475.6 L89.8,1474.1 L91,1472.6 L92.2,1471.2 L93.4,1469.7 L94.6,1468.3 L95.8,1466.8 L97,1465.4 L98.2,1465.4 L99.4,1465.4 L100.7,1465.4 L101.9,1465.5 L103.1,1465.5 L104.3,1465.5 L105.5,1465.6 L106.7,1465.6 L107.9,1465.6 L109.1,1465.7 L110.3,1465.7 L111.5,1465.7 L112.8,1465.8 L114,1465.8 L115.2,1465.8 L116.4,1465.8 L117.6,1465.9 L118.8,1465.9 L120,1465.9 L121.2,1466 L122.4,1466 L123.7,1466 L124.9,1466.1 L126.1,1466.1 L127.3,1466.1 L128.5,1466.2 L129.7,1466.2 L130.9,1466.2 L132.1,1467.7 L133.3,1469.3 L134.5,1470.8 L135.8,1472.3 L137,1473.8 L138.2,1475.3 L139.4,1476.8 L140.6,1478.4 L141.8,1479.9 L143,1481.4 L144.2,1482.9 L145.4,1484.4 L145.4,1484.4 L144.2,1485.9 L143,1487.3 L141.8,1488.8 L140.6,1490.3 L139.4,1491.7 L138.2,1493.2 L137,1494.6 L135.8,1496.1 L134.5,1497.5 L133.3,1499 L132.1,1500.5 L130.9,1501.9 L129.7,1501.9 L128.5,1501.9 L127.3,1501.8 L126.1,1501.8 L124.9,1501.8 L123.7,1501.7 L122.4,1501.7 L121.2,1501.7 L120,1501.6 L118.8,1501.6 L117.6,1501.6 L116.4,1501.5 L115.2,1501.5 L114,1501.5 L112.8,1501.5 L111.5,1501.4 L110.3,1501.4 L109.1,1501.4 L107.9,1501.3 L106.7,1501.3 L105.5,1501.3 L104.3,1501.2 L103.1,1501.2 L101.9,1501.2 L100.7,1501.1 L99.4,1501.1 L98.2,1501.1 L97,1501.1 L95.8,1499.5 L94.6,1498 L93.4,1496.5 L92.2,1495 L91,1493.5 L89.8,1491.9 L88.6,1490.4 L87.3,1488.9 L86.1,1487.4 L84.9,1485.9 L83.7,1484.4 L82.5,1482.8 Z" fill="#76389c"/></g><path d="M261.6,1497.5 C270.8,1497.2 301.1,1495.9 316.9,1495.5 C332.7,1495.2 343.2,1495.2 356.4,1495.5 C369.5,1495.9 382.7,1496.2 395.8,1497.5 C409,1498.8 424.8,1501.8 435.3,1503.4 C445.8,1505.1 455,1506.7 459,1507.4" fill="none" stroke="#8a9597" stroke-width="1.3"/><path d="M498.5,1501.5 L518.2,1493.6" fill="none" stroke="#8a9597" stroke-width="1.3"/><path d="M249.8,1531.1 C254.4,1529.1 266.2,1522.2 277.4,1519.2 C288.6,1516.3 303.7,1513.3 316.9,1513.3 C330,1513.3 347.1,1517.2 356.4,1519.2 C365.6,1521.2 369.5,1524.2 372.1,1525.1" fill="none" stroke="#8a9597" stroke-width="1.3"/><path d="M407.7,1542.9 C412.3,1545.5 426.1,1554.7 435.3,1558.7 C444.5,1562.6 454.4,1565.9 462.9,1566.6 C471.5,1567.3 478.1,1565.9 486.6,1562.6 C495.2,1559.4 505.7,1552.1 514.3,1546.9 C522.8,1541.6 529.4,1532.4 538,1531.1 C546.5,1529.7 557.7,1539 565.6,1539 C573.5,1539 577.4,1535 585.3,1531.1 C593.2,1527.1 603.8,1518.9 613,1515.3 C622.2,1511.7 632.7,1508.7 640.6,1509.3 C648.5,1510 655.1,1515.6 660.3,1519.2 C665.6,1522.8 670.2,1529.1 672.2,1531.1" fill="none" stroke="#8a9597" stroke-width="1.3"/><path d="M695.9,1562.6 C698.5,1565.9 707.6,1577.8 711.7,1582.4 C715.7,1587 718.6,1589 720,1590.3" fill="none" stroke="#8a9597" stroke-width="1.3"/><path d="M174.7,1523.2 L182.6,1525.1" fill="none" stroke="#8a9597" stroke-width="1.3"/><path d="M220.2,1523.2 C221.8,1522.2 227.1,1517.9 230,1517.2 C233,1516.6 236.6,1518.9 237.9,1519.2" fill="none" stroke="#8a9597" stroke-width="1.3"/><path d="M352.4,1602.1 C353.1,1600.8 352.4,1596.9 356.4,1594.2 C360.3,1591.6 369.5,1586.3 376.1,1586.3 C382.7,1586.3 391.2,1591.9 395.8,1594.2 C400.4,1596.5 402.4,1599.2 403.7,1600.2" fill="none" stroke="#8a9597" stroke-width="1.3"/><path d="M431.4,1629.8 C435.3,1631.7 447.8,1639.3 455,1641.6 C462.3,1643.9 468.2,1644.9 474.8,1643.6 C481.4,1642.3 487.9,1638 494.5,1633.7 C501.1,1629.4 507.7,1623.2 514.3,1617.9 C520.8,1612.7 527.4,1603.4 534,1602.1 C540.6,1600.8 547.8,1607.4 553.7,1610 C559.7,1612.7 563,1618.6 569.5,1617.9 C576.1,1617.3 586,1610 593.2,1606.1 C600.5,1602.1 606.4,1596.9 613,1594.2 C619.5,1591.6 626.1,1590.6 632.7,1590.3 C639.3,1590 645.9,1589 652.4,1592.3 C659,1595.5 666.9,1603.8 672.2,1610 C677.4,1616.3 682.1,1626.5 684,1629.8" fill="none" stroke="#8a9597" stroke-width="1.3"/><path d="M707.7,1681.1 L720,1692.9" fill="none" stroke="#8a9597" stroke-width="1.3"/><path d="M695.9,1499.5 C698.5,1502.1 707.6,1512 711.7,1515.3 C715.7,1518.6 718.6,1518.6 720,1519.2" fill="none" stroke="#8a9597" stroke-width="1.3"/><path d="M178.7,1507.4 C185.3,1506.7 208.3,1505.1 218.2,1503.4 C228,1501.8 234.6,1498.5 237.9,1497.5" fill="none" stroke="#8a9597" stroke-width="1.3"/><path d="M82.5,1475.3 L83.7,1475.5 L84.9,1475.6 L86.1,1475.8 L87.3,1475.9 L88.6,1476 L89.8,1476.1 L91,1476 L92.2,1475.6 L93.4,1475 L94.6,1474.2 L95.8,1473.4 L97,1472.8 L98.2,1472.7 L99.4,1473.1 L100.7,1474.1 L101.9,1475.2 L103.1,1476.4 L104.3,1477.3 L105.5,1478 L106.7,1478.4 L107.9,1478.7 L109.1,1479 L110.3,1479.1 L111.5,1479.3 L112.8,1479.5 L114,1479.7 L115.2,1479.8 L116.4,1480 L117.6,1480.2 L118.8,1480.3 L120,1480.5 L121.2,1480.7 L122.4,1480.8 L123.7,1481 L124.9,1481.2 L126.1,1481.3 L127.3,1481.5 L128.5,1481.7 L129.7,1481.8 L130.9,1482 L132.1,1482.2 L133.3,1482.3 L134.5,1482.5 L135.8,1482.7 L137,1482.8 L138.2,1483 L139.4,1483.2 L140.6,1483.3" fill="none" stroke="#5a2050" stroke-width="1.1" opacity="0.85"/><path d="M82.5,1480.1 L83.7,1480.4 L84.9,1480.7 L86.1,1481 L87.3,1481.3 L88.6,1481.5 L89.8,1481.7 L91,1481.7 L92.2,1481.5 L93.4,1481.1 L94.6,1480.4 L95.8,1479.7 L97,1479.2 L98.2,1479.3 L99.4,1479.8 L100.7,1480.9 L101.9,1482.2 L103.1,1483.5 L104.3,1484.6 L105.5,1485.4 L106.7,1486 L107.9,1486.4 L109.1,1486.8 L110.3,1487.1 L111.5,1487.4 L112.8,1487.7 L114,1488 L115.2,1488.3 L116.4,1488.6 L117.6,1488.9 L118.8,1489.2 L120,1489.6 L121.2,1489.9 L122.4,1490.2 L123.7,1490.5 L124.9,1490.8 L126.1,1491.1 L127.3,1491.4 L128.5,1491.7 L129.7,1492 L130.9,1492.3 L132.1,1492.6 L133.3,1492.9 L134.5,1493.2 L135.8,1493.5 L137,1493.8 L138.2,1494.1 L139.4,1494.4 L140.6,1494.7" fill="none" stroke="#5a2050" stroke-width="1.1" opacity="0.85"/><path d="M82.5,1484.9 L83.7,1485.3 L84.9,1485.8 L86.1,1486.2 L87.3,1486.6 L88.6,1487 L89.8,1487.3 L91,1487.5 L92.2,1487.4 L93.4,1487.1 L94.6,1486.6 L95.8,1486 L97,1485.7 L98.2,1485.8 L99.4,1486.6 L100.7,1487.8 L101.9,1489.2 L103.1,1490.7 L104.3,1491.9 L105.5,1492.8 L106.7,1493.5 L107.9,1494.1 L109.1,1494.6 L110.3,1495.1 L111.5,1495.5 L112.8,1496 L114,1496.4 L115.2,1496.8 L116.4,1497.3 L117.6,1497.7 L118.8,1498.2 L120,1498.6 L121.2,1499.1 L122.4,1499.5 L123.7,1499.9 L124.9,1500.4 L126.1,1500.8 L127.3,1501.3 L128.5,1501.7 L129.7,1502.2 L130.9,1502.6 L132.1,1503 L133.3,1503.5 L134.5,1503.9 L135.8,1504.4 L137,1504.8 L138.2,1505.3 L139.4,1505.7 L140.6,1506.1" fill="none" stroke="#5a2050" stroke-width="1.1" opacity="0.85"/><path d="M82.5,1489.7 L83.7,1490.3 L84.9,1490.9 L86.1,1491.4 L87.3,1492 L88.6,1492.5 L89.8,1493 L91,1493.3 L92.2,1493.3 L93.4,1493.2 L94.6,1492.8 L95.8,1492.3 L97,1492.1 L98.2,1492.4 L99.4,1493.3 L100.7,1494.7 L101.9,1496.2 L103.1,1497.8 L104.3,1499.1 L105.5,1500.2 L106.7,1501.1 L107.9,1501.8 L109.1,1502.4 L110.3,1503 L111.5,1503.6 L112.8,1504.2 L114,1504.8 L115.2,1505.4 L116.4,1505.9 L117.6,1506.5 L118.8,1507.1 L120,1507.7 L121.2,1508.3 L122.4,1508.8 L123.7,1509.4 L124.9,1510 L126.1,1510.6 L127.3,1511.2 L128.5,1511.7 L129.7,1512.3 L130.9,1512.9 L132.1,1513.5 L133.3,1514.1 L134.5,1514.6 L135.8,1515.2 L137,1515.8 L138.2,1516.4 L139.4,1517 L140.6,1517.5" fill="none" stroke="#5a2050" stroke-width="1.1" opacity="0.85"/><path d="M82.5,1494.5 L83.7,1495.2 L84.9,1495.9 L86.1,1496.6 L87.3,1497.3 L88.6,1498 L89.8,1498.6 L91,1499 L92.2,1499.2 L93.4,1499.2 L94.6,1498.9 L95.8,1498.7 L97,1498.6 L98.2,1499 L99.4,1500 L100.7,1501.5 L101.9,1503.2 L103.1,1504.9 L104.3,1506.4 L105.5,1507.6 L106.7,1508.6 L107.9,1509.5 L109.1,1510.3 L110.3,1511 L111.5,1511.7 L112.8,1512.4 L114,1513.2 L115.2,1513.9 L116.4,1514.6 L117.6,1515.3 L118.8,1516 L120,1516.7 L121.2,1517.5 L122.4,1518.2 L123.7,1518.9 L124.9,1519.6 L126.1,1520.3 L127.3,1521 L128.5,1521.8 L129.7,1522.5 L130.9,1523.2 L132.1,1523.9 L133.3,1524.6 L134.5,1525.3 L135.8,1526.1 L137,1526.8 L138.2,1527.5 L139.4,1528.2 L140.6,1528.9" fill="none" stroke="#5a2050" stroke-width="1.1" opacity="0.85"/><path d="M82.5,1499.3 L83.7,1500.2 L84.9,1501 L86.1,1501.9 L87.3,1502.7 L88.6,1503.5 L89.8,1504.2 L91,1504.8 L92.2,1505.1 L93.4,1505.2 L94.6,1505.1 L95.8,1505 L97,1505.1 L98.2,1505.6 L99.4,1506.8 L100.7,1508.4 L101.9,1510.2 L103.1,1512.1 L104.3,1513.7 L105.5,1515 L106.7,1516.2 L107.9,1517.2 L109.1,1518.1 L110.3,1519 L111.5,1519.8 L112.8,1520.7 L114,1521.5 L115.2,1522.4 L116.4,1523.2 L117.6,1524.1 L118.8,1524.9 L120,1525.8 L121.2,1526.7 L122.4,1527.5 L123.7,1528.4 L124.9,1529.2 L126.1,1530.1 L127.3,1530.9 L128.5,1531.8 L129.7,1532.6 L130.9,1533.5 L132.1,1534.3 L133.3,1535.2 L134.5,1536.1 L135.8,1536.9 L137,1537.8 L138.2,1538.6 L139.4,1539.5 L140.6,1540.3" fill="none" stroke="#5a2050" stroke-width="1.1" opacity="0.85"/></g>
<path d="M82.5,1520.9 L83.8,1510.3 L85.3,1502.4 L86.8,1502.8 L88.7,1508.5 L90.7,1513.8 L92.2,1514.7 L94.7,1513.8 L97.1,1500.6 L99.3,1490.9 L101.1,1502.4 L102.6,1509.4 L105,1513.4 L110.5,1513.8 L113.4,1516.5 L115.9,1517.4 L119.4,1522.2 L120.8,1521.3 L124.8,1525.3 L127.7,1526.6 L133.7,1527.5 L136.6,1529.7 L140.6,1534.1 L144.5,1538.1 L149.5,1539.4 L155.4,1540.7 L158.4,1542.5 L162.3,1546.9 L166.3,1549.1 L170.2,1550.9 L174.2,1553.5 L176.1,1554.4 L179.1,1558 L182.1,1558.8 L185,1560.6 L187,1560.2 L190.9,1561.5 L195.9,1562.4 L198.8,1561.9 L204.8,1560.2 L208.7,1558 L211.7,1559.3 L214.6,1561 L217.6,1560.6 L221.6,1551.8 L226.5,1540.3 L230.4,1524.4 L231.4,1524.9 L233.4,1526.2 L235.9,1530.6 L237.9,1535.5 L239.8,1533.7 L241.8,1526.2 L244.3,1517.4 L245.8,1514.7 L247.2,1529.7 L248.7,1553.5 L249.7,1573 L251.7,1575.6 L253.7,1570.3 L256.1,1571.2 L259.1,1572.1 L262.1,1573.8 L266,1569.9 L269.5,1572.1 L273.9,1560.6 L277.4,1573.4 L280.8,1574.7 L284.3,1575.2 L288.7,1579.1 L293.7,1583.1 L296.6,1582.7 L299.6,1579.6 L302.1,1575.2 L306.5,1583.5 L310.4,1586.6 L316.4,1588 L320.3,1585.3 L323.8,1582.2 L326.2,1586.2 L329.2,1593.2 L335.1,1597.7 L338.1,1598.1 L341.1,1600.3 L345.1,1605.3 L350,1605.3 L353.9,1608.9 L358.9,1612.8 L363.8,1613.3 L367.3,1619.4 L373.2,1602.7 L376.7,1615.9 L379.6,1630 L381.6,1634 L385.5,1635.8 L390.5,1638.8 L393.4,1641.5 L396.4,1642.4 L400.4,1649.4 L404.8,1656.5 L407.3,1668 L410.2,1673.3 L414.2,1684.7 L418.1,1696.2 L421.1,1706.8 L424,1708.1 L428,1710.8 L436.9,1711.2 L439.8,1708.5 L445.8,1700.2 L449.7,1698.4 L455.6,1697.1 L458.6,1698 L461.5,1701.4 L464.5,1704.1 L467.5,1707.2 L473.4,1712 L476.3,1713.3 L483.3,1717.3 L487.7,1716.9 L490.2,1717.8 L493.6,1710.3 L498.1,1716.9 L502,1721.3 L508.9,1719.1 L512.9,1723.5 L517.3,1726.6 L523.7,1724.8 L529.7,1725.2 L534.6,1730.1 L538.5,1732.7 L543.5,1734.1 L548.4,1735.4 L553.4,1736.3 L559.3,1739.8 L565.2,1743.8 L573.1,1747.7 L584,1748.2 L588.9,1749.1 L594.8,1746 L598.8,1747.7 L601.6,1751.8 L603.7,1754.8 L605,1755.7 L610.2,1760.3 L615.3,1759.9 L618.7,1760.3 L624.7,1758 L627.3,1758.7 L631.6,1756 L635,1756.4 L639.3,1758 L642.8,1763.3 L646.2,1766.8 L650.5,1765.2 L653.1,1768.7 L657.4,1764.9 L661.7,1756.4 L665.1,1744.2 L667.2,1733.4 L672.4,1733.4 L676.2,1742.6 L681.4,1757.2 L686.5,1774.8 L690.8,1794 L695.1,1807 L701.1,1818.5 L706.3,1827.7 L709.3,1833.5 L714.4,1846.5 L719.2,1833.9 L721.7,1824.7 L722.6,1820.8" fill="none" stroke="#303030" stroke-width="1.4" stroke-linejoin="round"/>
<text x="123.4" y="1477.8" transform="rotate(0 123.4 1477.8)" font-family='"Liberation Sans", Arial, Helvetica, sans-serif' font-size="29" text-anchor="middle" dominant-baseline="central" fill="#151515">6</text><text x="149.1" y="1485.7" transform="rotate(0 149.1 1485.7)" font-family='"Liberation Sans", Arial, Helvetica, sans-serif' font-size="29" text-anchor="middle" dominant-baseline="central" fill="#151515">9</text><text x="172.8" y="1487.6" transform="rotate(0 172.8 1487.6)" font-family='"Liberation Sans", Arial, Helvetica, sans-serif' font-size="29" text-anchor="middle" dominant-baseline="central" fill="#151515">12</text><text x="157" y="1509.3" transform="rotate(0 157 1509.3)" font-family='"Liberation Sans", Arial, Helvetica, sans-serif' font-size="29" text-anchor="middle" dominant-baseline="central" fill="#151515">18</text><text x="198.4" y="1525.1" transform="rotate(0 198.4 1525.1)" font-family='"Liberation Sans", Arial, Helvetica, sans-serif' font-size="29" text-anchor="middle" dominant-baseline="central" fill="#151515">21</text><text x="251.7" y="1488.4" transform="rotate(0 251.7 1488.4)" font-family='"Liberation Sans", Arial, Helvetica, sans-serif' font-size="29" text-anchor="middle" dominant-baseline="central" fill="#151515">15</text><text x="480.7" y="1509.3" transform="rotate(0 480.7 1509.3)" font-family='"Liberation Sans", Arial, Helvetica, sans-serif' font-size="29" text-anchor="middle" dominant-baseline="central" fill="#151515">18</text><text x="386" y="1533" transform="rotate(25 386 1533)" font-family='"Liberation Sans", Arial, Helvetica, sans-serif' font-size="29" text-anchor="middle" dominant-baseline="central" fill="#151515">21</text><text x="684" y="1546.9" transform="rotate(45 684 1546.9)" font-family='"Liberation Sans", Arial, Helvetica, sans-serif' font-size="29" text-anchor="middle" dominant-baseline="central" fill="#151515">21</text><text x="413.6" y="1614" transform="rotate(40 413.6 1614)" font-family='"Liberation Sans", Arial, Helvetica, sans-serif' font-size="29" text-anchor="middle" dominant-baseline="central" fill="#151515">24</text><text x="693.9" y="1653.4" transform="rotate(65 693.9 1653.4)" font-family='"Liberation Sans", Arial, Helvetica, sans-serif' font-size="29" text-anchor="middle" dominant-baseline="central" fill="#151515">24</text><path d="M303.1,1692.1 L244.1,1808.9" stroke="#1e1e1e" stroke-width="3.7" fill="none"/><path d="M234,1829.1 L232.5,1794.2 L245,1807.2 L262.9,1809.5 Z" fill="#1e1e1e"/>
</g>
<rect x="82.5" y="1464.3" width="638.5" height="411.9" fill="none" stroke="#6e6e6e" stroke-width="1.4"/><path d="M203.5,1464.3v8M203.5,1876.2v-8M324.6,1464.3v8M324.6,1876.2v-8M445.6,1464.3v8M445.6,1876.2v-8M566.7,1464.3v8M566.7,1876.2v-8M687.7,1464.3v8M687.7,1876.2v-8M82.5,1533h8M721,1533h-8M82.5,1601.6h8M721,1601.6h-8M82.5,1670.2h8M721,1670.2h-8M82.5,1738.9h8M721,1738.9h-8M82.5,1807.5h8M721,1807.5h-8" stroke="#444" stroke-width="1.5" fill="none"/>
<rect x="726.1" y="1462.5" width="31.5" height="413" fill="url(#gDense)" stroke="#6e6e6e" stroke-width="1.4"/>
<g clip-path="url(#clipC)">
<clipPath id="wC"><path d="M861.1,53.8 L1502.9,53.8 L1501.5,451.8 L1500.7,456.1 L1498.1,466.3 L1493.4,480.5 L1488.2,465.9 L1485.2,459.5 L1480,449.2 L1474,436.4 L1469.7,421.8 L1465.4,400.4 L1460.3,380.7 L1455.1,364.5 L1451.3,354.2 L1446.1,354.2 L1444,366.2 L1440.5,379.9 L1436.2,389.3 L1432,393.6 L1429.4,389.7 L1425.1,391.4 L1421.7,387.6 L1418.2,381.6 L1413.9,379.9 L1410.5,379.4 L1406.2,382.4 L1403.6,381.6 L1397.6,384.2 L1394.2,383.7 L1389,384.2 L1383.9,379 L1382.6,378.1 L1380.4,374.7 L1377.6,370.2 L1373.7,368.2 L1367.8,371.7 L1362.8,370.7 L1352,370.2 L1344.1,365.8 L1338.1,361.3 L1332.2,357.4 L1327.3,356.4 L1322.3,354.9 L1317.4,353.4 L1313.4,350.5 L1308.5,345.1 L1302.6,344.6 L1296.1,346.5 L1291.7,343.1 L1287.7,338.2 L1280.8,340.6 L1276.9,335.7 L1272.4,328.3 L1269,336.7 L1266.5,335.7 L1262,336.2 L1255.1,331.8 L1252.2,330.3 L1246.2,324.9 L1243.3,321.5 L1240.3,318.5 L1237.4,314.6 L1234.4,313.6 L1228.5,315.1 L1224.6,317.1 L1218.6,326.4 L1215.7,329.4 L1206.8,328.9 L1202.8,325.9 L1199.9,324.5 L1196.9,312.6 L1192.9,299.8 L1189,287 L1186,281.1 L1183.6,268.3 L1179.1,260.4 L1175.2,252.6 L1172.2,251.6 L1169.2,248.6 L1164.3,245.2 L1160.3,243.2 L1158.4,238.8 L1155.4,223 L1151.9,208.3 L1146,227 L1142.6,220.1 L1137.6,219.6 L1132.7,215.1 L1128.7,211.2 L1123.8,211.2 L1119.8,205.6 L1116.8,203.1 L1113.9,202.7 L1107.9,197.7 L1105,189.8 L1102.5,185.4 L1099,188.9 L1095.1,191.8 L1089.2,190.3 L1085.2,186.9 L1080.8,177.5 L1078.3,182.5 L1075.3,185.9 L1072.4,186.4 L1067.4,182 L1063,177.5 L1059.5,177 L1056.1,175.6 L1052.6,161.3 L1048.2,174.1 L1044.7,171.6 L1040.8,176.1 L1037.8,174.1 L1034.8,173.1 L1032.4,172.1 L1030.4,178 L1028.4,175.1 L1027.4,153.4 L1025.9,126.8 L1024.4,110.1 L1023,113 L1020.5,122.9 L1018.5,131.3 L1016.5,133.2 L1014.6,127.8 L1012.1,122.9 L1010.1,121.4 L1009.1,120.9 L1005.2,138.6 L1000.2,151.4 L996.3,161.3 L993.3,161.8 L990.3,159.8 L987.4,158.3 L983.4,160.8 L977.5,162.8 L974.5,163.3 L969.6,162.3 L965.6,160.8 L963.7,161.3 L960.7,159.3 L957.7,158.3 L954.8,154.4 L952.8,153.4 L948.9,150.5 L944.9,148.5 L940.9,146 L937,141.1 L934,139.1 L928.1,137.7 L923.2,136.2 L919.2,131.7 L915.3,126.8 L912.3,124.4 L906.4,123.4 L903.4,121.9 L899.5,117.5 L898,118.5 L894.5,113 L892,112.1 L889.1,109.1 L883.6,108.6 L881.2,104.2 L879.7,96.3 L877.9,83.5 L875.7,94.3 L873.3,109.1 L870.8,110.1 L869.3,109.1 L867.3,103.2 L865.4,96.8 L863.9,96.3 L862.4,105.2 L861.1,117 Z"/></clipPath>
<path d="M861.1,53.8 L1502.9,53.8 L1501.5,451.8 L1500.7,456.1 L1498.1,466.3 L1493.4,480.5 L1488.2,465.9 L1485.2,459.5 L1480,449.2 L1474,436.4 L1469.7,421.8 L1465.4,400.4 L1460.3,380.7 L1455.1,364.5 L1451.3,354.2 L1446.1,354.2 L1444,366.2 L1440.5,379.9 L1436.2,389.3 L1432,393.6 L1429.4,389.7 L1425.1,391.4 L1421.7,387.6 L1418.2,381.6 L1413.9,379.9 L1410.5,379.4 L1406.2,382.4 L1403.6,381.6 L1397.6,384.2 L1394.2,383.7 L1389,384.2 L1383.9,379 L1382.6,378.1 L1380.4,374.7 L1377.6,370.2 L1373.7,368.2 L1367.8,371.7 L1362.8,370.7 L1352,370.2 L1344.1,365.8 L1338.1,361.3 L1332.2,357.4 L1327.3,356.4 L1322.3,354.9 L1317.4,353.4 L1313.4,350.5 L1308.5,345.1 L1302.6,344.6 L1296.1,346.5 L1291.7,343.1 L1287.7,338.2 L1280.8,340.6 L1276.9,335.7 L1272.4,328.3 L1269,336.7 L1266.5,335.7 L1262,336.2 L1255.1,331.8 L1252.2,330.3 L1246.2,324.9 L1243.3,321.5 L1240.3,318.5 L1237.4,314.6 L1234.4,313.6 L1228.5,315.1 L1224.6,317.1 L1218.6,326.4 L1215.7,329.4 L1206.8,328.9 L1202.8,325.9 L1199.9,324.5 L1196.9,312.6 L1192.9,299.8 L1189,287 L1186,281.1 L1183.6,268.3 L1179.1,260.4 L1175.2,252.6 L1172.2,251.6 L1169.2,248.6 L1164.3,245.2 L1160.3,243.2 L1158.4,238.8 L1155.4,223 L1151.9,208.3 L1146,227 L1142.6,220.1 L1137.6,219.6 L1132.7,215.1 L1128.7,211.2 L1123.8,211.2 L1119.8,205.6 L1116.8,203.1 L1113.9,202.7 L1107.9,197.7 L1105,189.8 L1102.5,185.4 L1099,188.9 L1095.1,191.8 L1089.2,190.3 L1085.2,186.9 L1080.8,177.5 L1078.3,182.5 L1075.3,185.9 L1072.4,186.4 L1067.4,182 L1063,177.5 L1059.5,177 L1056.1,175.6 L1052.6,161.3 L1048.2,174.1 L1044.7,171.6 L1040.8,176.1 L1037.8,174.1 L1034.8,173.1 L1032.4,172.1 L1030.4,178 L1028.4,175.1 L1027.4,153.4 L1025.9,126.8 L1024.4,110.1 L1023,113 L1020.5,122.9 L1018.5,131.3 L1016.5,133.2 L1014.6,127.8 L1012.1,122.9 L1010.1,121.4 L1009.1,120.9 L1005.2,138.6 L1000.2,151.4 L996.3,161.3 L993.3,161.8 L990.3,159.8 L987.4,158.3 L983.4,160.8 L977.5,162.8 L974.5,163.3 L969.6,162.3 L965.6,160.8 L963.7,161.3 L960.7,159.3 L957.7,158.3 L954.8,154.4 L952.8,153.4 L948.9,150.5 L944.9,148.5 L940.9,146 L937,141.1 L934,139.1 L928.1,137.7 L923.2,136.2 L919.2,131.7 L915.3,126.8 L912.3,124.4 L906.4,123.4 L903.4,121.9 L899.5,117.5 L898,118.5 L894.5,113 L892,112.1 L889.1,109.1 L883.6,108.6 L881.2,104.2 L879.7,96.3 L877.9,83.5 L875.7,94.3 L873.3,109.1 L870.8,110.1 L869.3,109.1 L867.3,103.2 L865.4,96.8 L863.9,96.3 L862.4,105.2 L861.1,117 Z" fill="#efebea"/>
<g clip-path="url(#wC)"><g filter="url(#blurR)"><path d="M862.6,23.8 L864.2,55.9 L864.2,98.7 L862.6,130.8 L861.1,98.7 L861.1,55.9 Z" fill="#d6dce0"/><path d="M924.8,233.6 L926,265.3 L926,307.6 L924.8,339.4 L923.6,307.6 L923.6,265.3 Z" fill="#d6dce0"/><path d="M940.7,164.6 L942.4,183.7 L942.4,209.3 L940.7,228.4 L939.1,209.3 L939.1,183.7 Z" fill="#dfe3e6"/><path d="M1015.5,183.2 L1017.3,228.2 L1017.3,453 L1015.5,498 L1013.6,453 L1013.6,228.2 Z" fill="#e9e1df"/><path d="M1022.5,283.5 L1023.4,328.5 L1023.4,453 L1022.5,498 L1021.5,453 L1021.5,328.5 Z" fill="#e9e1df"/><path d="M1030.6,186.1 L1031.6,231.1 L1031.6,310 L1030.6,355 L1029.5,310 L1029.5,231.1 Z" fill="#cdd8de"/><path d="M1043.7,23.8 L1044.7,68.8 L1044.7,453 L1043.7,498 L1042.6,453 L1042.6,68.8 Z" fill="#cdd8de"/><path d="M1056.7,179 L1058.4,224 L1058.4,453 L1056.7,498 L1054.9,453 L1054.9,224 Z" fill="#cdd8de"/><path d="M1062.5,182.5 L1064.4,227.5 L1064.4,453 L1062.5,498 L1060.6,453 L1060.6,227.5 Z" fill="#e9e1df"/><path d="M1078,23.8 L1079.6,68.8 L1079.6,453 L1078,498 L1076.5,453 L1076.5,68.8 Z" fill="#e9e1df"/><path d="M1084.5,159.3 L1086.5,204.3 L1086.5,331.8 L1084.5,376.8 L1082.6,331.8 L1082.6,204.3 Z" fill="#cdd8de"/><path d="M1154.9,23.8 L1156.8,68.8 L1156.8,453 L1154.9,498 L1153,453 L1153,68.8 Z" fill="#d6dce0"/><path d="M1185.3,224 L1186.8,269 L1186.8,453 L1185.3,498 L1183.8,453 L1183.8,269 Z" fill="#e9e1df"/><path d="M1219.9,23.8 L1220.9,68.8 L1220.9,453 L1219.9,498 L1218.8,453 L1218.8,68.8 Z" fill="#e9e1df"/><path d="M1225.5,23.8 L1227,54.1 L1227,94.5 L1225.5,124.8 L1224,94.5 L1224,54.1 Z" fill="#cdd8de"/><path d="M1241.5,23.8 L1243.2,46.8 L1243.2,77.5 L1241.5,100.5 L1239.8,77.5 L1239.8,46.8 Z" fill="#e9e1df"/><path d="M1246.6,248.9 L1247.9,293.9 L1247.9,453 L1246.6,498 L1245.3,453 L1245.3,293.9 Z" fill="#d6dce0"/><path d="M1266.9,215.6 L1267.7,244.8 L1267.7,283.7 L1266.9,312.9 L1266.1,283.7 L1266.1,244.8 Z" fill="#dfe3e6"/><path d="M1289.4,23.8 L1291.7,68.8 L1291.7,453 L1289.4,498 L1287.2,453 L1287.2,68.8 Z" fill="#dfe3e6"/><path d="M1324.4,290.2 L1326.8,335.2 L1326.8,453 L1324.4,498 L1321.9,453 L1321.9,335.2 Z" fill="#d6dce0"/><path d="M1412.6,69 L1414.8,114 L1414.8,251.9 L1412.6,296.9 L1410.3,251.9 L1410.3,114 Z" fill="#e9e1df"/><path d="M1442.7,23.8 L1443.7,65.2 L1443.7,120.4 L1442.7,161.8 L1441.8,120.4 L1441.8,65.2 Z" fill="#cdd8de"/><path d="M1465.6,23.8 L1467.6,68.8 L1467.6,453 L1465.6,498 L1463.5,453 L1463.5,68.8 Z" fill="#d6dce0"/><path d="M1476.4,23.8 L1478.4,68.8 L1478.4,453 L1476.4,498 L1474.3,453 L1474.3,68.8 Z" fill="#cdd8de"/><path d="M1487.3,23.8 L1489.1,61.2 L1489.1,111 L1487.3,148.4 L1485.6,111 L1485.6,61.2 Z" fill="#cdd8de"/><path d="M1411,13.8 L1418.4,43.8 L1418.4,478 L1411,508 L1403.6,478 L1403.6,43.8 Z" fill="#d2d9de"/><path d="M1358.3,13.8 L1363.5,43.8 L1363.5,478 L1358.3,508 L1353,478 L1353,43.8 Z" fill="#d2d9de"/><path d="M1326.6,13.8 L1334,43.8 L1334,478 L1326.6,508 L1319.2,478 L1319.2,43.8 Z" fill="#d2d9de"/><path d="M1306.6,13.8 L1315,43.8 L1315,478 L1306.6,508 L1298.1,478 L1298.1,43.8 Z" fill="#d2d9de"/><path d="M1291.8,13.8 L1298.1,43.8 L1298.1,478 L1291.8,508 L1285.5,478 L1285.5,43.8 Z" fill="#d2d9de"/><path d="M1239.1,13.8 L1260.2,43.8 L1260.2,478 L1239.1,508 L1218,478 L1218,43.8 Z" fill="#d2d9de"/><path d="M1209.5,13.8 L1213.8,43.8 L1213.8,478 L1209.5,508 L1205.3,478 L1205.3,43.8 Z" fill="#d2d9de"/><path d="M1191.6,13.8 L1196.9,43.8 L1196.9,478 L1191.6,508 L1186.3,478 L1186.3,43.8 Z" fill="#d2d9de"/><path d="M991.3,13.8 L996.2,43.8 L996.2,478 L991.3,508 L986.3,478 L986.3,43.8 Z" fill="#d2d9de"/><path d="M978.4,13.8 L982.4,43.8 L982.4,478 L978.4,508 L974.5,478 L974.5,43.8 Z" fill="#d2d9de"/><path d="M922.2,13.8 L925.1,43.8 L925.1,478 L922.2,508 L919.2,478 L919.2,43.8 Z" fill="#d2d9de"/><path d="M890.6,13.8 L893.6,43.8 L893.6,478 L890.6,508 L887.6,478 L887.6,43.8 Z" fill="#d2d9de"/><path d="M862,3.8 L865.1,30.1 L865.1,79.1 L862,105.4 L858.8,79.1 L858.8,30.1 Z" fill="#eabeb4"/><path d="M874.8,3.8 L878,32.9 L878,90.2 L874.8,119.2 L871.6,90.2 L871.6,32.9 Z" fill="#eed4ce"/><path d="M879.7,3.8 L882.9,43.8 L882.9,478 L879.7,518 L876.6,478 L876.6,43.8 Z" fill="#e0eaee"/><path d="M897.5,3.8 L900.7,37.2 L900.7,107.5 L897.5,141 L894.3,107.5 L894.3,37.2 Z" fill="#f3e4dd"/><path d="M903.4,3.8 L909.7,41.2 L909.7,123.3 L903.4,160.7 L897.1,123.3 L897.1,41.2 Z" fill="#f6ece8"/><path d="M932,3.8 L943.1,38 L943.1,110.7 L932,144.9 L921,110.7 L921,38 Z" fill="#d4e4ec"/><path d="M933,75.6 L939.4,92.7 L939.4,114 L933,131.1 L926.7,114 L926.7,92.7 Z" fill="#c2d7e7"/><path d="M943.9,3.8 L951.8,39.2 L951.8,115.4 L943.9,150.8 L936,115.4 L936,39.2 Z" fill="#f4e7e1"/><path d="M955.7,3.8 L960.5,43.8 L960.5,478 L955.7,518 L951,478 L951,43.8 Z" fill="#e4ebef"/><path d="M968.6,81.5 L978,104.1 L978,142 L968.6,164.6 L959.1,142 L959.1,104.1 Z" fill="#f3e8e4"/><path d="M1003.1,3.8 L1014.2,40.4 L1014.2,120.2 L1003.1,156.7 L992.1,120.2 L992.1,40.4 Z" fill="#afcce7"/><path d="M1002.6,3.8 L1009.7,38 L1009.7,110.7 L1002.6,144.9 L995.5,110.7 L995.5,38 Z" fill="#a9c3e0"/><path d="M1014,3.8 L1020.3,38 L1020.3,110.7 L1014,144.9 L1007.7,110.7 L1007.7,38 Z" fill="#cedee7"/><path d="M1021.9,3.8 L1025,30.5 L1025,80.7 L1021.9,107.4 L1018.7,80.7 L1018.7,30.5 Z" fill="#d4a7ab"/><path d="M1026.1,3.8 L1028.2,31.3 L1028.2,83.8 L1026.1,111.3 L1024.1,83.8 L1024.1,31.3 Z" fill="#aec8e7"/><path d="M1032.7,3.8 L1040.6,43.8 L1040.6,144.4 L1032.7,184.4 L1024.8,144.4 L1024.8,43.8 Z" fill="#eac6ba"/><path d="M1041.6,3.8 L1047.9,43.8 L1047.9,140.4 L1041.6,180.4 L1035.3,140.4 L1035.3,43.8 Z" fill="#f0d8d1"/><path d="M1047.5,3.8 L1050.7,43.8 L1050.7,140.4 L1047.5,180.4 L1044.4,140.4 L1044.4,43.8 Z" fill="#c0d9e7"/><path d="M1056.9,3.8 L1059.3,43.8 L1059.3,140.4 L1056.9,180.4 L1054.5,140.4 L1054.5,43.8 Z" fill="#ebc6bc"/><path d="M1080.1,3.8 L1084.8,43.8 L1084.8,478 L1080.1,518 L1075.4,478 L1075.4,43.8 Z" fill="#dde6eb"/><path d="M1093.9,3.8 L1105,39.2 L1105,115.4 L1093.9,150.8 L1082.9,115.4 L1082.9,39.2 Z" fill="#f4ebe7"/><path d="M1105.8,3.8 L1110.5,43.8 L1110.5,478 L1105.8,518 L1101,478 L1101,43.8 Z" fill="#e4ebef"/><path d="M1115.6,3.8 L1120.4,43.8 L1120.4,160.2 L1115.6,200.2 L1110.9,160.2 L1110.9,43.8 Z" fill="#f5ece8"/><path d="M1128.5,3.8 L1147.4,43.8 L1147.4,478 L1128.5,518 L1109.5,478 L1109.5,43.8 Z" fill="#dde7ed"/><path d="M1132.4,81.5 L1138.7,111.2 L1138.7,170.4 L1132.4,200.2 L1126.1,170.4 L1126.1,111.2 Z" fill="#c8dbe8"/><path d="M1145.2,81.5 L1150,115.2 L1150,186.2 L1145.2,219.9 L1140.5,186.2 L1140.5,115.2 Z" fill="#f5ece8"/><path d="M1154.1,3.8 L1160.4,43.8 L1160.4,179.9 L1154.1,219.9 L1147.8,179.9 L1147.8,43.8 Z" fill="#acc4e4"/><path d="M1154.1,101.2 L1157.3,127 L1157.3,174.4 L1154.1,200.2 L1151,174.4 L1151,127 Z" fill="#a8bddd"/><path d="M1161,170.3 L1165.8,190.2 L1165.8,219.8 L1161,239.7 L1156.3,219.8 L1156.3,190.2 Z" fill="#f3e4dd"/><path d="M1173,3.8 L1184.2,43.8 L1184.2,478 L1173,518 L1161.8,478 L1161.8,43.8 Z" fill="#dae6ed"/><path d="M1183.2,147.5 L1188.2,178.6 L1188.2,241.9 L1183.2,273 L1178.1,241.9 L1178.1,178.6 Z" fill="#c2dae7"/><path d="M1226.4,84.2 L1233.2,124.2 L1233.2,243.5 L1226.4,283.5 L1219.7,243.5 L1219.7,124.2 Z" fill="#dae6ec"/><path d="M1238,94.7 L1246.5,134.3 L1246.5,222.9 L1238,262.4 L1229.6,222.9 L1229.6,134.3 Z" fill="#dde8ed"/><path d="M1273.9,3.8 L1278.9,43.8 L1278.9,478 L1273.9,518 L1268.8,478 L1268.8,43.8 Z" fill="#e4ebef"/><path d="M1282.3,134.8 L1287.4,170.6 L1287.4,247.8 L1282.3,283.5 L1277.3,247.8 L1277.3,170.6 Z" fill="#f5eae6"/><path d="M1376.2,105.3 L1386.3,145.3 L1386.3,275.2 L1376.2,315.2 L1366.1,275.2 L1366.1,145.3 Z" fill="#e0eaee"/><path d="M1387.8,105.3 L1392.9,145.3 L1392.9,304.7 L1387.8,344.7 L1382.7,304.7 L1382.7,145.3 Z" fill="#f5eae7"/><path d="M1399.4,200.2 L1406.2,233.4 L1406.2,303.1 L1399.4,336.3 L1392.7,303.1 L1392.7,233.4 Z" fill="#f7efec"/><path d="M1423.7,168.6 L1428.7,187 L1428.7,212.3 L1423.7,230.8 L1418.6,212.3 L1418.6,187 Z" fill="#f6edea"/><path d="M1435.3,3.8 L1445.4,43.8 L1445.4,478 L1435.3,518 L1425.1,478 L1425.1,43.8 Z" fill="#dde8ed"/><path d="M1435.3,96.9 L1443.7,136.9 L1443.7,233 L1435.3,273 L1426.8,233 L1426.8,136.9 Z" fill="#d1e1eb"/><path d="M1449,82.1 L1457.4,122.1 L1457.4,327.9 L1449,367.9 L1440.5,327.9 L1440.5,122.1 Z" fill="#bbd4e7"/><path d="M1449,122.2 L1455.7,162.2 L1455.7,306.8 L1449,346.8 L1442.2,306.8 L1442.2,162.2 Z" fill="#a8c7e7"/><path d="M1460.6,3.8 L1470.7,43.8 L1470.7,478 L1460.6,518 L1450.5,478 L1450.5,43.8 Z" fill="#dde8ed"/><path d="M1478.5,168.6 L1487,208.6 L1487,380.6 L1478.5,420.6 L1470.1,380.6 L1470.1,208.6 Z" fill="#f4e8e4"/><path d="M1493.3,113.7 L1498.4,153.7 L1498.4,433.4 L1493.3,473.4 L1488.2,433.4 L1488.2,153.7 Z" fill="#eabeb4"/><path d="M1498.2,3.8 L1501.1,43.8 L1501.1,478 L1498.2,518 L1495.4,478 L1495.4,43.8 Z" fill="#cedee7"/><path d="M862,18.8 L863.9,35.1 L863.9,74.1 L862,90.4 L860,74.1 L860,35.1 Z" fill="#c8553a"/><path d="M874.8,18.8 L876.8,37.9 L876.8,85.2 L874.8,104.2 L872.8,85.2 L872.8,37.9 Z" fill="#d49080"/><path d="M879.7,18.8 L881.7,48.8 L881.7,473 L879.7,503 L877.8,473 L877.8,48.8 Z" fill="#aec8d4"/><path d="M897.5,18.8 L899.5,42.2 L899.5,102.5 L897.5,126 L895.5,102.5 L895.5,42.2 Z" fill="#e0b8a8"/><path d="M903.4,18.8 L906.7,46.2 L906.7,118.3 L903.4,145.7 L900.1,118.3 L900.1,46.2 Z" fill="#e8cfc5"/><path d="M932,18.8 L937.9,43 L937.9,105.7 L932,129.9 L926.2,105.7 L926.2,43 Z" fill="#8fb8cf"/><path d="M933,90.6 L936.4,97.7 L936.4,109 L933,116.1 L929.7,109 L929.7,97.7 Z" fill="#5f98c0"/><path d="M943.9,18.8 L948,44.2 L948,110.4 L943.9,135.8 L939.7,110.4 L939.7,44.2 Z" fill="#e3c0b2"/><path d="M955.7,18.8 L958.2,48.8 L958.2,473 L955.7,503 L953.2,473 L953.2,48.8 Z" fill="#b8ccd6"/><path d="M968.6,96.5 L973.5,109.1 L973.5,137 L968.6,149.6 L963.6,137 L963.6,109.1 Z" fill="#e2c3b8"/><path d="M1003.1,18.8 L1008.9,45.4 L1008.9,115.2 L1003.1,141.7 L997.3,115.2 L997.3,45.4 Z" fill="#2f7bc2"/><path d="M1002.6,18.8 L1006.3,43 L1006.3,105.7 L1002.6,129.9 L998.9,105.7 L998.9,43 Z" fill="#1f62b0"/><path d="M1014,18.8 L1017.3,43 L1017.3,105.7 L1014,129.9 L1010.7,105.7 L1010.7,43 Z" fill="#7fa9c2"/><path d="M1021.9,18.8 L1023.8,35.5 L1023.8,75.7 L1021.9,92.4 L1019.9,75.7 L1019.9,35.5 Z" fill="#8e1a22"/><path d="M1026.1,18.8 L1027.4,36.3 L1027.4,78.8 L1026.1,96.3 L1024.8,78.8 L1024.8,36.3 Z" fill="#2a70c0"/><path d="M1032.7,18.8 L1036.9,48.8 L1036.9,139.4 L1032.7,169.4 L1028.6,139.4 L1028.6,48.8 Z" fill="#c86a4c"/><path d="M1041.6,18.8 L1044.9,48.8 L1044.9,135.4 L1041.6,165.4 L1038.3,135.4 L1038.3,48.8 Z" fill="#d89a88"/><path d="M1047.5,18.8 L1049.5,48.8 L1049.5,135.4 L1047.5,165.4 L1045.6,135.4 L1045.6,48.8 Z" fill="#5a9cc0"/><path d="M1056.9,18.8 L1058.4,48.8 L1058.4,135.4 L1056.9,165.4 L1055.4,135.4 L1055.4,48.8 Z" fill="#cc6a50"/><path d="M1080.1,18.8 L1082.6,48.8 L1082.6,473 L1080.1,503 L1077.6,473 L1077.6,48.8 Z" fill="#a8bfcc"/><path d="M1093.9,18.8 L1099.7,44.2 L1099.7,110.4 L1093.9,135.8 L1088.1,110.4 L1088.1,44.2 Z" fill="#e3cbc0"/><path d="M1105.8,18.8 L1108.3,48.8 L1108.3,473 L1105.8,503 L1103.3,473 L1103.3,48.8 Z" fill="#b8ccd6"/><path d="M1115.6,18.8 L1118.1,48.8 L1118.1,155.2 L1115.6,185.2 L1113.1,155.2 L1113.1,48.8 Z" fill="#e6cdc4"/><path d="M1128.5,18.8 L1138.4,48.8 L1138.4,473 L1128.5,503 L1118.5,473 L1118.5,48.8 Z" fill="#a8c2d0"/><path d="M1132.4,96.5 L1135.7,116.2 L1135.7,165.4 L1132.4,185.2 L1129.1,165.4 L1129.1,116.2 Z" fill="#6fa2c4"/><path d="M1145.2,96.5 L1147.7,120.2 L1147.7,181.2 L1145.2,204.9 L1142.7,181.2 L1142.7,120.2 Z" fill="#e6cdc4"/><path d="M1154.1,18.8 L1157.4,48.8 L1157.4,174.9 L1154.1,204.9 L1150.8,174.9 L1150.8,48.8 Z" fill="#2565b8"/><path d="M1154.1,116.2 L1156.1,132 L1156.1,169.4 L1154.1,185.2 L1152.1,169.4 L1152.1,132 Z" fill="#1b52a8"/><path d="M1161,185.3 L1163.5,195.2 L1163.5,214.8 L1161,224.7 L1158.5,214.8 L1158.5,195.2 Z" fill="#e0b8a8"/><path d="M1173,18.8 L1178.9,48.8 L1178.9,473 L1173,503 L1167.1,473 L1167.1,48.8 Z" fill="#9fbfd0"/><path d="M1183.2,162.5 L1185.8,183.6 L1185.8,236.9 L1183.2,258 L1180.5,236.9 L1180.5,183.6 Z" fill="#5f9fc0"/><path d="M1226.4,99.2 L1230,129.2 L1230,238.5 L1226.4,268.5 L1222.9,238.5 L1222.9,129.2 Z" fill="#9fbfcd"/><path d="M1238,109.7 L1242.4,139.3 L1242.4,217.9 L1238,247.4 L1233.6,217.9 L1233.6,139.3 Z" fill="#a8c4d0"/><path d="M1273.9,18.8 L1276.5,48.8 L1276.5,473 L1273.9,503 L1271.2,473 L1271.2,48.8 Z" fill="#b8ccd6"/><path d="M1282.3,149.8 L1285,175.6 L1285,242.8 L1282.3,268.5 L1279.7,242.8 L1279.7,175.6 Z" fill="#e5c8be"/><path d="M1376.2,120.3 L1381.5,150.3 L1381.5,270.2 L1376.2,300.2 L1370.9,270.2 L1370.9,150.3 Z" fill="#b0c8d4"/><path d="M1387.8,120.3 L1390.5,150.3 L1390.5,299.7 L1387.8,329.7 L1385.1,299.7 L1385.1,150.3 Z" fill="#e6c9c0"/><path d="M1399.4,215.2 L1403,238.4 L1403,298.1 L1399.4,321.3 L1395.9,298.1 L1395.9,238.4 Z" fill="#ead5cf"/><path d="M1423.7,183.6 L1426.3,192 L1426.3,207.3 L1423.7,215.8 L1421,207.3 L1421,192 Z" fill="#e8d0c8"/><path d="M1435.3,18.8 L1440.6,48.8 L1440.6,473 L1435.3,503 L1430,473 L1430,48.8 Z" fill="#a8c4d2"/><path d="M1435.3,111.9 L1439.7,141.9 L1439.7,228 L1435.3,258 L1430.8,228 L1430.8,141.9 Z" fill="#88b2cc"/><path d="M1449,97.1 L1453.4,127.1 L1453.4,322.9 L1449,352.9 L1444.6,322.9 L1444.6,127.1 Z" fill="#4d8fc0"/><path d="M1449,137.2 L1452.5,167.2 L1452.5,301.8 L1449,331.8 L1445.4,301.8 L1445.4,167.2 Z" fill="#1c6ec0"/><path d="M1460.6,18.8 L1465.9,48.8 L1465.9,473 L1460.6,503 L1455.3,473 L1455.3,48.8 Z" fill="#a8c4d2"/><path d="M1478.5,183.6 L1483,213.6 L1483,375.6 L1478.5,405.6 L1474.1,375.6 L1474.1,213.6 Z" fill="#e3c3b8"/><path d="M1493.3,128.7 L1495.9,158.7 L1495.9,428.4 L1493.3,458.4 L1490.6,428.4 L1490.6,158.7 Z" fill="#c8543a"/><path d="M1498.2,18.8 L1500,48.8 L1500,473 L1498.2,503 L1496.5,473 L1496.5,48.8 Z" fill="#7fa9c2"/></g></g>
<path d="M861.1,117 L862.4,105.2 L863.9,96.3 L865.4,96.8 L867.3,103.2 L869.3,109.1 L870.8,110.1 L873.3,109.1 L875.7,94.3 L877.9,83.5 L879.7,96.3 L881.2,104.2 L883.6,108.6 L889.1,109.1 L892,112.1 L894.5,113 L898,118.5 L899.5,117.5 L903.4,121.9 L906.4,123.4 L912.3,124.4 L915.3,126.8 L919.2,131.7 L923.2,136.2 L928.1,137.7 L934,139.1 L937,141.1 L940.9,146 L944.9,148.5 L948.9,150.5 L952.8,153.4 L954.8,154.4 L957.7,158.3 L960.7,159.3 L963.7,161.3 L965.6,160.8 L969.6,162.3 L974.5,163.3 L977.5,162.8 L983.4,160.8 L987.4,158.3 L990.3,159.8 L993.3,161.8 L996.3,161.3 L1000.2,151.4 L1005.2,138.6 L1009.1,120.9 L1010.1,121.4 L1012.1,122.9 L1014.6,127.8 L1016.5,133.2 L1018.5,131.3 L1020.5,122.9 L1023,113 L1024.4,110.1 L1025.9,126.8 L1027.4,153.4 L1028.4,175.1 L1030.4,178 L1032.4,172.1 L1034.8,173.1 L1037.8,174.1 L1040.8,176.1 L1044.7,171.6 L1048.2,174.1 L1052.6,161.3 L1056.1,175.6 L1059.5,177 L1063,177.5 L1067.4,182 L1072.4,186.4 L1075.3,185.9 L1078.3,182.5 L1080.8,177.5 L1085.2,186.9 L1089.2,190.3 L1095.1,191.8 L1099,188.9 L1102.5,185.4 L1105,189.8 L1107.9,197.7 L1113.9,202.7 L1116.8,203.1 L1119.8,205.6 L1123.8,211.2 L1128.7,211.2 L1132.7,215.1 L1137.6,219.6 L1142.6,220.1 L1146,227 L1151.9,208.3 L1155.4,223 L1158.4,238.8 L1160.3,243.2 L1164.3,245.2 L1169.2,248.6 L1172.2,251.6 L1175.2,252.6 L1179.1,260.4 L1183.6,268.3 L1186,281.1 L1189,287 L1192.9,299.8 L1196.9,312.6 L1199.9,324.5 L1202.8,325.9 L1206.8,328.9 L1215.7,329.4 L1218.6,326.4 L1224.6,317.1 L1228.5,315.1 L1234.4,313.6 L1237.4,314.6 L1240.3,318.5 L1243.3,321.5 L1246.2,324.9 L1252.2,330.3 L1255.1,331.8 L1262,336.2 L1266.5,335.7 L1269,336.7 L1272.4,328.3 L1276.9,335.7 L1280.8,340.6 L1287.7,338.2 L1291.7,343.1 L1296.1,346.5 L1302.6,344.6 L1308.5,345.1 L1313.4,350.5 L1317.4,353.4 L1322.3,354.9 L1327.3,356.4 L1332.2,357.4 L1338.1,361.3 L1344.1,365.8 L1352,370.2 L1362.8,370.7 L1367.8,371.7 L1373.7,368.2 L1377.6,370.2 L1380.4,374.7 L1382.6,378.1 L1383.9,379 L1389,384.2 L1394.2,383.7 L1397.6,384.2 L1403.6,381.6 L1406.2,382.4 L1410.5,379.4 L1413.9,379.9 L1418.2,381.6 L1421.7,387.6 L1425.1,391.4 L1429.4,389.7 L1432,393.6 L1436.2,389.3 L1440.5,379.9 L1444,366.2 L1446.1,354.2 L1451.3,354.2 L1455.1,364.5 L1460.3,380.7 L1465.4,400.4 L1469.7,421.8 L1474,436.4 L1480,449.2 L1485.2,459.5 L1488.2,465.9 L1493.4,480.5 L1498.1,466.3 L1500.7,456.1 L1501.5,451.8" fill="none" stroke="#303030" stroke-width="1.4" stroke-linejoin="round"/>
</g>
<rect x="861.1" y="53.8" width="639.4" height="414.2" fill="none" stroke="#6e6e6e" stroke-width="1.4"/><path d="M982.2,53.8v8M982.2,468v-8M1103.3,53.8v8M1103.3,468v-8M1224.4,53.8v8M1224.4,468v-8M1345.5,53.8v8M1345.5,468v-8M1466.6,53.8v8M1466.6,468v-8M861.1,122.8h8M1500.5,122.8h-8M861.1,191.9h8M1500.5,191.9h-8M861.1,260.9h8M1500.5,260.9h-8M861.1,329.9h8M1500.5,329.9h-8M861.1,399h8M1500.5,399h-8" stroke="#444" stroke-width="1.5" fill="none"/>
<rect x="1509" y="53.5" width="32.1" height="414.1" fill="url(#gBal)" stroke="#6e6e6e" stroke-width="1.4"/><path d="M1541.1,157h-4M1541.1,260.6h-4M1541.1,364.1h-4" stroke="#555" stroke-width="1.2" fill="none"/>
<g clip-path="url(#clipD)">
<clipPath id="wD"><path d="M861.5,524.8 L1503.3,524.8 L1501.9,922.6 L1501.1,926.9 L1498.5,937.1 L1493.8,951.2 L1488.6,936.7 L1485.6,930.3 L1480.4,920 L1474.4,907.2 L1470.1,892.6 L1465.8,871.2 L1460.7,851.6 L1455.5,835.3 L1451.7,825 L1446.5,825 L1444.4,837 L1440.9,850.7 L1436.6,860.1 L1432.4,864.4 L1429.8,860.6 L1425.5,862.3 L1422.1,858.4 L1418.6,852.4 L1414.3,850.7 L1410.9,850.3 L1406.6,853.3 L1404,852.4 L1398,855 L1394.6,854.6 L1389.4,855 L1384.3,849.9 L1383,848.9 L1380.8,845.6 L1378,841 L1374.1,839.1 L1368.2,842.5 L1363.2,841.5 L1352.4,841 L1344.5,836.6 L1338.5,832.2 L1332.6,828.2 L1327.7,827.3 L1322.7,825.8 L1317.8,824.3 L1313.8,821.3 L1308.9,815.9 L1303,815.4 L1296.5,817.4 L1292.1,814 L1288.1,809 L1281.2,811.5 L1277.3,806.6 L1272.8,799.2 L1269.4,807.6 L1266.9,806.6 L1262.4,807.1 L1255.5,802.6 L1252.6,801.2 L1246.6,795.8 L1243.7,792.4 L1240.7,789.4 L1237.8,785.5 L1234.8,784.5 L1228.9,786 L1225,787.9 L1219,797.3 L1216.1,800.3 L1207.2,799.8 L1203.2,796.8 L1200.3,795.3 L1197.3,783.5 L1193.3,770.7 L1189.4,757.9 L1186.4,752 L1184,739.2 L1179.5,731.3 L1175.6,723.5 L1172.6,722.5 L1169.6,719.5 L1164.7,716.1 L1160.7,714.1 L1158.8,709.7 L1155.8,693.9 L1152.3,679.2 L1146.4,697.9 L1143,691 L1138,690.5 L1133.1,686.1 L1129.1,682.1 L1124.2,682.1 L1120.2,676.5 L1117.2,674.1 L1114.3,673.6 L1108.3,668.7 L1105.4,660.8 L1102.9,656.4 L1099.4,659.8 L1095.5,662.8 L1089.6,661.3 L1085.6,657.8 L1081.2,648.5 L1078.7,653.4 L1075.7,656.8 L1072.8,657.3 L1067.8,652.9 L1063.4,648.5 L1059.9,648 L1056.5,646.5 L1053,632.2 L1048.6,645 L1045.1,642.6 L1041.2,647 L1038.2,645 L1035.2,644.1 L1032.8,643.1 L1030.8,649 L1028.8,646 L1027.8,624.4 L1026.3,597.8 L1024.8,581.1 L1023.4,584 L1020.9,593.9 L1018.9,602.2 L1016.9,604.2 L1015,598.8 L1012.5,593.9 L1010.5,592.4 L1009.5,591.9 L1005.6,609.6 L1000.6,622.4 L996.7,632.2 L993.7,632.7 L990.7,630.8 L987.8,629.3 L983.8,631.7 L977.9,633.7 L974.9,634.2 L970,633.2 L966,631.7 L964.1,632.2 L961.1,630.3 L958.1,629.3 L955.2,625.3 L953.2,624.4 L949.3,621.4 L945.3,619.4 L941.3,617 L937.4,612.1 L934.4,610.1 L928.5,608.6 L923.6,607.1 L919.6,602.7 L915.7,597.8 L912.7,595.3 L906.8,594.3 L903.8,592.9 L899.9,588.4 L898.4,589.4 L894.9,584 L892.4,583 L889.5,580.1 L884,579.6 L881.6,575.1 L880.1,567.3 L878.3,554.5 L876.1,565.3 L873.7,580.1 L871.2,581.1 L869.7,580.1 L867.7,574.2 L865.8,567.8 L864.3,567.3 L862.8,576.1 L861.5,587.9 Z"/></clipPath>
<path d="M861.5,524.8 L1503.3,524.8 L1501.9,922.6 L1501.1,926.9 L1498.5,937.1 L1493.8,951.2 L1488.6,936.7 L1485.6,930.3 L1480.4,920 L1474.4,907.2 L1470.1,892.6 L1465.8,871.2 L1460.7,851.6 L1455.5,835.3 L1451.7,825 L1446.5,825 L1444.4,837 L1440.9,850.7 L1436.6,860.1 L1432.4,864.4 L1429.8,860.6 L1425.5,862.3 L1422.1,858.4 L1418.6,852.4 L1414.3,850.7 L1410.9,850.3 L1406.6,853.3 L1404,852.4 L1398,855 L1394.6,854.6 L1389.4,855 L1384.3,849.9 L1383,848.9 L1380.8,845.6 L1378,841 L1374.1,839.1 L1368.2,842.5 L1363.2,841.5 L1352.4,841 L1344.5,836.6 L1338.5,832.2 L1332.6,828.2 L1327.7,827.3 L1322.7,825.8 L1317.8,824.3 L1313.8,821.3 L1308.9,815.9 L1303,815.4 L1296.5,817.4 L1292.1,814 L1288.1,809 L1281.2,811.5 L1277.3,806.6 L1272.8,799.2 L1269.4,807.6 L1266.9,806.6 L1262.4,807.1 L1255.5,802.6 L1252.6,801.2 L1246.6,795.8 L1243.7,792.4 L1240.7,789.4 L1237.8,785.5 L1234.8,784.5 L1228.9,786 L1225,787.9 L1219,797.3 L1216.1,800.3 L1207.2,799.8 L1203.2,796.8 L1200.3,795.3 L1197.3,783.5 L1193.3,770.7 L1189.4,757.9 L1186.4,752 L1184,739.2 L1179.5,731.3 L1175.6,723.5 L1172.6,722.5 L1169.6,719.5 L1164.7,716.1 L1160.7,714.1 L1158.8,709.7 L1155.8,693.9 L1152.3,679.2 L1146.4,697.9 L1143,691 L1138,690.5 L1133.1,686.1 L1129.1,682.1 L1124.2,682.1 L1120.2,676.5 L1117.2,674.1 L1114.3,673.6 L1108.3,668.7 L1105.4,660.8 L1102.9,656.4 L1099.4,659.8 L1095.5,662.8 L1089.6,661.3 L1085.6,657.8 L1081.2,648.5 L1078.7,653.4 L1075.7,656.8 L1072.8,657.3 L1067.8,652.9 L1063.4,648.5 L1059.9,648 L1056.5,646.5 L1053,632.2 L1048.6,645 L1045.1,642.6 L1041.2,647 L1038.2,645 L1035.2,644.1 L1032.8,643.1 L1030.8,649 L1028.8,646 L1027.8,624.4 L1026.3,597.8 L1024.8,581.1 L1023.4,584 L1020.9,593.9 L1018.9,602.2 L1016.9,604.2 L1015,598.8 L1012.5,593.9 L1010.5,592.4 L1009.5,591.9 L1005.6,609.6 L1000.6,622.4 L996.7,632.2 L993.7,632.7 L990.7,630.8 L987.8,629.3 L983.8,631.7 L977.9,633.7 L974.9,634.2 L970,633.2 L966,631.7 L964.1,632.2 L961.1,630.3 L958.1,629.3 L955.2,625.3 L953.2,624.4 L949.3,621.4 L945.3,619.4 L941.3,617 L937.4,612.1 L934.4,610.1 L928.5,608.6 L923.6,607.1 L919.6,602.7 L915.7,597.8 L912.7,595.3 L906.8,594.3 L903.8,592.9 L899.9,588.4 L898.4,589.4 L894.9,584 L892.4,583 L889.5,580.1 L884,579.6 L881.6,575.1 L880.1,567.3 L878.3,554.5 L876.1,565.3 L873.7,580.1 L871.2,581.1 L869.7,580.1 L867.7,574.2 L865.8,567.8 L864.3,567.3 L862.8,576.1 L861.5,587.9 Z" fill="#efebea"/>
<g clip-path="url(#wD)"><g filter="url(#blurR)"><path d="M870.7,715.9 L873.2,760.9 L873.2,893.5 L870.7,938.5 L868.2,893.5 L868.2,760.9 Z" fill="#d6dce0"/><path d="M934.5,494.8 L936.4,539.8 L936.4,923.8 L934.5,968.8 L932.7,923.8 L932.7,539.8 Z" fill="#cdd8de"/><path d="M982,494.8 L984.3,539.8 L984.3,601 L982,646 L979.8,601 L979.8,539.8 Z" fill="#d6dce0"/><path d="M993.7,494.8 L996.2,515 L996.2,542 L993.7,562.3 L991.2,542 L991.2,515 Z" fill="#e9e1df"/><path d="M1005.6,494.8 L1008,539.8 L1008,739.6 L1005.6,784.6 L1003.2,739.6 L1003.2,539.8 Z" fill="#d6dce0"/><path d="M1111.8,547.4 L1113.7,570 L1113.7,600.2 L1111.8,622.8 L1109.8,600.2 L1109.8,570 Z" fill="#cdd8de"/><path d="M1134.1,753.4 L1135.9,798.4 L1135.9,923.8 L1134.1,968.8 L1132.3,923.8 L1132.3,798.4 Z" fill="#d6dce0"/><path d="M1175.3,560.2 L1177.3,605.2 L1177.3,923.8 L1175.3,968.8 L1173.3,923.8 L1173.3,605.2 Z" fill="#cdd8de"/><path d="M1206.7,614.3 L1208.5,659.3 L1208.5,839.5 L1206.7,884.5 L1204.8,839.5 L1204.8,659.3 Z" fill="#e9e1df"/><path d="M1211.3,494.8 L1212.6,531 L1212.6,579.2 L1211.3,615.3 L1209.9,579.2 L1209.9,531 Z" fill="#cdd8de"/><path d="M1224.1,494.8 L1225.7,539.8 L1225.7,644.1 L1224.1,689.1 L1222.5,644.1 L1222.5,539.8 Z" fill="#dfe3e6"/><path d="M1254.6,494.8 L1256.9,539.8 L1256.9,923.8 L1254.6,968.8 L1252.2,923.8 L1252.2,539.8 Z" fill="#dfe3e6"/><path d="M1263.4,633.8 L1265.1,678.8 L1265.1,844.2 L1263.4,889.2 L1261.7,844.2 L1261.7,678.8 Z" fill="#d6dce0"/><path d="M1272.7,494.8 L1273.7,539.8 L1273.7,923.8 L1272.7,968.8 L1271.6,923.8 L1271.6,539.8 Z" fill="#e9e1df"/><path d="M1287.3,494.8 L1289,539.8 L1289,923.8 L1287.3,968.8 L1285.7,923.8 L1285.7,539.8 Z" fill="#e9e1df"/><path d="M1294.9,494.8 L1295.7,539.8 L1295.7,923.8 L1294.9,968.8 L1294,923.8 L1294,539.8 Z" fill="#d6dce0"/><path d="M1307.6,494.8 L1309.7,539.8 L1309.7,923.8 L1307.6,968.8 L1305.6,923.8 L1305.6,539.8 Z" fill="#e9e1df"/><path d="M1315.3,494.8 L1317.4,539.8 L1317.4,923.8 L1315.3,968.8 L1313.2,923.8 L1313.2,539.8 Z" fill="#d6dce0"/><path d="M1326.1,553.7 L1328.4,598.7 L1328.4,923.8 L1326.1,968.8 L1323.7,923.8 L1323.7,598.7 Z" fill="#d6dce0"/><path d="M1369.9,494.8 L1372.1,539.8 L1372.1,923.8 L1369.9,968.8 L1367.8,923.8 L1367.8,539.8 Z" fill="#dfe3e6"/><path d="M1381.8,582.2 L1383.1,627.2 L1383.1,923.8 L1381.8,968.8 L1380.4,923.8 L1380.4,627.2 Z" fill="#e9e1df"/><path d="M1436.5,494.8 L1438.6,539.8 L1438.6,923.8 L1436.5,968.8 L1434.3,923.8 L1434.3,539.8 Z" fill="#e9e1df"/><path d="M1451,494.8 L1452.3,539.8 L1452.3,923.8 L1451,968.8 L1449.6,923.8 L1449.6,539.8 Z" fill="#e9e1df"/><path d="M1455.4,595.3 L1456.7,640.3 L1456.7,923.8 L1455.4,968.8 L1454.1,923.8 L1454.1,640.3 Z" fill="#e9e1df"/><path d="M1459.8,494.8 L1460.9,539.8 L1460.9,711.3 L1459.8,756.3 L1458.8,711.3 L1458.8,539.8 Z" fill="#cdd8de"/><path d="M1466.4,494.8 L1467.5,539.8 L1467.5,705.2 L1466.4,750.2 L1465.3,705.2 L1465.3,539.8 Z" fill="#dfe3e6"/><rect x="860" y="514.8" width="140" height="434" fill="#e2e8ec"/><path d="M1468,484.8 L1473.2,514.8 L1473.2,948.8 L1468,978.8 L1462.7,948.8 L1462.7,514.8 Z" fill="#d2d9de"/><path d="M1434.2,484.8 L1441.6,514.8 L1441.6,948.8 L1434.2,978.8 L1426.8,948.8 L1426.8,514.8 Z" fill="#d2d9de"/><path d="M1412.1,484.8 L1424.7,507 L1424.7,573.6 L1412.1,595.8 L1399.4,573.6 L1399.4,507 Z" fill="#d2d9de"/><path d="M1385.7,484.8 L1399.4,514.8 L1399.4,948.8 L1385.7,978.8 L1372,948.8 L1372,514.8 Z" fill="#d2d9de"/><path d="M1337.2,733 L1346.7,750.7 L1346.7,803.9 L1337.2,821.6 L1327.7,803.9 L1327.7,750.7 Z" fill="#d2d9de"/><path d="M1319.2,484.8 L1323.5,499.8 L1323.5,544.9 L1319.2,560 L1315,544.9 L1315,499.8 Z" fill="#d2d9de"/><path d="M1307.6,484.8 L1315,514.8 L1315,948.8 L1307.6,978.8 L1300.3,948.8 L1300.3,514.8 Z" fill="#d2d9de"/><path d="M1293.9,484.8 L1298.1,514.8 L1298.1,948.8 L1293.9,978.8 L1289.7,948.8 L1289.7,514.8 Z" fill="#d2d9de"/><path d="M1247.5,484.8 L1277,514.8 L1277,948.8 L1247.5,978.8 L1218,948.8 L1218,514.8 Z" fill="#d2d9de"/><path d="M1192.7,484.8 L1196.9,514.8 L1196.9,724.1 L1192.7,754.1 L1188.4,724.1 L1188.4,514.8 Z" fill="#d2d9de"/><path d="M1120.6,484.8 L1124.5,514.8 L1124.5,948.8 L1120.6,978.8 L1116.6,948.8 L1116.6,514.8 Z" fill="#d2d9de"/><path d="M1098.8,484.8 L1102.8,514.8 L1102.8,948.8 L1098.8,978.8 L1094.9,948.8 L1094.9,514.8 Z" fill="#d2d9de"/><path d="M993.2,484.8 L998.2,514.8 L998.2,948.8 L993.2,978.8 L988.3,948.8 L988.3,514.8 Z" fill="#d2d9de"/><path d="M922.2,484.8 L925.1,514.8 L925.1,948.8 L922.2,978.8 L919.2,948.8 L919.2,514.8 Z" fill="#d2d9de"/><path d="M884.7,484.8 L889.6,514.8 L889.6,948.8 L884.7,978.8 L879.7,948.8 L879.7,514.8 Z" fill="#d2d9de"/><path d="M862,474.8 L865.1,501.3 L865.1,550.9 L862,577.4 L858.8,550.9 L858.8,501.3 Z" fill="#eabeb4"/><path d="M867.4,474.8 L871.4,503.7 L871.4,560.4 L867.4,589.2 L863.5,560.4 L863.5,503.7 Z" fill="#a8bcdd"/><path d="M877.8,474.8 L880.9,500.1 L880.9,546.1 L877.8,571.5 L874.6,546.1 L874.6,500.1 Z" fill="#aecbe8"/><path d="M894.1,474.8 L898,504.1 L898,561.9 L894.1,591.2 L890.1,561.9 L890.1,504.1 Z" fill="#c8dce9"/><path d="M903.4,474.8 L909.7,514.8 L909.7,948.8 L903.4,988.8 L897.1,948.8 L897.1,514.8 Z" fill="#e4ebef"/><path d="M914.3,474.8 L919,506.1 L919,569.8 L914.3,601.1 L909.5,569.8 L909.5,506.1 Z" fill="#c1d8e7"/><path d="M935,474.8 L947.6,508.8 L947.6,580.9 L935,614.9 L922.4,580.9 L922.4,508.8 Z" fill="#c6dae9"/><path d="M938,474.8 L942.7,508 L942.7,577.7 L938,611 L933.2,577.7 L933.2,508 Z" fill="#b5d1e7"/><path d="M955.7,474.8 L960.5,514.8 L960.5,948.8 L955.7,988.8 L951,948.8 L951,514.8 Z" fill="#dae5ec"/><path d="M971.5,551.5 L976.3,573.3 L976.3,608.9 L971.5,630.7 L966.8,608.9 L966.8,573.3 Z" fill="#f5ece8"/><path d="M981.4,474.8 L989.3,512.8 L989.3,596.7 L981.4,634.6 L973.5,596.7 L973.5,512.8 Z" fill="#dde7ed"/><path d="M1003.1,474.8 L1007.8,509.2 L1007.8,582.5 L1003.1,616.9 L998.4,582.5 L998.4,509.2 Z" fill="#a8c2e0"/><path d="M1015,474.8 L1019.7,508 L1019.7,577.7 L1015,611 L1010.2,577.7 L1010.2,508 Z" fill="#a8bcda"/><path d="M1022.4,474.8 L1026.3,505.3 L1026.3,566.7 L1022.4,597.1 L1018.4,566.7 L1018.4,505.3 Z" fill="#c0a3a8"/><path d="M1027.3,474.8 L1029.7,505.3 L1029.7,566.7 L1027.3,597.1 L1024.9,566.7 L1024.9,505.3 Z" fill="#aec8e7"/><path d="M1040.6,474.8 L1048.5,514.8 L1048.5,610.4 L1040.6,650.4 L1032.7,610.4 L1032.7,514.8 Z" fill="#ecccc1"/><path d="M1050,474.8 L1053.9,512 L1053.9,593.5 L1050,630.7 L1046,593.5 L1046,512 Z" fill="#e7bcb4"/><path d="M1053.9,474.8 L1056.3,514.3 L1056.3,603 L1053.9,642.5 L1051.6,603 L1051.6,514.3 Z" fill="#a8bcdd"/><path d="M1070.2,551.5 L1078.1,571.3 L1078.1,601 L1070.2,620.8 L1062.3,601 L1062.3,571.3 Z" fill="#f6ece8"/><path d="M1081.1,571.2 L1087.4,593.9 L1087.4,631.8 L1081.1,654.4 L1074.8,631.8 L1074.8,593.9 Z" fill="#b2d0e7"/><path d="M1090,474.8 L1094.7,514.8 L1094.7,610.4 L1090,650.4 L1085.2,610.4 L1085.2,514.8 Z" fill="#f5ece8"/><path d="M1106.7,571.2 L1109.9,595 L1109.9,636.5 L1106.7,660.3 L1103.6,636.5 L1103.6,595 Z" fill="#aecce7"/><path d="M1113.7,474.8 L1118.4,514 L1118.4,601.4 L1113.7,640.6 L1108.9,601.4 L1108.9,514 Z" fill="#f5e7e2"/><path d="M1133.4,474.8 L1138.1,514.8 L1138.1,948.8 L1133.4,988.8 L1128.7,948.8 L1128.7,514.8 Z" fill="#dae6ed"/><path d="M1143.3,551.5 L1148,581.2 L1148,640.4 L1143.3,670.2 L1138.5,640.4 L1138.5,581.2 Z" fill="#f5ece8"/><path d="M1154.1,474.8 L1160.4,514.8 L1160.4,649.9 L1154.1,689.9 L1147.8,649.9 L1147.8,514.8 Z" fill="#a8b6d7"/><path d="M1154.1,587 L1157.9,602.5 L1157.9,619.1 L1154.1,634.6 L1150.3,619.1 L1150.3,602.5 Z" fill="#a5aec8"/><path d="M1171.9,474.8 L1178.2,514.8 L1178.2,948.8 L1171.9,988.8 L1165.6,948.8 L1165.6,514.8 Z" fill="#dde8ed"/><path d="M1184.2,649.1 L1191,673.9 L1191,718.2 L1184.2,743 L1177.5,718.2 L1177.5,673.9 Z" fill="#bbd5e7"/><path d="M1200,649.1 L1205.1,671.8 L1205.1,709.8 L1200,732.4 L1195,709.8 L1195,671.8 Z" fill="#f7edea"/><path d="M1228.5,474.8 L1231.9,514.8 L1231.9,948.8 L1228.5,988.8 L1225.1,948.8 L1225.1,514.8 Z" fill="#e4ebef"/><path d="M1237,474.8 L1240.3,514.8 L1240.3,948.8 L1237,988.8 L1233.6,948.8 L1233.6,514.8 Z" fill="#e4ebef"/><path d="M1283.4,585.8 L1290.1,623.3 L1290.1,705.5 L1283.4,743 L1276.6,705.5 L1276.6,623.3 Z" fill="#f6edea"/><path d="M1386.8,638.6 L1390.1,669.7 L1390.1,733 L1386.8,764.1 L1383.4,733 L1383.4,669.7 Z" fill="#f6edea"/><path d="M1447.9,596.4 L1454.7,636.4 L1454.7,797.9 L1447.9,837.9 L1441.2,797.9 L1441.2,636.4 Z" fill="#bcd5e7"/><path d="M1457.4,564.7 L1462.5,604.7 L1462.5,724.1 L1457.4,764.1 L1452.4,724.1 L1452.4,604.7 Z" fill="#f6edea"/><path d="M1487,585.8 L1492,625.8 L1492,808.5 L1487,848.5 L1481.9,808.5 L1481.9,625.8 Z" fill="#f5eae5"/><path d="M1493.5,585.8 L1497.2,625.8 L1497.2,905.5 L1493.5,945.5 L1489.8,905.5 L1489.8,625.8 Z" fill="#eab9b4"/><path d="M1498.2,828.5 L1501.1,857.4 L1501.1,914.4 L1498.2,943.4 L1495.4,914.4 L1495.4,857.4 Z" fill="#c0d9e8"/><path d="M862,489.8 L863.9,506.3 L863.9,545.9 L862,562.4 L860,545.9 L860,506.3 Z" fill="#c8553a"/><path d="M867.4,489.8 L869.9,508.7 L869.9,555.4 L867.4,574.2 L864.9,555.4 L864.9,508.7 Z" fill="#1c4fa8"/><path d="M877.8,489.8 L879.7,505.1 L879.7,541.1 L877.8,556.5 L875.8,541.1 L875.8,505.1 Z" fill="#2a78c4"/><path d="M894.1,489.8 L896.5,509.1 L896.5,556.9 L894.1,576.2 L891.6,556.9 L891.6,509.1 Z" fill="#6fa3c6"/><path d="M903.4,489.8 L906.7,519.8 L906.7,943.8 L903.4,973.8 L900.1,943.8 L900.1,519.8 Z" fill="#b8cbd5"/><path d="M914.3,489.8 L916.8,511.1 L916.8,564.8 L914.3,586.1 L911.8,564.8 L911.8,511.1 Z" fill="#5d9ac2"/><path d="M935,489.8 L941.6,513.8 L941.6,575.9 L935,599.9 L928.4,575.9 L928.4,513.8 Z" fill="#6aa0c6"/><path d="M938,489.8 L940.5,513 L940.5,572.7 L938,596 L935.5,572.7 L935.5,513 Z" fill="#3d86c2"/><path d="M955.7,489.8 L958.2,519.8 L958.2,943.8 L955.7,973.8 L953.2,943.8 L953.2,519.8 Z" fill="#9fbdcf"/><path d="M971.5,566.5 L974,578.3 L974,603.9 L971.5,615.7 L969,603.9 L969,578.3 Z" fill="#e6cdc4"/><path d="M981.4,489.8 L985.5,517.8 L985.5,591.7 L981.4,619.6 L977.3,591.7 L977.3,517.8 Z" fill="#a8c2d0"/><path d="M1003.1,489.8 L1005.6,514.2 L1005.6,577.5 L1003.1,601.9 L1000.6,577.5 L1000.6,514.2 Z" fill="#1c5fb0"/><path d="M1015,489.8 L1017.5,513 L1017.5,572.7 L1015,596 L1012.5,572.7 L1012.5,513 Z" fill="#1c4fa0"/><path d="M1022.4,489.8 L1024.8,510.3 L1024.8,561.7 L1022.4,582.1 L1019.9,561.7 L1019.9,510.3 Z" fill="#5a0f1c"/><path d="M1027.3,489.8 L1028.8,510.3 L1028.8,561.7 L1027.3,582.1 L1025.8,561.7 L1025.8,510.3 Z" fill="#2a70c0"/><path d="M1040.6,489.8 L1044.8,519.8 L1044.8,605.4 L1040.6,635.4 L1036.5,605.4 L1036.5,519.8 Z" fill="#cf7a5e"/><path d="M1050,489.8 L1052.5,517 L1052.5,588.5 L1050,615.7 L1047.5,588.5 L1047.5,517 Z" fill="#c0503a"/><path d="M1053.9,489.8 L1055.4,519.3 L1055.4,598 L1053.9,627.5 L1052.5,598 L1052.5,519.3 Z" fill="#1c50a8"/><path d="M1070.2,566.5 L1074.4,576.3 L1074.4,596 L1070.2,605.8 L1066.1,596 L1066.1,576.3 Z" fill="#e8cdc4"/><path d="M1081.1,586.2 L1084.4,598.9 L1084.4,626.8 L1081.1,639.4 L1077.8,626.8 L1077.8,598.9 Z" fill="#3584c2"/><path d="M1090,489.8 L1092.5,519.8 L1092.5,605.4 L1090,635.4 L1087.5,605.4 L1087.5,519.8 Z" fill="#e6cdc4"/><path d="M1106.7,586.2 L1108.7,600 L1108.7,631.5 L1106.7,645.3 L1104.8,631.5 L1104.8,600 Z" fill="#2a7ac2"/><path d="M1113.7,489.8 L1116.2,519 L1116.2,596.4 L1113.7,625.6 L1111.2,596.4 L1111.2,519 Z" fill="#e5c0b5"/><path d="M1133.4,489.8 L1135.9,519.8 L1135.9,943.8 L1133.4,973.8 L1130.9,943.8 L1130.9,519.8 Z" fill="#9fbfd0"/><path d="M1143.3,566.5 L1145.8,586.2 L1145.8,635.4 L1143.3,655.2 L1140.8,635.4 L1140.8,586.2 Z" fill="#e6cdc4"/><path d="M1154.1,489.8 L1157.4,519.8 L1157.4,644.9 L1154.1,674.9 L1150.8,644.9 L1150.8,519.8 Z" fill="#1c3f98"/><path d="M1154.1,602 L1156.5,607.5 L1156.5,614.1 L1154.1,619.6 L1151.7,614.1 L1151.7,607.5 Z" fill="#142a70"/><path d="M1171.9,489.8 L1175.2,519.8 L1175.2,943.8 L1171.9,973.8 L1168.6,943.8 L1168.6,519.8 Z" fill="#a8c4d2"/><path d="M1184.2,664.1 L1187.8,678.9 L1187.8,713.2 L1184.2,728 L1180.7,713.2 L1180.7,678.9 Z" fill="#4e92c0"/><path d="M1200,664.1 L1202.7,676.8 L1202.7,704.8 L1200,717.4 L1197.4,704.8 L1197.4,676.8 Z" fill="#ead2ca"/><path d="M1228.5,489.8 L1230.6,519.8 L1230.6,943.8 L1228.5,973.8 L1226.4,943.8 L1226.4,519.8 Z" fill="#b8ccd6"/><path d="M1237,489.8 L1239.1,519.8 L1239.1,943.8 L1237,973.8 L1234.9,943.8 L1234.9,519.8 Z" fill="#b8ccd6"/><path d="M1283.4,600.8 L1286.9,628.3 L1286.9,700.5 L1283.4,728 L1279.8,700.5 L1279.8,628.3 Z" fill="#e8d2ca"/><path d="M1386.8,653.6 L1388.9,674.7 L1388.9,728 L1386.8,749.1 L1384.6,728 L1384.6,674.7 Z" fill="#e8d0c8"/><path d="M1447.9,611.4 L1451.5,641.4 L1451.5,792.9 L1447.9,822.9 L1444.4,792.9 L1444.4,641.4 Z" fill="#4f93c0"/><path d="M1457.4,579.7 L1460.1,609.7 L1460.1,719.1 L1457.4,749.1 L1454.8,719.1 L1454.8,609.7 Z" fill="#e8d0c8"/><path d="M1487,600.8 L1489.6,630.8 L1489.6,803.5 L1487,833.5 L1484.3,803.5 L1484.3,630.8 Z" fill="#e6c8bd"/><path d="M1493.5,600.8 L1495.8,630.8 L1495.8,900.5 L1493.5,930.5 L1491.2,900.5 L1491.2,630.8 Z" fill="#c8483a"/><path d="M1498.2,843.5 L1500,862.4 L1500,909.4 L1498.2,928.4 L1496.5,909.4 L1496.5,862.4 Z" fill="#5a9cc4"/></g></g>
<path d="M861.5,587.9 L862.8,576.1 L864.3,567.3 L865.8,567.8 L867.7,574.2 L869.7,580.1 L871.2,581.1 L873.7,580.1 L876.1,565.3 L878.3,554.5 L880.1,567.3 L881.6,575.1 L884,579.6 L889.5,580.1 L892.4,583 L894.9,584 L898.4,589.4 L899.9,588.4 L903.8,592.9 L906.8,594.3 L912.7,595.3 L915.7,597.8 L919.6,602.7 L923.6,607.1 L928.5,608.6 L934.4,610.1 L937.4,612.1 L941.3,617 L945.3,619.4 L949.3,621.4 L953.2,624.4 L955.2,625.3 L958.1,629.3 L961.1,630.3 L964.1,632.2 L966,631.7 L970,633.2 L974.9,634.2 L977.9,633.7 L983.8,631.7 L987.8,629.3 L990.7,630.8 L993.7,632.7 L996.7,632.2 L1000.6,622.4 L1005.6,609.6 L1009.5,591.9 L1010.5,592.4 L1012.5,593.9 L1015,598.8 L1016.9,604.2 L1018.9,602.2 L1020.9,593.9 L1023.4,584 L1024.8,581.1 L1026.3,597.8 L1027.8,624.4 L1028.8,646 L1030.8,649 L1032.8,643.1 L1035.2,644.1 L1038.2,645 L1041.2,647 L1045.1,642.6 L1048.6,645 L1053,632.2 L1056.5,646.5 L1059.9,648 L1063.4,648.5 L1067.8,652.9 L1072.8,657.3 L1075.7,656.8 L1078.7,653.4 L1081.2,648.5 L1085.6,657.8 L1089.6,661.3 L1095.5,662.8 L1099.4,659.8 L1102.9,656.4 L1105.4,660.8 L1108.3,668.7 L1114.3,673.6 L1117.2,674.1 L1120.2,676.5 L1124.2,682.1 L1129.1,682.1 L1133.1,686.1 L1138,690.5 L1143,691 L1146.4,697.9 L1152.3,679.2 L1155.8,693.9 L1158.8,709.7 L1160.7,714.1 L1164.7,716.1 L1169.6,719.5 L1172.6,722.5 L1175.6,723.5 L1179.5,731.3 L1184,739.2 L1186.4,752 L1189.4,757.9 L1193.3,770.7 L1197.3,783.5 L1200.3,795.3 L1203.2,796.8 L1207.2,799.8 L1216.1,800.3 L1219,797.3 L1225,787.9 L1228.9,786 L1234.8,784.5 L1237.8,785.5 L1240.7,789.4 L1243.7,792.4 L1246.6,795.8 L1252.6,801.2 L1255.5,802.6 L1262.4,807.1 L1266.9,806.6 L1269.4,807.6 L1272.8,799.2 L1277.3,806.6 L1281.2,811.5 L1288.1,809 L1292.1,814 L1296.5,817.4 L1303,815.4 L1308.9,815.9 L1313.8,821.3 L1317.8,824.3 L1322.7,825.8 L1327.7,827.3 L1332.6,828.2 L1338.5,832.2 L1344.5,836.6 L1352.4,841 L1363.2,841.5 L1368.2,842.5 L1374.1,839.1 L1378,841 L1380.8,845.6 L1383,848.9 L1384.3,849.9 L1389.4,855 L1394.6,854.6 L1398,855 L1404,852.4 L1406.6,853.3 L1410.9,850.3 L1414.3,850.7 L1418.6,852.4 L1422.1,858.4 L1425.5,862.3 L1429.8,860.6 L1432.4,864.4 L1436.6,860.1 L1440.9,850.7 L1444.4,837 L1446.5,825 L1451.7,825 L1455.5,835.3 L1460.7,851.6 L1465.8,871.2 L1470.1,892.6 L1474.4,907.2 L1480.4,920 L1485.6,930.3 L1488.6,936.7 L1493.8,951.2 L1498.5,937.1 L1501.1,926.9 L1501.9,922.6" fill="none" stroke="#303030" stroke-width="1.4" stroke-linejoin="round"/>
</g>
<rect x="861.5" y="524.8" width="639.3" height="414" fill="none" stroke="#6e6e6e" stroke-width="1.4"/><path d="M982.6,524.8v8M982.6,938.8v-8M1103.7,524.8v8M1103.7,938.8v-8M1224.8,524.8v8M1224.8,938.8v-8M1345.9,524.8v8M1345.9,938.8v-8M1467,524.8v8M1467,938.8v-8M861.5,593.8h8M1500.8,593.8h-8M861.5,662.8h8M1500.8,662.8h-8M861.5,731.8h8M1500.8,731.8h-8M861.5,800.8h8M1500.8,800.8h-8M861.5,869.8h8M1500.8,869.8h-8" stroke="#444" stroke-width="1.5" fill="none"/>
<rect x="1509.9" y="524.5" width="31.8" height="414.4" fill="url(#gBal)" stroke="#6e6e6e" stroke-width="1.4"/><path d="M1541.7,628.1h-4M1541.7,731.7h-4M1541.7,835.3h-4" stroke="#555" stroke-width="1.2" fill="none"/>
<g clip-path="url(#clipG)">
<clipPath id="wG"><path d="M861.6,993.2 L1503.4,993.2 L1502,1391.8 L1501.2,1396.1 L1498.6,1406.4 L1493.9,1420.6 L1488.7,1406 L1485.7,1399.6 L1480.5,1389.3 L1474.5,1376.4 L1470.2,1361.8 L1465.9,1340.4 L1460.8,1320.7 L1455.6,1304.4 L1451.8,1294.1 L1446.6,1294.1 L1444.5,1306.1 L1441,1319.8 L1436.7,1329.3 L1432.5,1333.5 L1429.9,1329.7 L1425.6,1331.4 L1422.2,1327.5 L1418.7,1321.5 L1414.4,1319.8 L1411,1319.4 L1406.7,1322.4 L1404.1,1321.5 L1398.1,1324.1 L1394.7,1323.7 L1389.5,1324.1 L1384.4,1319 L1383.1,1318 L1380.9,1314.7 L1378.1,1310.1 L1374.2,1308.1 L1368.3,1311.6 L1363.3,1310.6 L1352.5,1310.1 L1344.6,1305.7 L1338.6,1301.2 L1332.7,1297.3 L1327.8,1296.3 L1322.8,1294.8 L1317.9,1293.3 L1313.9,1290.4 L1309,1285 L1303.1,1284.5 L1296.6,1286.4 L1292.2,1283 L1288.2,1278.1 L1281.3,1280.5 L1277.4,1275.6 L1272.9,1268.2 L1269.5,1276.6 L1267,1275.6 L1262.5,1276.1 L1255.6,1271.6 L1252.7,1270.2 L1246.7,1264.7 L1243.8,1261.4 L1240.8,1258.3 L1237.9,1254.5 L1234.9,1253.5 L1229,1254.9 L1225.1,1256.9 L1219.1,1266.3 L1216.2,1269.2 L1207.3,1268.8 L1203.3,1265.8 L1200.4,1264.3 L1197.4,1252.5 L1193.4,1239.7 L1189.5,1226.8 L1186.5,1220.9 L1184.1,1208.1 L1179.6,1200.2 L1175.7,1192.3 L1172.7,1191.3 L1169.7,1188.4 L1164.8,1184.9 L1160.8,1182.9 L1158.9,1178.5 L1155.9,1162.7 L1152.4,1147.9 L1146.5,1166.7 L1143.1,1159.8 L1138.1,1159.3 L1133.2,1154.8 L1129.2,1150.9 L1124.3,1150.9 L1120.3,1145.3 L1117.3,1142.8 L1114.4,1142.3 L1108.4,1137.4 L1105.5,1129.5 L1103,1125 L1099.5,1128.5 L1095.6,1131.5 L1089.7,1130 L1085.7,1126.5 L1081.3,1117.1 L1078.8,1122.1 L1075.8,1125.5 L1072.9,1126 L1067.9,1121.6 L1063.5,1117.1 L1060,1116.7 L1056.6,1115.2 L1053.1,1100.9 L1048.7,1113.7 L1045.2,1111.2 L1041.3,1115.7 L1038.3,1113.7 L1035.3,1112.7 L1032.9,1111.7 L1030.9,1117.6 L1028.9,1114.7 L1027.9,1093 L1026.4,1066.3 L1024.9,1049.6 L1023.5,1052.5 L1021,1062.4 L1019,1070.8 L1017,1072.8 L1015.1,1067.3 L1012.6,1062.4 L1010.6,1060.9 L1009.6,1060.4 L1005.7,1078.2 L1000.7,1091 L996.8,1100.9 L993.8,1101.4 L990.8,1099.4 L987.9,1097.9 L983.9,1100.4 L978,1102.4 L975,1102.8 L970.1,1101.9 L966.1,1100.4 L964.2,1100.9 L961.2,1098.9 L958.2,1097.9 L955.3,1094 L953.3,1093 L949.4,1090 L945.4,1088 L941.4,1085.6 L937.5,1080.6 L934.5,1078.7 L928.6,1077.2 L923.7,1075.7 L919.7,1071.3 L915.8,1066.3 L912.8,1063.9 L906.9,1062.9 L903.9,1061.4 L900,1057 L898.5,1058 L895,1052.5 L892.5,1051.5 L889.6,1048.6 L884.1,1048.1 L881.7,1043.7 L880.2,1035.8 L878.4,1022.9 L876.2,1033.8 L873.8,1048.6 L871.3,1049.6 L869.8,1048.6 L867.8,1042.7 L865.9,1036.3 L864.4,1035.8 L862.9,1044.6 L861.6,1056.5 Z"/></clipPath>
<path d="M861.6,993.2 L1503.4,993.2 L1502,1391.8 L1501.2,1396.1 L1498.6,1406.4 L1493.9,1420.6 L1488.7,1406 L1485.7,1399.6 L1480.5,1389.3 L1474.5,1376.4 L1470.2,1361.8 L1465.9,1340.4 L1460.8,1320.7 L1455.6,1304.4 L1451.8,1294.1 L1446.6,1294.1 L1444.5,1306.1 L1441,1319.8 L1436.7,1329.3 L1432.5,1333.5 L1429.9,1329.7 L1425.6,1331.4 L1422.2,1327.5 L1418.7,1321.5 L1414.4,1319.8 L1411,1319.4 L1406.7,1322.4 L1404.1,1321.5 L1398.1,1324.1 L1394.7,1323.7 L1389.5,1324.1 L1384.4,1319 L1383.1,1318 L1380.9,1314.7 L1378.1,1310.1 L1374.2,1308.1 L1368.3,1311.6 L1363.3,1310.6 L1352.5,1310.1 L1344.6,1305.7 L1338.6,1301.2 L1332.7,1297.3 L1327.8,1296.3 L1322.8,1294.8 L1317.9,1293.3 L1313.9,1290.4 L1309,1285 L1303.1,1284.5 L1296.6,1286.4 L1292.2,1283 L1288.2,1278.1 L1281.3,1280.5 L1277.4,1275.6 L1272.9,1268.2 L1269.5,1276.6 L1267,1275.6 L1262.5,1276.1 L1255.6,1271.6 L1252.7,1270.2 L1246.7,1264.7 L1243.8,1261.4 L1240.8,1258.3 L1237.9,1254.5 L1234.9,1253.5 L1229,1254.9 L1225.1,1256.9 L1219.1,1266.3 L1216.2,1269.2 L1207.3,1268.8 L1203.3,1265.8 L1200.4,1264.3 L1197.4,1252.5 L1193.4,1239.7 L1189.5,1226.8 L1186.5,1220.9 L1184.1,1208.1 L1179.6,1200.2 L1175.7,1192.3 L1172.7,1191.3 L1169.7,1188.4 L1164.8,1184.9 L1160.8,1182.9 L1158.9,1178.5 L1155.9,1162.7 L1152.4,1147.9 L1146.5,1166.7 L1143.1,1159.8 L1138.1,1159.3 L1133.2,1154.8 L1129.2,1150.9 L1124.3,1150.9 L1120.3,1145.3 L1117.3,1142.8 L1114.4,1142.3 L1108.4,1137.4 L1105.5,1129.5 L1103,1125 L1099.5,1128.5 L1095.6,1131.5 L1089.7,1130 L1085.7,1126.5 L1081.3,1117.1 L1078.8,1122.1 L1075.8,1125.5 L1072.9,1126 L1067.9,1121.6 L1063.5,1117.1 L1060,1116.7 L1056.6,1115.2 L1053.1,1100.9 L1048.7,1113.7 L1045.2,1111.2 L1041.3,1115.7 L1038.3,1113.7 L1035.3,1112.7 L1032.9,1111.7 L1030.9,1117.6 L1028.9,1114.7 L1027.9,1093 L1026.4,1066.3 L1024.9,1049.6 L1023.5,1052.5 L1021,1062.4 L1019,1070.8 L1017,1072.8 L1015.1,1067.3 L1012.6,1062.4 L1010.6,1060.9 L1009.6,1060.4 L1005.7,1078.2 L1000.7,1091 L996.8,1100.9 L993.8,1101.4 L990.8,1099.4 L987.9,1097.9 L983.9,1100.4 L978,1102.4 L975,1102.8 L970.1,1101.9 L966.1,1100.4 L964.2,1100.9 L961.2,1098.9 L958.2,1097.9 L955.3,1094 L953.3,1093 L949.4,1090 L945.4,1088 L941.4,1085.6 L937.5,1080.6 L934.5,1078.7 L928.6,1077.2 L923.7,1075.7 L919.7,1071.3 L915.8,1066.3 L912.8,1063.9 L906.9,1062.9 L903.9,1061.4 L900,1057 L898.5,1058 L895,1052.5 L892.5,1051.5 L889.6,1048.6 L884.1,1048.1 L881.7,1043.7 L880.2,1035.8 L878.4,1022.9 L876.2,1033.8 L873.8,1048.6 L871.3,1049.6 L869.8,1048.6 L867.8,1042.7 L865.9,1036.3 L864.4,1035.8 L862.9,1044.6 L861.6,1056.5 Z" fill="#efebea"/>
<g clip-path="url(#wG)"><g filter="url(#blurR)"><path d="M879.3,997.5 L880.6,1018.4 L880.6,1046.3 L879.3,1067.2 L878.1,1046.3 L878.1,1018.4 Z" fill="#cdd8de"/><path d="M895.2,1065.6 L896.1,1110.6 L896.1,1301.4 L895.2,1346.4 L894.4,1301.4 L894.4,1110.6 Z" fill="#d6dce0"/><path d="M944.4,963.2 L945.9,1008.2 L945.9,1141.3 L944.4,1186.3 L942.9,1141.3 L942.9,1008.2 Z" fill="#d6dce0"/><path d="M976.2,963.2 L977.1,1008.2 L977.1,1393.1 L976.2,1438.1 L975.4,1393.1 L975.4,1008.2 Z" fill="#dfe3e6"/><path d="M1000.6,963.2 L1002.7,1008.2 L1002.7,1393.1 L1000.6,1438.1 L998.4,1393.1 L998.4,1008.2 Z" fill="#e9e1df"/><path d="M1017.9,1219.8 L1018.7,1264.8 L1018.7,1393.1 L1017.9,1438.1 L1017,1393.1 L1017,1264.8 Z" fill="#d6dce0"/><path d="M1034.1,1241.2 L1036.6,1286.2 L1036.6,1393.1 L1034.1,1438.1 L1031.7,1393.1 L1031.7,1286.2 Z" fill="#e9e1df"/><path d="M1039.5,963.2 L1040.9,991.6 L1040.9,1029.6 L1039.5,1058 L1038,1029.6 L1038,991.6 Z" fill="#dfe3e6"/><path d="M1049.1,1092 L1051.4,1137 L1051.4,1393.1 L1049.1,1438.1 L1046.8,1393.1 L1046.8,1137 Z" fill="#cdd8de"/><path d="M1064.6,963.2 L1066,1008.2 L1066,1393.1 L1064.6,1438.1 L1063.2,1393.1 L1063.2,1008.2 Z" fill="#e9e1df"/><path d="M1096.6,963.2 L1098.6,1008.2 L1098.6,1215.1 L1096.6,1260.1 L1094.5,1215.1 L1094.5,1008.2 Z" fill="#cdd8de"/><path d="M1126.9,963.2 L1128.7,1008.2 L1128.7,1393.1 L1126.9,1438.1 L1125.1,1393.1 L1125.1,1008.2 Z" fill="#dfe3e6"/><path d="M1156,963.2 L1157.4,1008.2 L1157.4,1393.1 L1156,1438.1 L1154.5,1393.1 L1154.5,1008.2 Z" fill="#d6dce0"/><path d="M1186.5,963.2 L1188.7,1008.2 L1188.7,1393.1 L1186.5,1438.1 L1184.2,1393.1 L1184.2,1008.2 Z" fill="#e9e1df"/><path d="M1195.5,963.2 L1197.1,1008.2 L1197.1,1079.7 L1195.5,1124.7 L1193.9,1079.7 L1193.9,1008.2 Z" fill="#e9e1df"/><path d="M1216.6,963.2 L1217.6,1008.2 L1217.6,1393.1 L1216.6,1438.1 L1215.5,1393.1 L1215.5,1008.2 Z" fill="#e9e1df"/><path d="M1229,963.2 L1230.6,1000.4 L1230.6,1050 L1229,1087.2 L1227.4,1050 L1227.4,1000.4 Z" fill="#d6dce0"/><path d="M1235.5,963.2 L1236.3,1008.2 L1236.3,1393.1 L1235.5,1438.1 L1234.7,1393.1 L1234.7,1008.2 Z" fill="#d6dce0"/><path d="M1298,963.2 L1299.4,1008.2 L1299.4,1393.1 L1298,1438.1 L1296.7,1393.1 L1296.7,1008.2 Z" fill="#e9e1df"/><path d="M1319.1,963.2 L1321,1000.4 L1321,1050 L1319.1,1087.2 L1317.2,1050 L1317.2,1000.4 Z" fill="#dfe3e6"/><path d="M1366.4,963.2 L1367.6,1008.2 L1367.6,1123.3 L1366.4,1168.3 L1365.2,1123.3 L1365.2,1008.2 Z" fill="#e9e1df"/><path d="M1371.2,963.2 L1372.1,1008.2 L1372.1,1393.1 L1371.2,1438.1 L1370.4,1393.1 L1370.4,1008.2 Z" fill="#e9e1df"/><path d="M1395.2,963.2 L1396.5,1008.2 L1396.5,1218.2 L1395.2,1263.2 L1393.9,1218.2 L1393.9,1008.2 Z" fill="#e9e1df"/><path d="M1404.9,1078.1 L1407.1,1123.1 L1407.1,1281.9 L1404.9,1326.9 L1402.8,1281.9 L1402.8,1123.1 Z" fill="#cdd8de"/><path d="M1418.2,1128.3 L1419.3,1173.3 L1419.3,1393.1 L1418.2,1438.1 L1417.1,1393.1 L1417.1,1173.3 Z" fill="#e9e1df"/><path d="M1464.9,963.2 L1466,1008.2 L1466,1393.1 L1464.9,1438.1 L1463.7,1393.1 L1463.7,1008.2 Z" fill="#e9e1df"/><path d="M1471.5,963.2 L1473.8,1008.2 L1473.8,1393.1 L1471.5,1438.1 L1469.3,1393.1 L1469.3,1008.2 Z" fill="#dfe3e6"/><rect x="860" y="983.2" width="320" height="434.9" fill="#f2e7e4"/><path d="M1341.2,953.2 L1345.4,975 L1345.4,1040.3 L1341.2,1062.1 L1336.9,1040.3 L1336.9,975 Z" fill="#d2d9de"/><path d="M1252.1,953.2 L1256.3,968.2 L1256.3,1013.2 L1252.1,1028.2 L1247.9,1013.2 L1247.9,968.2 Z" fill="#d2d9de"/><path d="M1222.4,953.2 L1235.1,983.2 L1235.1,1235.7 L1222.4,1265.7 L1209.7,1235.7 L1209.7,983.2 Z" fill="#d2d9de"/><path d="M1192.7,953.2 L1197,983.2 L1197,1172 L1192.7,1202 L1188.5,1172 L1188.5,983.2 Z" fill="#d2d9de"/><path d="M1143.3,953.2 L1146.2,983.2 L1146.2,1418.1 L1143.3,1448.1 L1140.3,1418.1 L1140.3,983.2 Z" fill="#d2d9de"/><path d="M993.2,953.2 L998.2,968.5 L998.2,1014.2 L993.2,1029.5 L988.3,1014.2 L988.3,968.5 Z" fill="#d2d9de"/><path d="M890.6,953.2 L895.5,983.2 L895.5,1418.1 L890.6,1448.1 L885.7,1418.1 L885.7,983.2 Z" fill="#d2d9de"/><path d="M863,943.2 L867.7,969.2 L867.7,1017.4 L863,1043.4 L858.2,1017.4 L858.2,969.2 Z" fill="#b4cee7"/><path d="M875.8,943.2 L882.1,968.5 L882.1,1014.2 L875.8,1039.5 L869.5,1014.2 L869.5,968.5 Z" fill="#aecbe8"/><path d="M875.8,943.2 L879.6,967.3 L879.6,1009.5 L875.8,1033.6 L872,1009.5 L872,967.3 Z" fill="#a9c2e0"/><path d="M881.7,943.2 L884.9,970.8 L884.9,1023.7 L881.7,1051.3 L878.6,1023.7 L878.6,970.8 Z" fill="#eac2b6"/><path d="M900,943.2 L903.9,974.4 L903.9,1037.9 L900,1069.1 L896,1037.9 L896,974.4 Z" fill="#f1dad4"/><path d="M912.3,943.2 L920.2,973.2 L920.2,1033.2 L912.3,1063.2 L904.4,1033.2 L904.4,973.2 Z" fill="#cedee9"/><path d="M922.2,943.2 L926.9,976.4 L926.9,1045.8 L922.2,1079 L917.4,1045.8 L917.4,976.4 Z" fill="#f5ece8"/><path d="M933,943.2 L942.5,976 L942.5,1044.2 L933,1077 L923.6,1044.2 L923.6,976 Z" fill="#bcd5e8"/><path d="M933.5,943.2 L939.1,974.4 L939.1,1037.9 L933.5,1069.1 L928,1037.9 L928,974.4 Z" fill="#b2d0e7"/><path d="M946.9,943.2 L953.2,980.3 L953.2,1061.6 L946.9,1098.7 L940.5,1061.6 L940.5,980.3 Z" fill="#f0d4ce"/><path d="M953.8,943.2 L958.5,983.2 L958.5,1418.1 L953.8,1458.1 L949,1418.1 L949,983.2 Z" fill="#dde8ed"/><path d="M964.6,943.2 L974.1,982.3 L974.1,1069.5 L964.6,1108.6 L955.1,1069.5 L955.1,982.3 Z" fill="#f4e8e4"/><path d="M970.5,1029.3 L976.9,1047.2 L976.9,1070.9 L970.5,1088.8 L964.2,1070.9 L964.2,1047.2 Z" fill="#f0dad4"/><path d="M1004.1,943.2 L1013.6,979.5 L1013.6,1058.4 L1004.1,1094.7 L994.6,1058.4 L994.6,979.5 Z" fill="#a9c7e6"/><path d="M1004.3,943.2 L1010.3,977.1 L1010.3,1049 L1004.3,1082.9 L998.3,1049 L998.3,977.1 Z" fill="#a6bee0"/><path d="M1020.9,943.2 L1025.6,968.5 L1025.6,1014.2 L1020.9,1039.5 L1016.1,1014.2 L1016.1,968.5 Z" fill="#a8b6d7"/><path d="M1028.8,943.2 L1033.5,983.2 L1033.5,1082.4 L1028.8,1122.4 L1024,1082.4 L1024,983.2 Z" fill="#d2a6aa"/><path d="M1033.7,1039.2 L1036.9,1061.9 L1036.9,1099.8 L1033.7,1122.4 L1030.5,1099.8 L1030.5,1061.9 Z" fill="#bad4e8"/><path d="M1040.6,943.2 L1045.4,983.2 L1045.4,1078.4 L1040.6,1118.4 L1035.9,1078.4 L1035.9,983.2 Z" fill="#f3e0da"/><path d="M1046.5,943.2 L1051.3,983.2 L1051.3,1078.4 L1046.5,1118.4 L1041.8,1078.4 L1041.8,983.2 Z" fill="#cedee9"/><path d="M1051.5,943.2 L1054.6,982.3 L1054.6,1069.5 L1051.5,1108.6 L1048.3,1069.5 L1048.3,982.3 Z" fill="#b4d1e7"/><path d="M1057.4,1029.3 L1060.6,1047.2 L1060.6,1070.9 L1057.4,1088.8 L1054.2,1070.9 L1054.2,1047.2 Z" fill="#eabeb4"/><path d="M1062.3,943.2 L1067.1,983.2 L1067.1,1078.4 L1062.3,1118.4 L1057.6,1078.4 L1057.6,983.2 Z" fill="#f5ece8"/><path d="M1074.2,1019.5 L1082.1,1047.2 L1082.1,1100.5 L1074.2,1128.3 L1066.3,1100.5 L1066.3,1047.2 Z" fill="#f1dad4"/><path d="M1090,1019.5 L1101,1047.2 L1101,1100.5 L1090,1128.3 L1078.9,1100.5 L1078.9,1047.2 Z" fill="#f3e2dd"/><path d="M1116.6,1015.5 L1132.4,1046.1 L1132.4,1107.6 L1116.6,1138.2 L1100.8,1107.6 L1100.8,1046.1 Z" fill="#f2e0da"/><path d="M1152.1,943.2 L1158.5,983.2 L1158.5,1098.2 L1152.1,1138.2 L1145.8,1098.2 L1145.8,983.2 Z" fill="#aec8e7"/><path d="M1152.3,1019.5 L1155.8,1045.3 L1155.8,1092.6 L1152.3,1118.4 L1148.9,1092.6 L1148.9,1045.3 Z" fill="#a8bcdd"/><path d="M1163,1019.5 L1167.7,1059.1 L1167.7,1147.9 L1163,1187.5 L1158.3,1147.9 L1158.3,1059.1 Z" fill="#f2e0da"/><path d="M1174.9,1039.2 L1183,1076.9 L1183,1159.8 L1174.9,1197.4 L1166.9,1159.8 L1166.9,1076.9 Z" fill="#dae6ed"/><path d="M1183.2,1107.2 L1188.3,1129.9 L1188.3,1168.1 L1183.2,1190.8 L1178.1,1168.1 L1178.1,1129.9 Z" fill="#c8dde8"/><path d="M1263.8,1018.2 L1275.6,1058.2 L1275.6,1235.7 L1263.8,1275.7 L1251.9,1235.7 L1251.9,1058.2 Z" fill="#f1ded9"/><path d="M1263.8,1043.6 L1270.5,1062.1 L1270.5,1087.5 L1263.8,1106 L1257,1087.5 L1257,1062.1 Z" fill="#f0d4ce"/><path d="M1279.7,1022.4 L1289.8,1062.4 L1289.8,1235.7 L1279.7,1275.7 L1269.5,1235.7 L1269.5,1062.4 Z" fill="#f1dad4"/><path d="M1294.5,1033 L1304.7,1073 L1304.7,1225.1 L1294.5,1265.1 L1284.3,1225.1 L1284.3,1073 Z" fill="#f4e6e1"/><path d="M1312.5,1202.6 L1321,1227.5 L1321,1272 L1312.5,1296.9 L1304,1272 L1304,1227.5 Z" fill="#f7edea"/><path d="M1331.6,1149.6 L1336.7,1185.1 L1336.7,1261.4 L1331.6,1296.9 L1326.5,1261.4 L1326.5,1185.1 Z" fill="#e4ebef"/><path d="M1376.1,943.2 L1384.6,983.2 L1384.6,1278.1 L1376.1,1318.1 L1367.7,1278.1 L1367.7,983.2 Z" fill="#d3e2eb"/><path d="M1386.7,1128.4 L1395.2,1168.4 L1395.2,1288.7 L1386.7,1328.7 L1378.3,1288.7 L1378.3,1168.4 Z" fill="#f2e0da"/><path d="M1404.8,943.2 L1411.6,983.2 L1411.6,1278.1 L1404.8,1318.1 L1398,1278.1 L1398,983.2 Z" fill="#dae6ed"/><path d="M1426,1016 L1446.3,1056 L1446.3,1214.5 L1426,1254.5 L1405.6,1214.5 L1405.6,1056 Z" fill="#e4ebef"/><path d="M1434.5,1192 L1441.2,1227.5 L1441.2,1303.8 L1434.5,1339.3 L1427.7,1303.8 L1427.7,1227.5 Z" fill="#f1ddd7"/><path d="M1451.4,1054.2 L1465,1094.2 L1465,1373.5 L1451.4,1413.5 L1437.8,1373.5 L1437.8,1094.2 Z" fill="#bcd6e7"/><path d="M1469.4,1075.4 L1481.3,1115.4 L1481.3,1373.5 L1469.4,1413.5 L1457.6,1373.5 L1457.6,1115.4 Z" fill="#dde8ed"/><path d="M1481.1,1039.4 L1487.9,1071.4 L1487.9,1137.6 L1481.1,1169.6 L1474.3,1137.6 L1474.3,1071.4 Z" fill="#f4e4de"/><path d="M1496.9,1043.6 L1501.8,1083.6 L1501.8,1320.5 L1496.9,1360.5 L1492,1320.5 L1492,1083.6 Z" fill="#edcec5"/><path d="M863,958.2 L865.5,974.2 L865.5,1012.4 L863,1028.4 L860.5,1012.4 L860.5,974.2 Z" fill="#3a7fc0"/><path d="M875.8,958.2 L879.1,973.5 L879.1,1009.2 L875.8,1024.5 L872.5,1009.2 L872.5,973.5 Z" fill="#2a78c4"/><path d="M875.8,958.2 L878.2,972.3 L878.2,1004.5 L875.8,1018.6 L873.4,1004.5 L873.4,972.3 Z" fill="#1f5fb0"/><path d="M881.7,958.2 L883.7,975.8 L883.7,1018.7 L881.7,1036.3 L879.7,1018.7 L879.7,975.8 Z" fill="#c86040"/><path d="M900,958.2 L902.4,979.4 L902.4,1032.9 L900,1054.1 L897.5,1032.9 L897.5,979.4 Z" fill="#dca090"/><path d="M912.3,958.2 L916.5,978.2 L916.5,1028.2 L912.3,1048.2 L908.2,1028.2 L908.2,978.2 Z" fill="#7faac6"/><path d="M922.2,958.2 L924.7,981.4 L924.7,1040.8 L922.2,1064 L919.7,1040.8 L919.7,981.4 Z" fill="#e6cdc4"/><path d="M933,958.2 L938,981 L938,1039.2 L933,1062 L928.1,1039.2 L928.1,981 Z" fill="#4f93c4"/><path d="M933.5,958.2 L936.4,979.4 L936.4,1032.9 L933.5,1054.1 L930.6,1032.9 L930.6,979.4 Z" fill="#3584c2"/><path d="M946.9,958.2 L950.2,985.3 L950.2,1056.6 L946.9,1083.7 L943.5,1056.6 L943.5,985.3 Z" fill="#d89080"/><path d="M953.8,958.2 L956.3,988.2 L956.3,1413.1 L953.8,1443.1 L951.3,1413.1 L951.3,988.2 Z" fill="#a8c4d2"/><path d="M964.6,958.2 L969.6,987.3 L969.6,1064.5 L964.6,1093.6 L959.6,1064.5 L959.6,987.3 Z" fill="#e3c3b8"/><path d="M970.5,1044.3 L973.9,1052.2 L973.9,1065.9 L970.5,1073.8 L967.2,1065.9 L967.2,1052.2 Z" fill="#d9a090"/><path d="M1004.1,958.2 L1009.1,984.5 L1009.1,1053.4 L1004.1,1079.7 L999.1,1053.4 L999.1,984.5 Z" fill="#1f6cbf"/><path d="M1004.3,958.2 L1007.4,982.1 L1007.4,1044 L1004.3,1067.9 L1001.1,1044 L1001.1,982.1 Z" fill="#1656b0"/><path d="M1020.9,958.2 L1023.4,973.5 L1023.4,1009.2 L1020.9,1024.5 L1018.4,1009.2 L1018.4,973.5 Z" fill="#1c3f98"/><path d="M1028.8,958.2 L1031.3,988.2 L1031.3,1077.4 L1028.8,1107.4 L1026.3,1077.4 L1026.3,988.2 Z" fill="#8a1520"/><path d="M1033.7,1054.2 L1035.7,1066.9 L1035.7,1094.8 L1033.7,1107.4 L1031.7,1094.8 L1031.7,1066.9 Z" fill="#4a8fc4"/><path d="M1040.6,958.2 L1043.1,988.2 L1043.1,1073.4 L1040.6,1103.4 L1038.1,1073.4 L1038.1,988.2 Z" fill="#e0b0a0"/><path d="M1046.5,958.2 L1049,988.2 L1049,1073.4 L1046.5,1103.4 L1044,1073.4 L1044,988.2 Z" fill="#7faac6"/><path d="M1051.5,958.2 L1053.4,987.3 L1053.4,1064.5 L1051.5,1093.6 L1049.5,1064.5 L1049.5,987.3 Z" fill="#3a86c2"/><path d="M1057.4,1044.3 L1059.4,1052.2 L1059.4,1065.9 L1057.4,1073.8 L1055.4,1065.9 L1055.4,1052.2 Z" fill="#c8553a"/><path d="M1062.3,958.2 L1064.8,988.2 L1064.8,1073.4 L1062.3,1103.4 L1059.8,1073.4 L1059.8,988.2 Z" fill="#e6cdc4"/><path d="M1074.2,1034.5 L1078.3,1052.2 L1078.3,1095.5 L1074.2,1113.3 L1070,1095.5 L1070,1052.2 Z" fill="#dca090"/><path d="M1090,1034.5 L1095.8,1052.2 L1095.8,1095.5 L1090,1113.3 L1084.2,1095.5 L1084.2,1052.2 Z" fill="#e0b5a8"/><path d="M1116.6,1030.5 L1124.9,1051.1 L1124.9,1102.6 L1116.6,1123.2 L1108.3,1102.6 L1108.3,1051.1 Z" fill="#ddb0a0"/><path d="M1152.1,958.2 L1155.5,988.2 L1155.5,1093.2 L1152.1,1123.2 L1148.8,1093.2 L1148.8,988.2 Z" fill="#2a6fc0"/><path d="M1152.3,1034.5 L1154.5,1050.3 L1154.5,1087.6 L1152.3,1103.4 L1150.2,1087.6 L1150.2,1050.3 Z" fill="#1c50a8"/><path d="M1163,1034.5 L1165.5,1064.1 L1165.5,1142.9 L1163,1172.5 L1160.5,1142.9 L1160.5,1064.1 Z" fill="#dfb0a0"/><path d="M1174.9,1054.2 L1179.2,1081.9 L1179.2,1154.8 L1174.9,1182.4 L1170.7,1154.8 L1170.7,1081.9 Z" fill="#9fbfd0"/><path d="M1183.2,1122.2 L1185.9,1134.9 L1185.9,1163.1 L1183.2,1175.8 L1180.5,1163.1 L1180.5,1134.9 Z" fill="#6fa6c4"/><path d="M1263.8,1033.2 L1270,1063.2 L1270,1230.7 L1263.8,1260.7 L1257.5,1230.7 L1257.5,1063.2 Z" fill="#dcaa9c"/><path d="M1263.8,1058.6 L1267.3,1067.1 L1267.3,1082.5 L1263.8,1091 L1260.2,1082.5 L1260.2,1067.1 Z" fill="#d89080"/><path d="M1279.7,1037.4 L1285,1067.4 L1285,1230.7 L1279.7,1260.7 L1274.3,1230.7 L1274.3,1067.4 Z" fill="#dca090"/><path d="M1294.5,1048 L1299.8,1078 L1299.8,1220.1 L1294.5,1250.1 L1289.2,1220.1 L1289.2,1078 Z" fill="#e3bfb2"/><path d="M1312.5,1217.6 L1317,1232.5 L1317,1267 L1312.5,1281.9 L1308.1,1267 L1308.1,1232.5 Z" fill="#ead2ca"/><path d="M1331.6,1164.6 L1334.3,1190.1 L1334.3,1256.4 L1331.6,1281.9 L1328.9,1256.4 L1328.9,1190.1 Z" fill="#b8ccd6"/><path d="M1376.1,958.2 L1380.6,988.2 L1380.6,1273.1 L1376.1,1303.1 L1371.7,1273.1 L1371.7,988.2 Z" fill="#8cb4cc"/><path d="M1386.7,1143.4 L1391.2,1173.4 L1391.2,1283.7 L1386.7,1313.7 L1382.3,1283.7 L1382.3,1173.4 Z" fill="#dfae9e"/><path d="M1404.8,958.2 L1408.3,988.2 L1408.3,1273.1 L1404.8,1303.1 L1401.2,1273.1 L1401.2,988.2 Z" fill="#9ebfd0"/><path d="M1426,1031 L1436.7,1061 L1436.7,1209.5 L1426,1239.5 L1415.3,1209.5 L1415.3,1061 Z" fill="#b8cbd5"/><path d="M1434.5,1207 L1438,1232.5 L1438,1298.8 L1434.5,1324.3 L1430.9,1298.8 L1430.9,1232.5 Z" fill="#dca898"/><path d="M1451.4,1069.2 L1458.5,1099.2 L1458.5,1368.5 L1451.4,1398.5 L1444.3,1368.5 L1444.3,1099.2 Z" fill="#4f95c2"/><path d="M1469.4,1090.4 L1475.7,1120.4 L1475.7,1368.5 L1469.4,1398.5 L1463.2,1368.5 L1463.2,1120.4 Z" fill="#a8c4d2"/><path d="M1481.1,1054.4 L1484.7,1076.4 L1484.7,1132.6 L1481.1,1154.6 L1477.5,1132.6 L1477.5,1076.4 Z" fill="#e3b8aa"/><path d="M1496.9,1058.6 L1499.5,1088.6 L1499.5,1315.5 L1496.9,1345.5 L1494.3,1315.5 L1494.3,1088.6 Z" fill="#d08068"/></g></g>
<path d="M861.6,1056.5 L862.9,1044.6 L864.4,1035.8 L865.9,1036.3 L867.8,1042.7 L869.8,1048.6 L871.3,1049.6 L873.8,1048.6 L876.2,1033.8 L878.4,1022.9 L880.2,1035.8 L881.7,1043.7 L884.1,1048.1 L889.6,1048.6 L892.5,1051.5 L895,1052.5 L898.5,1058 L900,1057 L903.9,1061.4 L906.9,1062.9 L912.8,1063.9 L915.8,1066.3 L919.7,1071.3 L923.7,1075.7 L928.6,1077.2 L934.5,1078.7 L937.5,1080.6 L941.4,1085.6 L945.4,1088 L949.4,1090 L953.3,1093 L955.3,1094 L958.2,1097.9 L961.2,1098.9 L964.2,1100.9 L966.1,1100.4 L970.1,1101.9 L975,1102.8 L978,1102.4 L983.9,1100.4 L987.9,1097.9 L990.8,1099.4 L993.8,1101.4 L996.8,1100.9 L1000.7,1091 L1005.7,1078.2 L1009.6,1060.4 L1010.6,1060.9 L1012.6,1062.4 L1015.1,1067.3 L1017,1072.8 L1019,1070.8 L1021,1062.4 L1023.5,1052.5 L1024.9,1049.6 L1026.4,1066.3 L1027.9,1093 L1028.9,1114.7 L1030.9,1117.6 L1032.9,1111.7 L1035.3,1112.7 L1038.3,1113.7 L1041.3,1115.7 L1045.2,1111.2 L1048.7,1113.7 L1053.1,1100.9 L1056.6,1115.2 L1060,1116.7 L1063.5,1117.1 L1067.9,1121.6 L1072.9,1126 L1075.8,1125.5 L1078.8,1122.1 L1081.3,1117.1 L1085.7,1126.5 L1089.7,1130 L1095.6,1131.5 L1099.5,1128.5 L1103,1125 L1105.5,1129.5 L1108.4,1137.4 L1114.4,1142.3 L1117.3,1142.8 L1120.3,1145.3 L1124.3,1150.9 L1129.2,1150.9 L1133.2,1154.8 L1138.1,1159.3 L1143.1,1159.8 L1146.5,1166.7 L1152.4,1147.9 L1155.9,1162.7 L1158.9,1178.5 L1160.8,1182.9 L1164.8,1184.9 L1169.7,1188.4 L1172.7,1191.3 L1175.7,1192.3 L1179.6,1200.2 L1184.1,1208.1 L1186.5,1220.9 L1189.5,1226.8 L1193.4,1239.7 L1197.4,1252.5 L1200.4,1264.3 L1203.3,1265.8 L1207.3,1268.8 L1216.2,1269.2 L1219.1,1266.3 L1225.1,1256.9 L1229,1254.9 L1234.9,1253.5 L1237.9,1254.5 L1240.8,1258.3 L1243.8,1261.4 L1246.7,1264.7 L1252.7,1270.2 L1255.6,1271.6 L1262.5,1276.1 L1267,1275.6 L1269.5,1276.6 L1272.9,1268.2 L1277.4,1275.6 L1281.3,1280.5 L1288.2,1278.1 L1292.2,1283 L1296.6,1286.4 L1303.1,1284.5 L1309,1285 L1313.9,1290.4 L1317.9,1293.3 L1322.8,1294.8 L1327.8,1296.3 L1332.7,1297.3 L1338.6,1301.2 L1344.6,1305.7 L1352.5,1310.1 L1363.3,1310.6 L1368.3,1311.6 L1374.2,1308.1 L1378.1,1310.1 L1380.9,1314.7 L1383.1,1318 L1384.4,1319 L1389.5,1324.1 L1394.7,1323.7 L1398.1,1324.1 L1404.1,1321.5 L1406.7,1322.4 L1411,1319.4 L1414.4,1319.8 L1418.7,1321.5 L1422.2,1327.5 L1425.6,1331.4 L1429.9,1329.7 L1432.5,1333.5 L1436.7,1329.3 L1441,1319.8 L1444.5,1306.1 L1446.6,1294.1 L1451.8,1294.1 L1455.6,1304.4 L1460.8,1320.7 L1465.9,1340.4 L1470.2,1361.8 L1474.5,1376.4 L1480.5,1389.3 L1485.7,1399.6 L1488.7,1406 L1493.9,1420.6 L1498.6,1406.4 L1501.2,1396.1 L1502,1391.8" fill="none" stroke="#303030" stroke-width="1.4" stroke-linejoin="round"/>
</g>
<rect x="861.6" y="993.2" width="639.2" height="414.9" fill="none" stroke="#6e6e6e" stroke-width="1.4"/><path d="M982.7,993.2v8M982.7,1408.1v-8M1103.8,993.2v8M1103.8,1408.1v-8M1224.9,993.2v8M1224.9,1408.1v-8M1346,993.2v8M1346,1408.1v-8M1467.1,993.2v8M1467.1,1408.1v-8M861.6,1062.3h8M1500.8,1062.3h-8M861.6,1131.5h8M1500.8,1131.5h-8M861.6,1200.7h8M1500.8,1200.7h-8M861.6,1269.8h8M1500.8,1269.8h-8M861.6,1338.9h8M1500.8,1338.9h-8" stroke="#444" stroke-width="1.5" fill="none"/>
<rect x="1509.9" y="993.2" width="31.8" height="414.9" fill="url(#gBal)" stroke="#6e6e6e" stroke-width="1.4"/><path d="M1541.7,1096.9h-4M1541.7,1200.7h-4M1541.7,1304.4h-4" stroke="#555" stroke-width="1.2" fill="none"/>
<g clip-path="url(#clipH)">
<clipPath id="wH"><path d="M861.5,1459.1 L1503.3,1459.1 L1501.9,1856.8 L1501.1,1861.1 L1498.5,1871.3 L1493.8,1885.4 L1488.6,1870.9 L1485.6,1864.5 L1480.4,1854.2 L1474.4,1841.4 L1470.1,1826.8 L1465.8,1805.5 L1460.7,1785.8 L1455.5,1769.5 L1451.7,1759.3 L1446.5,1759.3 L1444.4,1771.2 L1440.9,1784.9 L1436.6,1794.3 L1432.4,1798.6 L1429.8,1794.8 L1425.5,1796.5 L1422.1,1792.6 L1418.6,1786.6 L1414.3,1784.9 L1410.9,1784.5 L1406.6,1787.5 L1404,1786.6 L1398,1789.2 L1394.6,1788.8 L1389.4,1789.2 L1384.3,1784.1 L1383,1783.1 L1380.8,1779.8 L1378,1775.3 L1374.1,1773.3 L1368.2,1776.7 L1363.2,1775.7 L1352.4,1775.3 L1344.5,1770.8 L1338.5,1766.4 L1332.6,1762.5 L1327.7,1761.5 L1322.7,1760 L1317.8,1758.5 L1313.8,1755.6 L1308.9,1750.2 L1303,1749.7 L1296.5,1751.6 L1292.1,1748.2 L1288.1,1743.3 L1281.2,1745.7 L1277.3,1740.8 L1272.8,1733.4 L1269.4,1741.8 L1266.9,1740.8 L1262.4,1741.3 L1255.5,1736.9 L1252.6,1735.4 L1246.6,1730 L1243.7,1726.6 L1240.7,1723.6 L1237.8,1719.7 L1234.8,1718.7 L1228.9,1720.2 L1225,1722.2 L1219,1731.5 L1216.1,1734.5 L1207.2,1734 L1203.2,1731 L1200.3,1729.6 L1197.3,1717.8 L1193.3,1705 L1189.4,1692.2 L1186.4,1686.3 L1184,1673.5 L1179.5,1665.6 L1175.6,1657.7 L1172.6,1656.7 L1169.6,1653.8 L1164.7,1650.3 L1160.7,1648.4 L1158.8,1643.9 L1155.8,1628.2 L1152.3,1613.4 L1146.4,1632.1 L1143,1625.3 L1138,1624.8 L1133.1,1620.3 L1129.1,1616.4 L1124.2,1616.4 L1120.2,1610.8 L1117.2,1608.3 L1114.3,1607.8 L1108.3,1602.9 L1105.4,1595.1 L1102.9,1590.6 L1099.4,1594.1 L1095.5,1597 L1089.6,1595.5 L1085.6,1592.1 L1081.2,1582.7 L1078.7,1587.7 L1075.7,1591.1 L1072.8,1591.6 L1067.8,1587.2 L1063.4,1582.7 L1059.9,1582.3 L1056.5,1580.8 L1053,1566.5 L1048.6,1579.3 L1045.1,1576.8 L1041.2,1581.3 L1038.2,1579.3 L1035.2,1578.3 L1032.8,1577.3 L1030.8,1583.2 L1028.8,1580.3 L1027.8,1558.6 L1026.3,1532.1 L1024.8,1515.3 L1023.4,1518.3 L1020.9,1528.1 L1018.9,1536.5 L1016.9,1538.5 L1015,1533.1 L1012.5,1528.1 L1010.5,1526.7 L1009.5,1526.2 L1005.6,1543.9 L1000.6,1556.7 L996.7,1566.5 L993.7,1567 L990.7,1565 L987.8,1563.6 L983.8,1566 L977.9,1568 L974.9,1568.5 L970,1567.5 L966,1566 L964.1,1566.5 L961.1,1564.5 L958.1,1563.6 L955.2,1559.6 L953.2,1558.6 L949.3,1555.7 L945.3,1553.7 L941.3,1551.3 L937.4,1546.3 L934.4,1544.4 L928.5,1542.9 L923.6,1541.4 L919.6,1537 L915.7,1532.1 L912.7,1529.6 L906.8,1528.6 L903.8,1527.1 L899.9,1522.7 L898.4,1523.7 L894.9,1518.3 L892.4,1517.3 L889.5,1514.4 L884,1513.9 L881.6,1509.4 L880.1,1501.6 L878.3,1488.8 L876.1,1499.6 L873.7,1514.4 L871.2,1515.3 L869.7,1514.4 L867.7,1508.5 L865.8,1502.1 L864.3,1501.6 L862.8,1510.4 L861.5,1522.2 Z"/></clipPath>
<path d="M861.5,1459.1 L1503.3,1459.1 L1501.9,1856.8 L1501.1,1861.1 L1498.5,1871.3 L1493.8,1885.4 L1488.6,1870.9 L1485.6,1864.5 L1480.4,1854.2 L1474.4,1841.4 L1470.1,1826.8 L1465.8,1805.5 L1460.7,1785.8 L1455.5,1769.5 L1451.7,1759.3 L1446.5,1759.3 L1444.4,1771.2 L1440.9,1784.9 L1436.6,1794.3 L1432.4,1798.6 L1429.8,1794.8 L1425.5,1796.5 L1422.1,1792.6 L1418.6,1786.6 L1414.3,1784.9 L1410.9,1784.5 L1406.6,1787.5 L1404,1786.6 L1398,1789.2 L1394.6,1788.8 L1389.4,1789.2 L1384.3,1784.1 L1383,1783.1 L1380.8,1779.8 L1378,1775.3 L1374.1,1773.3 L1368.2,1776.7 L1363.2,1775.7 L1352.4,1775.3 L1344.5,1770.8 L1338.5,1766.4 L1332.6,1762.5 L1327.7,1761.5 L1322.7,1760 L1317.8,1758.5 L1313.8,1755.6 L1308.9,1750.2 L1303,1749.7 L1296.5,1751.6 L1292.1,1748.2 L1288.1,1743.3 L1281.2,1745.7 L1277.3,1740.8 L1272.8,1733.4 L1269.4,1741.8 L1266.9,1740.8 L1262.4,1741.3 L1255.5,1736.9 L1252.6,1735.4 L1246.6,1730 L1243.7,1726.6 L1240.7,1723.6 L1237.8,1719.7 L1234.8,1718.7 L1228.9,1720.2 L1225,1722.2 L1219,1731.5 L1216.1,1734.5 L1207.2,1734 L1203.2,1731 L1200.3,1729.6 L1197.3,1717.8 L1193.3,1705 L1189.4,1692.2 L1186.4,1686.3 L1184,1673.5 L1179.5,1665.6 L1175.6,1657.7 L1172.6,1656.7 L1169.6,1653.8 L1164.7,1650.3 L1160.7,1648.4 L1158.8,1643.9 L1155.8,1628.2 L1152.3,1613.4 L1146.4,1632.1 L1143,1625.3 L1138,1624.8 L1133.1,1620.3 L1129.1,1616.4 L1124.2,1616.4 L1120.2,1610.8 L1117.2,1608.3 L1114.3,1607.8 L1108.3,1602.9 L1105.4,1595.1 L1102.9,1590.6 L1099.4,1594.1 L1095.5,1597 L1089.6,1595.5 L1085.6,1592.1 L1081.2,1582.7 L1078.7,1587.7 L1075.7,1591.1 L1072.8,1591.6 L1067.8,1587.2 L1063.4,1582.7 L1059.9,1582.3 L1056.5,1580.8 L1053,1566.5 L1048.6,1579.3 L1045.1,1576.8 L1041.2,1581.3 L1038.2,1579.3 L1035.2,1578.3 L1032.8,1577.3 L1030.8,1583.2 L1028.8,1580.3 L1027.8,1558.6 L1026.3,1532.1 L1024.8,1515.3 L1023.4,1518.3 L1020.9,1528.1 L1018.9,1536.5 L1016.9,1538.5 L1015,1533.1 L1012.5,1528.1 L1010.5,1526.7 L1009.5,1526.2 L1005.6,1543.9 L1000.6,1556.7 L996.7,1566.5 L993.7,1567 L990.7,1565 L987.8,1563.6 L983.8,1566 L977.9,1568 L974.9,1568.5 L970,1567.5 L966,1566 L964.1,1566.5 L961.1,1564.5 L958.1,1563.6 L955.2,1559.6 L953.2,1558.6 L949.3,1555.7 L945.3,1553.7 L941.3,1551.3 L937.4,1546.3 L934.4,1544.4 L928.5,1542.9 L923.6,1541.4 L919.6,1537 L915.7,1532.1 L912.7,1529.6 L906.8,1528.6 L903.8,1527.1 L899.9,1522.7 L898.4,1523.7 L894.9,1518.3 L892.4,1517.3 L889.5,1514.4 L884,1513.9 L881.6,1509.4 L880.1,1501.6 L878.3,1488.8 L876.1,1499.6 L873.7,1514.4 L871.2,1515.3 L869.7,1514.4 L867.7,1508.5 L865.8,1502.1 L864.3,1501.6 L862.8,1510.4 L861.5,1522.2 Z" fill="#efebea"/>
<g clip-path="url(#wH)"><g filter="url(#blurR)"><path d="M871.6,1429.1 L873.5,1474.1 L873.5,1858 L871.6,1903 L869.6,1858 L869.6,1474.1 Z" fill="#e9e1df"/><path d="M895.5,1690.1 L897.4,1735.1 L897.4,1840.1 L895.5,1885.1 L893.7,1840.1 L893.7,1735.1 Z" fill="#dfe3e6"/><path d="M912,1429.1 L913.4,1474.1 L913.4,1858 L912,1903 L910.6,1858 L910.6,1474.1 Z" fill="#e9e1df"/><path d="M919.6,1429.1 L921.8,1451.9 L921.8,1482.2 L919.6,1505 L917.4,1482.2 L917.4,1451.9 Z" fill="#e9e1df"/><path d="M940,1429.1 L942.1,1449 L942.1,1475.6 L940,1495.6 L937.9,1475.6 L937.9,1449 Z" fill="#dfe3e6"/><path d="M949.1,1429.1 L951.5,1474.1 L951.5,1858 L949.1,1903 L946.6,1858 L946.6,1474.1 Z" fill="#d6dce0"/><path d="M958.1,1615.9 L960.4,1660.9 L960.4,1790.3 L958.1,1835.3 L955.9,1790.3 L955.9,1660.9 Z" fill="#dfe3e6"/><path d="M991.7,1429.1 L993.9,1468.8 L993.9,1521.8 L991.7,1561.5 L989.6,1521.8 L989.6,1468.8 Z" fill="#cdd8de"/><path d="M1064.7,1429.1 L1066.9,1474.1 L1066.9,1858 L1064.7,1903 L1062.5,1858 L1062.5,1474.1 Z" fill="#e9e1df"/><path d="M1091,1429.1 L1092.9,1474.1 L1092.9,1585 L1091,1630 L1089,1585 L1089,1474.1 Z" fill="#dfe3e6"/><path d="M1099.8,1429.1 L1102.2,1474.1 L1102.2,1858 L1099.8,1903 L1097.4,1858 L1097.4,1474.1 Z" fill="#e9e1df"/><path d="M1124,1429.1 L1125.1,1474.1 L1125.1,1663.5 L1124,1708.5 L1122.9,1663.5 L1122.9,1474.1 Z" fill="#e9e1df"/><path d="M1130,1583.4 L1131,1628.4 L1131,1858 L1130,1903 L1128.9,1858 L1128.9,1628.4 Z" fill="#cdd8de"/><path d="M1164.4,1429.1 L1165.8,1474.1 L1165.8,1549.5 L1164.4,1594.5 L1162.9,1549.5 L1162.9,1474.1 Z" fill="#cdd8de"/><path d="M1182.4,1618 L1183.1,1663 L1183.1,1726 L1182.4,1771 L1181.6,1726 L1181.6,1663 Z" fill="#d6dce0"/><path d="M1201.5,1429.1 L1203.9,1474.1 L1203.9,1858 L1201.5,1903 L1199.1,1858 L1199.1,1474.1 Z" fill="#dfe3e6"/><path d="M1210,1604.1 L1211.5,1649.1 L1211.5,1858 L1210,1903 L1208.4,1858 L1208.4,1649.1 Z" fill="#e9e1df"/><path d="M1220,1638.3 L1221.8,1680.3 L1221.8,1736.4 L1220,1778.4 L1218.1,1736.4 L1218.1,1680.3 Z" fill="#dfe3e6"/><path d="M1241.1,1429.1 L1242.4,1474.1 L1242.4,1858 L1241.1,1903 L1239.7,1858 L1239.7,1474.1 Z" fill="#d6dce0"/><path d="M1249.8,1636.9 L1251.5,1681.9 L1251.5,1858 L1249.8,1903 L1248.1,1858 L1248.1,1681.9 Z" fill="#e9e1df"/><path d="M1255.8,1429.1 L1258.1,1474.1 L1258.1,1858 L1255.8,1903 L1253.5,1858 L1253.5,1474.1 Z" fill="#e9e1df"/><path d="M1310.3,1611.7 L1312.1,1656.7 L1312.1,1858 L1310.3,1903 L1308.4,1858 L1308.4,1656.7 Z" fill="#cdd8de"/><path d="M1329.1,1429.1 L1330.3,1474.1 L1330.3,1603 L1329.1,1648 L1328,1603 L1328,1474.1 Z" fill="#dfe3e6"/><path d="M1346.1,1429.1 L1348.4,1474.1 L1348.4,1858 L1346.1,1903 L1343.8,1858 L1343.8,1474.1 Z" fill="#dfe3e6"/><path d="M1354.9,1472.5 L1355.8,1517.5 L1355.8,1858 L1354.9,1903 L1354,1858 L1354,1517.5 Z" fill="#d6dce0"/><path d="M1360.8,1556.1 L1361.8,1600.4 L1361.8,1659.4 L1360.8,1703.7 L1359.8,1659.4 L1359.8,1600.4 Z" fill="#e9e1df"/><path d="M1376.6,1686.7 L1378.8,1731.7 L1378.8,1940.6 L1376.6,1985.6 L1374.4,1940.6 L1374.4,1731.7 Z" fill="#cdd8de"/><path d="M1414.1,1429.1 L1416.3,1474.1 L1416.3,1556.3 L1414.1,1601.3 L1411.8,1556.3 L1411.8,1474.1 Z" fill="#e9e1df"/><path d="M1433.7,1588.2 L1435,1633.2 L1435,1858 L1433.7,1903 L1432.3,1858 L1432.3,1633.2 Z" fill="#e9e1df"/><path d="M1450,1691.7 L1451.7,1736.7 L1451.7,1858 L1450,1903 L1448.4,1858 L1448.4,1736.7 Z" fill="#e9e1df"/><path d="M1491.2,1535.3 L1492.4,1580.3 L1492.4,1641 L1491.2,1686 L1490.1,1641 L1490.1,1580.3 Z" fill="#dfe3e6"/><rect x="860" y="1449.1" width="320" height="433.9" fill="#f1e4e0"/><path d="M1476.9,1419.1 L1489.6,1449.1 L1489.6,1883 L1476.9,1913 L1464.1,1883 L1464.1,1449.1 Z" fill="#d2d9de"/><path d="M1421.7,1419.1 L1430.2,1449.1 L1430.2,1883 L1421.7,1913 L1413.2,1883 L1413.2,1449.1 Z" fill="#d2d9de"/><path d="M1363.4,1419.1 L1370.8,1449.1 L1370.8,1883 L1363.4,1913 L1356,1883 L1356,1449.1 Z" fill="#d2d9de"/><path d="M1344.3,1419.1 L1356,1449.1 L1356,1616.8 L1344.3,1646.8 L1332.7,1616.8 L1332.7,1449.1 Z" fill="#d2d9de"/><path d="M1330.6,1547.2 L1334.8,1577.2 L1334.8,1883 L1330.6,1913 L1326.3,1883 L1326.3,1577.2 Z" fill="#d2d9de"/><path d="M1318.9,1419.1 L1326.3,1449.1 L1326.3,1883 L1318.9,1913 L1311.5,1883 L1311.5,1449.1 Z" fill="#d2d9de"/><path d="M1293.4,1419.1 L1298.7,1449.1 L1298.7,1883 L1293.4,1913 L1288.1,1883 L1288.1,1449.1 Z" fill="#d2d9de"/><path d="M1246.8,1419.1 L1275.4,1449.1 L1275.4,1883 L1246.8,1913 L1218.2,1883 L1218.2,1449.1 Z" fill="#d2d9de"/><path d="M1188.5,1419.1 L1192.7,1449.1 L1192.7,1883 L1188.5,1913 L1184.2,1883 L1184.2,1449.1 Z" fill="#d2d9de"/><path d="M1137.3,1419.1 L1142.3,1449.1 L1142.3,1883 L1137.3,1913 L1132.4,1883 L1132.4,1449.1 Z" fill="#d2d9de"/><path d="M1102.8,1419.1 L1104.8,1449.1 L1104.8,1883 L1102.8,1913 L1100.8,1883 L1100.8,1449.1 Z" fill="#d2d9de"/><path d="M953.8,1419.1 L956.7,1449.1 L956.7,1883 L953.8,1913 L950.8,1883 L950.8,1449.1 Z" fill="#d2d9de"/><path d="M929.1,1419.1 L931.1,1449.1 L931.1,1883 L929.1,1913 L927.1,1883 L927.1,1449.1 Z" fill="#d2d9de"/><path d="M863,1409.1 L867.7,1436.3 L867.7,1488.1 L863,1515.3 L858.2,1488.1 L858.2,1436.3 Z" fill="#eed4ce"/><path d="M870.9,1409.1 L875.6,1437.9 L875.6,1494.4 L870.9,1523.2 L866.1,1494.4 L866.1,1437.9 Z" fill="#f0dad4"/><path d="M877.3,1409.1 L881.2,1433.2 L881.2,1475.5 L877.3,1499.6 L873.3,1475.5 L873.3,1433.2 Z" fill="#a8c2e0"/><path d="M881.7,1409.1 L884.9,1437.9 L884.9,1494.4 L881.7,1523.2 L878.6,1494.4 L878.6,1437.9 Z" fill="#eac2b6"/><path d="M899.5,1409.1 L912.1,1440.3 L912.1,1503.9 L899.5,1535.1 L886.8,1503.9 L886.8,1440.3 Z" fill="#eed4ce"/><path d="M899,1409.1 L904.5,1439.1 L904.5,1499.2 L899,1529.2 L893.5,1499.2 L893.5,1439.1 Z" fill="#eac2ba"/><path d="M918.2,1409.1 L929.3,1444.2 L929.3,1519.7 L918.2,1554.8 L907.2,1519.7 L907.2,1444.2 Z" fill="#f3e0da"/><path d="M935,1409.1 L938.2,1440.3 L938.2,1503.9 L935,1535.1 L931.9,1503.9 L931.9,1440.3 Z" fill="#bad4e8"/><path d="M943.9,1409.1 L951.8,1446.2 L951.8,1527.6 L943.9,1564.7 L936,1527.6 L936,1446.2 Z" fill="#f0d8d1"/><path d="M966.6,1409.1 L979.2,1448.2 L979.2,1535.5 L966.6,1574.6 L954,1535.5 L954,1448.2 Z" fill="#f0d6ce"/><path d="M981.4,1409.1 L989.3,1448.2 L989.3,1535.5 L981.4,1574.6 L973.5,1535.5 L973.5,1448.2 Z" fill="#eed4ce"/><path d="M992.3,1409.1 L998.6,1448.2 L998.6,1535.5 L992.3,1574.6 L985.9,1535.5 L985.9,1448.2 Z" fill="#f5ece8"/><path d="M1004.1,1409.1 L1013.6,1445.4 L1013.6,1524.4 L1004.1,1560.7 L994.6,1524.4 L994.6,1445.4 Z" fill="#a9c7e6"/><path d="M1015,1409.1 L1019.7,1442.3 L1019.7,1511.8 L1015,1545 L1010.2,1511.8 L1010.2,1442.3 Z" fill="#f5ece8"/><path d="M1021.4,1409.1 L1026.9,1438.3 L1026.9,1496 L1021.4,1525.2 L1015.8,1496 L1015.8,1438.3 Z" fill="#a8bcdd"/><path d="M1028.8,1409.1 L1033.5,1449.1 L1033.5,1548.4 L1028.8,1588.4 L1024,1548.4 L1024,1449.1 Z" fill="#daa7aa"/><path d="M1033.7,1515.1 L1036.9,1535.7 L1036.9,1567.7 L1033.7,1588.4 L1030.5,1567.7 L1030.5,1535.7 Z" fill="#afcde8"/><path d="M1040.6,1409.1 L1045.4,1449.1 L1045.4,1548.4 L1040.6,1588.4 L1035.9,1548.4 L1035.9,1449.1 Z" fill="#ecccc2"/><path d="M1045.6,1409.1 L1048.7,1449.1 L1048.7,1548.4 L1045.6,1588.4 L1042.4,1548.4 L1042.4,1449.1 Z" fill="#bad4e8"/><path d="M1054.4,1485.5 L1062.3,1512.1 L1062.3,1561.8 L1054.4,1588.4 L1046.5,1561.8 L1046.5,1512.1 Z" fill="#eabcb4"/><path d="M1054.9,1495.3 L1058.9,1517.2 L1058.9,1552.7 L1054.9,1574.6 L1051,1552.7 L1051,1517.2 Z" fill="#e2aeab"/><path d="M1062.3,1409.1 L1067.1,1449.1 L1067.1,1554.3 L1062.3,1594.3 L1057.6,1554.3 L1057.6,1449.1 Z" fill="#f5ece8"/><path d="M1072.2,1409.1 L1080.1,1449.1 L1080.1,1560.2 L1072.2,1600.2 L1064.3,1560.2 L1064.3,1449.1 Z" fill="#f0d8d1"/><path d="M1088,1485.5 L1099,1515.2 L1099,1574.4 L1088,1604.2 L1076.9,1574.4 L1076.9,1515.2 Z" fill="#f1ded8"/><path d="M1114.6,1409.1 L1127.3,1449.1 L1127.3,1574 L1114.6,1614 L1102,1574 L1102,1449.1 Z" fill="#f2e0da"/><path d="M1153.1,1409.1 L1161,1449.1 L1161,1574 L1153.1,1614 L1145.2,1574 L1145.2,1449.1 Z" fill="#a8bcdd"/><path d="M1153.1,1521 L1157.2,1536.5 L1157.2,1553.1 L1153.1,1568.6 L1149,1553.1 L1149,1536.5 Z" fill="#a6b6d4"/><path d="M1161,1564.4 L1165.8,1588.3 L1165.8,1629.7 L1161,1653.5 L1156.3,1629.7 L1156.3,1588.3 Z" fill="#f2e0da"/><path d="M1174,1409.1 L1183.6,1449.1 L1183.6,1603.7 L1174,1643.7 L1164.3,1603.7 L1164.3,1449.1 Z" fill="#dde8ed"/><path d="M1182.1,1409.1 L1185.5,1449.1 L1185.5,1595.6 L1182.1,1635.6 L1178.7,1595.6 L1178.7,1449.1 Z" fill="#c8dde8"/><path d="M1199.1,1615.6 L1202.5,1638.4 L1202.5,1676.5 L1199.1,1699.2 L1195.7,1676.5 L1195.7,1638.4 Z" fill="#f7edea"/><path d="M1236.2,1573.2 L1241.3,1602.3 L1241.3,1659.6 L1236.2,1688.6 L1231.1,1659.6 L1231.1,1602.3 Z" fill="#dae6ed"/><path d="M1253.2,1530.8 L1261.6,1566.3 L1261.6,1642.6 L1253.2,1678 L1244.7,1642.6 L1244.7,1566.3 Z" fill="#dae6ed"/><path d="M1281.8,1520.2 L1285.2,1555.7 L1285.2,1632 L1281.8,1667.4 L1278.4,1632 L1278.4,1555.7 Z" fill="#f5ece8"/><path d="M1374,1409.1 L1379.1,1449.1 L1379.1,1883 L1374,1923 L1368.9,1883 L1368.9,1449.1 Z" fill="#e0e9ed"/><path d="M1384.6,1626.2 L1389.7,1663.8 L1389.7,1746.5 L1384.6,1784.1 L1379.5,1746.5 L1379.5,1663.8 Z" fill="#f4e6e1"/><path d="M1436.6,1658 L1446.8,1693.5 L1446.8,1769.8 L1436.6,1805.3 L1426.4,1769.8 L1426.4,1693.5 Z" fill="#f2e0da"/><path d="M1449.3,1636.8 L1459.5,1676.8 L1459.5,1839.5 L1449.3,1879.5 L1439.1,1839.5 L1439.1,1676.8 Z" fill="#c0d9e8"/><path d="M1459.9,1530.8 L1470.1,1570.8 L1470.1,1680.5 L1459.9,1720.5 L1449.7,1680.5 L1449.7,1570.8 Z" fill="#f1ddd7"/><path d="M1463.1,1711.1 L1475,1750.7 L1475,1839.8 L1463.1,1879.5 L1451.2,1839.8 L1451.2,1750.7 Z" fill="#deeaf0"/><path d="M1482.2,1689.9 L1499.1,1729.9 L1499.1,1839.5 L1482.2,1879.5 L1465.2,1839.5 L1465.2,1729.9 Z" fill="#cce0eb"/><path d="M1482.2,1742.9 L1490.6,1776.2 L1490.6,1846.2 L1482.2,1879.5 L1473.7,1846.2 L1473.7,1776.2 Z" fill="#c1dae9"/><path d="M1495.8,1530.8 L1502.5,1570.8 L1502.5,1839.5 L1495.8,1879.5 L1489.2,1839.5 L1489.2,1570.8 Z" fill="#edccc2"/><path d="M1496.5,1700.5 L1500.7,1740.5 L1500.7,1839.5 L1496.5,1879.5 L1492.2,1839.5 L1492.2,1740.5 Z" fill="#eac0b4"/><path d="M863,1424.1 L865.5,1441.3 L865.5,1483.1 L863,1500.3 L860.5,1483.1 L860.5,1441.3 Z" fill="#d49080"/><path d="M870.9,1424.1 L873.4,1442.9 L873.4,1489.4 L870.9,1508.2 L868.4,1489.4 L868.4,1442.9 Z" fill="#d9a090"/><path d="M877.3,1424.1 L879.7,1438.2 L879.7,1470.5 L877.3,1484.6 L874.8,1470.5 L874.8,1438.2 Z" fill="#1c5fb0"/><path d="M881.7,1424.1 L883.7,1442.9 L883.7,1489.4 L881.7,1508.2 L879.7,1489.4 L879.7,1442.9 Z" fill="#c86040"/><path d="M899.5,1424.1 L906.1,1445.3 L906.1,1498.9 L899.5,1520.1 L892.8,1498.9 L892.8,1445.3 Z" fill="#d49080"/><path d="M899,1424.1 L901.9,1444.1 L901.9,1494.2 L899,1514.2 L896.1,1494.2 L896.1,1444.1 Z" fill="#c8604a"/><path d="M918.2,1424.1 L924,1449.2 L924,1514.7 L918.2,1539.8 L912.4,1514.7 L912.4,1449.2 Z" fill="#e0b0a0"/><path d="M935,1424.1 L937,1445.3 L937,1498.9 L935,1520.1 L933,1498.9 L933,1445.3 Z" fill="#4a8fc4"/><path d="M943.9,1424.1 L948,1451.2 L948,1522.6 L943.9,1549.7 L939.7,1522.6 L939.7,1451.2 Z" fill="#d89a88"/><path d="M966.6,1424.1 L973.2,1453.2 L973.2,1530.5 L966.6,1559.6 L960,1530.5 L960,1453.2 Z" fill="#d8947f"/><path d="M981.4,1424.1 L985.5,1453.2 L985.5,1530.5 L981.4,1559.6 L977.3,1530.5 L977.3,1453.2 Z" fill="#d49080"/><path d="M992.3,1424.1 L995.6,1453.2 L995.6,1530.5 L992.3,1559.6 L988.9,1530.5 L988.9,1453.2 Z" fill="#e6cdc4"/><path d="M1004.1,1424.1 L1009.1,1450.4 L1009.1,1519.4 L1004.1,1545.7 L999.1,1519.4 L999.1,1450.4 Z" fill="#1f6cbf"/><path d="M1015,1424.1 L1017.5,1447.3 L1017.5,1506.8 L1015,1530 L1012.5,1506.8 L1012.5,1447.3 Z" fill="#e6cdc4"/><path d="M1021.4,1424.1 L1024.3,1443.3 L1024.3,1491 L1021.4,1510.2 L1018.5,1491 L1018.5,1443.3 Z" fill="#1c50a8"/><path d="M1028.8,1424.1 L1031.3,1454.1 L1031.3,1543.4 L1028.8,1573.4 L1026.3,1543.4 L1026.3,1454.1 Z" fill="#a01a20"/><path d="M1033.7,1530.1 L1035.7,1540.7 L1035.7,1562.7 L1033.7,1573.4 L1031.7,1562.7 L1031.7,1540.7 Z" fill="#2f7cc4"/><path d="M1040.6,1424.1 L1043.1,1454.1 L1043.1,1543.4 L1040.6,1573.4 L1038.1,1543.4 L1038.1,1454.1 Z" fill="#cf7a60"/><path d="M1045.6,1424.1 L1047.5,1454.1 L1047.5,1543.4 L1045.6,1573.4 L1043.6,1543.4 L1043.6,1454.1 Z" fill="#4a8fc4"/><path d="M1054.4,1500.5 L1058.6,1517.1 L1058.6,1556.8 L1054.4,1573.4 L1050.3,1556.8 L1050.3,1517.1 Z" fill="#c8503a"/><path d="M1054.9,1510.3 L1057.4,1522.2 L1057.4,1547.7 L1054.9,1559.6 L1052.5,1547.7 L1052.5,1522.2 Z" fill="#b52a22"/><path d="M1062.3,1424.1 L1064.8,1454.1 L1064.8,1549.3 L1062.3,1579.3 L1059.8,1549.3 L1059.8,1454.1 Z" fill="#e6cdc4"/><path d="M1072.2,1424.1 L1076.3,1454.1 L1076.3,1555.2 L1072.2,1585.2 L1068.1,1555.2 L1068.1,1454.1 Z" fill="#d89a88"/><path d="M1088,1500.5 L1093.8,1520.2 L1093.8,1569.4 L1088,1589.2 L1082.2,1569.4 L1082.2,1520.2 Z" fill="#dcaa9a"/><path d="M1114.6,1424.1 L1121.3,1454.1 L1121.3,1569 L1114.6,1599 L1108,1569 L1108,1454.1 Z" fill="#ddb0a0"/><path d="M1153.1,1424.1 L1157.3,1454.1 L1157.3,1569 L1153.1,1599 L1149,1569 L1149,1454.1 Z" fill="#1c50a8"/><path d="M1153.1,1536 L1155.6,1541.5 L1155.6,1548.1 L1153.1,1553.6 L1150.6,1548.1 L1150.6,1541.5 Z" fill="#163f90"/><path d="M1161,1579.4 L1163.5,1593.3 L1163.5,1624.7 L1161,1638.5 L1158.5,1624.7 L1158.5,1593.3 Z" fill="#dfb0a0"/><path d="M1174,1424.1 L1179,1454.1 L1179,1598.7 L1174,1628.7 L1168.9,1598.7 L1168.9,1454.1 Z" fill="#a8c4d2"/><path d="M1182.1,1424.1 L1184.2,1454.1 L1184.2,1590.6 L1182.1,1620.6 L1180,1590.6 L1180,1454.1 Z" fill="#6fa6c4"/><path d="M1199.1,1630.6 L1201.2,1643.4 L1201.2,1671.5 L1199.1,1684.2 L1197,1671.5 L1197,1643.4 Z" fill="#ead2ca"/><path d="M1236.2,1588.2 L1238.9,1607.3 L1238.9,1654.6 L1236.2,1673.6 L1233.5,1654.6 L1233.5,1607.3 Z" fill="#9ebfd0"/><path d="M1253.2,1545.8 L1257.6,1571.3 L1257.6,1637.6 L1253.2,1663 L1248.7,1637.6 L1248.7,1571.3 Z" fill="#9ebfd0"/><path d="M1281.8,1535.2 L1283.9,1560.7 L1283.9,1627 L1281.8,1652.4 L1279.7,1627 L1279.7,1560.7 Z" fill="#e6cdc4"/><path d="M1374,1424.1 L1376.7,1454.1 L1376.7,1878 L1374,1908 L1371.3,1878 L1371.3,1454.1 Z" fill="#b0c6d2"/><path d="M1384.6,1641.2 L1387.3,1668.8 L1387.3,1741.5 L1384.6,1769.1 L1382,1741.5 L1382,1668.8 Z" fill="#e3bfb2"/><path d="M1436.6,1673 L1441.9,1698.5 L1441.9,1764.8 L1436.6,1790.3 L1431.2,1764.8 L1431.2,1698.5 Z" fill="#dfb0a0"/><path d="M1449.3,1651.8 L1454.6,1681.8 L1454.6,1834.5 L1449.3,1864.5 L1444,1834.5 L1444,1681.8 Z" fill="#5a9cc4"/><path d="M1459.9,1545.8 L1465.2,1575.8 L1465.2,1675.5 L1459.9,1705.5 L1454.6,1675.5 L1454.6,1575.8 Z" fill="#dca898"/><path d="M1463.1,1726.1 L1469.3,1755.7 L1469.3,1834.8 L1463.1,1864.5 L1456.8,1834.8 L1456.8,1755.7 Z" fill="#a9c9d8"/><path d="M1482.2,1704.9 L1491.1,1734.9 L1491.1,1834.5 L1482.2,1864.5 L1473.3,1834.5 L1473.3,1734.9 Z" fill="#7aaecb"/><path d="M1482.2,1757.9 L1486.6,1781.2 L1486.6,1841.2 L1482.2,1864.5 L1477.7,1841.2 L1477.7,1781.2 Z" fill="#5e9fc6"/><path d="M1495.8,1545.8 L1499.3,1575.8 L1499.3,1834.5 L1495.8,1864.5 L1492.4,1834.5 L1492.4,1575.8 Z" fill="#d07a60"/><path d="M1496.5,1715.5 L1499,1745.5 L1499,1834.5 L1496.5,1864.5 L1494,1834.5 L1494,1745.5 Z" fill="#c85a3a"/></g></g>
<path d="M861.5,1522.2 L862.8,1510.4 L864.3,1501.6 L865.8,1502.1 L867.7,1508.5 L869.7,1514.4 L871.2,1515.3 L873.7,1514.4 L876.1,1499.6 L878.3,1488.8 L880.1,1501.6 L881.6,1509.4 L884,1513.9 L889.5,1514.4 L892.4,1517.3 L894.9,1518.3 L898.4,1523.7 L899.9,1522.7 L903.8,1527.1 L906.8,1528.6 L912.7,1529.6 L915.7,1532.1 L919.6,1537 L923.6,1541.4 L928.5,1542.9 L934.4,1544.4 L937.4,1546.3 L941.3,1551.3 L945.3,1553.7 L949.3,1555.7 L953.2,1558.6 L955.2,1559.6 L958.1,1563.6 L961.1,1564.5 L964.1,1566.5 L966,1566 L970,1567.5 L974.9,1568.5 L977.9,1568 L983.8,1566 L987.8,1563.6 L990.7,1565 L993.7,1567 L996.7,1566.5 L1000.6,1556.7 L1005.6,1543.9 L1009.5,1526.2 L1010.5,1526.7 L1012.5,1528.1 L1015,1533.1 L1016.9,1538.5 L1018.9,1536.5 L1020.9,1528.1 L1023.4,1518.3 L1024.8,1515.3 L1026.3,1532.1 L1027.8,1558.6 L1028.8,1580.3 L1030.8,1583.2 L1032.8,1577.3 L1035.2,1578.3 L1038.2,1579.3 L1041.2,1581.3 L1045.1,1576.8 L1048.6,1579.3 L1053,1566.5 L1056.5,1580.8 L1059.9,1582.3 L1063.4,1582.7 L1067.8,1587.2 L1072.8,1591.6 L1075.7,1591.1 L1078.7,1587.7 L1081.2,1582.7 L1085.6,1592.1 L1089.6,1595.5 L1095.5,1597 L1099.4,1594.1 L1102.9,1590.6 L1105.4,1595.1 L1108.3,1602.9 L1114.3,1607.8 L1117.2,1608.3 L1120.2,1610.8 L1124.2,1616.4 L1129.1,1616.4 L1133.1,1620.3 L1138,1624.8 L1143,1625.3 L1146.4,1632.1 L1152.3,1613.4 L1155.8,1628.2 L1158.8,1643.9 L1160.7,1648.4 L1164.7,1650.3 L1169.6,1653.8 L1172.6,1656.7 L1175.6,1657.7 L1179.5,1665.6 L1184,1673.5 L1186.4,1686.3 L1189.4,1692.2 L1193.3,1705 L1197.3,1717.8 L1200.3,1729.6 L1203.2,1731 L1207.2,1734 L1216.1,1734.5 L1219,1731.5 L1225,1722.2 L1228.9,1720.2 L1234.8,1718.7 L1237.8,1719.7 L1240.7,1723.6 L1243.7,1726.6 L1246.6,1730 L1252.6,1735.4 L1255.5,1736.9 L1262.4,1741.3 L1266.9,1740.8 L1269.4,1741.8 L1272.8,1733.4 L1277.3,1740.8 L1281.2,1745.7 L1288.1,1743.3 L1292.1,1748.2 L1296.5,1751.6 L1303,1749.7 L1308.9,1750.2 L1313.8,1755.6 L1317.8,1758.5 L1322.7,1760 L1327.7,1761.5 L1332.6,1762.5 L1338.5,1766.4 L1344.5,1770.8 L1352.4,1775.3 L1363.2,1775.7 L1368.2,1776.7 L1374.1,1773.3 L1378,1775.3 L1380.8,1779.8 L1383,1783.1 L1384.3,1784.1 L1389.4,1789.2 L1394.6,1788.8 L1398,1789.2 L1404,1786.6 L1406.6,1787.5 L1410.9,1784.5 L1414.3,1784.9 L1418.6,1786.6 L1422.1,1792.6 L1425.5,1796.5 L1429.8,1794.8 L1432.4,1798.6 L1436.6,1794.3 L1440.9,1784.9 L1444.4,1771.2 L1446.5,1759.3 L1451.7,1759.3 L1455.5,1769.5 L1460.7,1785.8 L1465.8,1805.5 L1470.1,1826.8 L1474.4,1841.4 L1480.4,1854.2 L1485.6,1864.5 L1488.6,1870.9 L1493.8,1885.4 L1498.5,1871.3 L1501.1,1861.1 L1501.9,1856.8" fill="none" stroke="#303030" stroke-width="1.4" stroke-linejoin="round"/>
</g>
<rect x="861.5" y="1459.1" width="639.2" height="413.9" fill="none" stroke="#6e6e6e" stroke-width="1.4"/><path d="M982.6,1459.1v8M982.6,1873v-8M1103.7,1459.1v8M1103.7,1873v-8M1224.8,1459.1v8M1224.8,1873v-8M1345.9,1459.1v8M1345.9,1873v-8M1467,1459.1v8M1467,1873v-8M861.5,1528.1h8M1500.7,1528.1h-8M861.5,1597.1h8M1500.7,1597.1h-8M861.5,1666h8M1500.7,1666h-8M861.5,1735h8M1500.7,1735h-8M861.5,1804h8M1500.7,1804h-8" stroke="#444" stroke-width="1.5" fill="none"/>
<rect x="1509.9" y="1459" width="31.8" height="414.2" fill="url(#gBal)" stroke="#6e6e6e" stroke-width="1.4"/><path d="M1541.7,1562.5h-4M1541.7,1666.1h-4M1541.7,1769.7h-4" stroke="#555" stroke-width="1.2" fill="none"/>
<text transform="translate(75.3 67.7) scale(1 1.12)" font-family='"Liberation Sans", Arial, Helvetica, sans-serif' font-size="30" text-anchor="end" fill="#1a1a1a">0</text><text transform="translate(75.3 136.8) scale(1 1.12)" font-family='"Liberation Sans", Arial, Helvetica, sans-serif' font-size="30" text-anchor="end" fill="#1a1a1a">5</text><text transform="translate(75.3 205.8) scale(1 1.12)" font-family='"Liberation Sans", Arial, Helvetica, sans-serif' font-size="30" text-anchor="end" fill="#1a1a1a">10</text><text transform="translate(75.3 274.9) scale(1 1.12)" font-family='"Liberation Sans", Arial, Helvetica, sans-serif' font-size="30" text-anchor="end" fill="#1a1a1a">15</text><text transform="translate(75.3 343.9) scale(1 1.12)" font-family='"Liberation Sans", Arial, Helvetica, sans-serif' font-size="30" text-anchor="end" fill="#1a1a1a">20</text><text transform="translate(75.3 412.9) scale(1 1.12)" font-family='"Liberation Sans", Arial, Helvetica, sans-serif' font-size="30" text-anchor="end" fill="#1a1a1a">25</text><text transform="translate(75.3 482) scale(1 1.12)" font-family='"Liberation Sans", Arial, Helvetica, sans-serif' font-size="30" text-anchor="end" fill="#1a1a1a">30</text><text transform="translate(766.9 65.5) scale(1 1.12)" font-family='"Liberation Sans", Arial, Helvetica, sans-serif' font-size="30" text-anchor="start" fill="#1a1a1a">0.1</text><text transform="translate(766.9 143.8) scale(1 1.12)" font-family='"Liberation Sans", Arial, Helvetica, sans-serif' font-size="30" text-anchor="start" fill="#1a1a1a">0.08</text><text transform="translate(766.9 222.7) scale(1 1.12)" font-family='"Liberation Sans", Arial, Helvetica, sans-serif' font-size="30" text-anchor="start" fill="#1a1a1a">0.06</text><text transform="translate(766.9 301.1) scale(1 1.12)" font-family='"Liberation Sans", Arial, Helvetica, sans-serif' font-size="30" text-anchor="start" fill="#1a1a1a">0.04</text><text transform="translate(766.9 380) scale(1 1.12)" font-family='"Liberation Sans", Arial, Helvetica, sans-serif' font-size="30" text-anchor="start" fill="#1a1a1a">0.02</text><text transform="translate(766.9 457.2) scale(1 1.12)" font-family='"Liberation Sans", Arial, Helvetica, sans-serif' font-size="30" text-anchor="start" fill="#1a1a1a">0</text><text x="80.7" y="33.3" font-family='"Liberation Sans", Arial, Helvetica, sans-serif' font-size="35" font-weight="bold" text-anchor="start" fill="#1a1a1a">A</text><text transform="translate(79.6 533.7) scale(1 1.12)" font-family='"Liberation Sans", Arial, Helvetica, sans-serif' font-size="30" text-anchor="end" fill="#1a1a1a">0</text><text transform="translate(79.6 602.7) scale(1 1.12)" font-family='"Liberation Sans", Arial, Helvetica, sans-serif' font-size="30" text-anchor="end" fill="#1a1a1a">5</text><text transform="translate(79.6 671.7) scale(1 1.12)" font-family='"Liberation Sans", Arial, Helvetica, sans-serif' font-size="30" text-anchor="end" fill="#1a1a1a">10</text><text transform="translate(79.6 740.8) scale(1 1.12)" font-family='"Liberation Sans", Arial, Helvetica, sans-serif' font-size="30" text-anchor="end" fill="#1a1a1a">15</text><text transform="translate(79.6 809.8) scale(1 1.12)" font-family='"Liberation Sans", Arial, Helvetica, sans-serif' font-size="30" text-anchor="end" fill="#1a1a1a">20</text><text transform="translate(79.6 878.8) scale(1 1.12)" font-family='"Liberation Sans", Arial, Helvetica, sans-serif' font-size="30" text-anchor="end" fill="#1a1a1a">25</text><text transform="translate(79.6 947.8) scale(1 1.12)" font-family='"Liberation Sans", Arial, Helvetica, sans-serif' font-size="30" text-anchor="end" fill="#1a1a1a">30</text><text transform="translate(768.1 534.5) scale(1 1.12)" font-family='"Liberation Sans", Arial, Helvetica, sans-serif' font-size="30" text-anchor="start" fill="#1a1a1a">0.1</text><text transform="translate(768.1 616.5) scale(1 1.12)" font-family='"Liberation Sans", Arial, Helvetica, sans-serif' font-size="30" text-anchor="start" fill="#1a1a1a">0.08</text><text transform="translate(768.1 697.3) scale(1 1.12)" font-family='"Liberation Sans", Arial, Helvetica, sans-serif' font-size="30" text-anchor="start" fill="#1a1a1a">0.06</text><text transform="translate(768.1 780.5) scale(1 1.12)" font-family='"Liberation Sans", Arial, Helvetica, sans-serif' font-size="30" text-anchor="start" fill="#1a1a1a">0.04</text><text transform="translate(768.1 862) scale(1 1.12)" font-family='"Liberation Sans", Arial, Helvetica, sans-serif' font-size="30" text-anchor="start" fill="#1a1a1a">0.02</text><text transform="translate(768.1 944) scale(1 1.12)" font-family='"Liberation Sans", Arial, Helvetica, sans-serif' font-size="30" text-anchor="start" fill="#1a1a1a">0</text><text x="82.7" y="508.8" font-family='"Liberation Sans", Arial, Helvetica, sans-serif' font-size="35" font-weight="bold" text-anchor="start" fill="#1a1a1a">B</text><text transform="translate(76.6 1004.6) scale(1 1.12)" font-family='"Liberation Sans", Arial, Helvetica, sans-serif' font-size="30" text-anchor="end" fill="#1a1a1a">0</text><text transform="translate(76.6 1073.7) scale(1 1.12)" font-family='"Liberation Sans", Arial, Helvetica, sans-serif' font-size="30" text-anchor="end" fill="#1a1a1a">5</text><text transform="translate(76.6 1142.8) scale(1 1.12)" font-family='"Liberation Sans", Arial, Helvetica, sans-serif' font-size="30" text-anchor="end" fill="#1a1a1a">10</text><text transform="translate(76.6 1211.8) scale(1 1.12)" font-family='"Liberation Sans", Arial, Helvetica, sans-serif' font-size="30" text-anchor="end" fill="#1a1a1a">15</text><text transform="translate(76.6 1280.9) scale(1 1.12)" font-family='"Liberation Sans", Arial, Helvetica, sans-serif' font-size="30" text-anchor="end" fill="#1a1a1a">20</text><text transform="translate(76.6 1350) scale(1 1.12)" font-family='"Liberation Sans", Arial, Helvetica, sans-serif' font-size="30" text-anchor="end" fill="#1a1a1a">25</text><text transform="translate(76.6 1419.1) scale(1 1.12)" font-family='"Liberation Sans", Arial, Helvetica, sans-serif' font-size="30" text-anchor="end" fill="#1a1a1a">30</text><text transform="translate(767.7 990.2) scale(1 1.12)" font-family='"Liberation Sans", Arial, Helvetica, sans-serif' font-size="30" text-anchor="start" fill="#1a1a1a">0.1</text><text transform="translate(767.7 1068.4) scale(1 1.12)" font-family='"Liberation Sans", Arial, Helvetica, sans-serif' font-size="30" text-anchor="start" fill="#1a1a1a">0.08</text><text transform="translate(767.7 1146.5) scale(1 1.12)" font-family='"Liberation Sans", Arial, Helvetica, sans-serif' font-size="30" text-anchor="start" fill="#1a1a1a">0.06</text><text transform="translate(767.7 1225.3) scale(1 1.12)" font-family='"Liberation Sans", Arial, Helvetica, sans-serif' font-size="30" text-anchor="start" fill="#1a1a1a">0.04</text><text transform="translate(767.7 1303.5) scale(1 1.12)" font-family='"Liberation Sans", Arial, Helvetica, sans-serif' font-size="30" text-anchor="start" fill="#1a1a1a">0.02</text><text transform="translate(767.7 1382.4) scale(1 1.12)" font-family='"Liberation Sans", Arial, Helvetica, sans-serif' font-size="30" text-anchor="start" fill="#1a1a1a">0</text><text x="82.7" y="977.7" font-family='"Liberation Sans", Arial, Helvetica, sans-serif' font-size="35" font-weight="bold" text-anchor="start" fill="#1a1a1a">E</text><text transform="translate(75.8 1475.8) scale(1 1.12)" font-family='"Liberation Sans", Arial, Helvetica, sans-serif' font-size="30" text-anchor="end" fill="#1a1a1a">0</text><text transform="translate(75.8 1544.5) scale(1 1.12)" font-family='"Liberation Sans", Arial, Helvetica, sans-serif' font-size="30" text-anchor="end" fill="#1a1a1a">5</text><text transform="translate(75.8 1613.1) scale(1 1.12)" font-family='"Liberation Sans", Arial, Helvetica, sans-serif' font-size="30" text-anchor="end" fill="#1a1a1a">10</text><text transform="translate(75.8 1681.8) scale(1 1.12)" font-family='"Liberation Sans", Arial, Helvetica, sans-serif' font-size="30" text-anchor="end" fill="#1a1a1a">15</text><text transform="translate(75.8 1750.4) scale(1 1.12)" font-family='"Liberation Sans", Arial, Helvetica, sans-serif' font-size="30" text-anchor="end" fill="#1a1a1a">20</text><text transform="translate(75.8 1819) scale(1 1.12)" font-family='"Liberation Sans", Arial, Helvetica, sans-serif' font-size="30" text-anchor="end" fill="#1a1a1a">25</text><text transform="translate(75.8 1887.7) scale(1 1.12)" font-family='"Liberation Sans", Arial, Helvetica, sans-serif' font-size="30" text-anchor="end" fill="#1a1a1a">30</text><text transform="translate(768.1 1474.6) scale(1 1.12)" font-family='"Liberation Sans", Arial, Helvetica, sans-serif' font-size="30" text-anchor="start" fill="#1a1a1a">0.1</text><text transform="translate(768.1 1554.1) scale(1 1.12)" font-family='"Liberation Sans", Arial, Helvetica, sans-serif' font-size="30" text-anchor="start" fill="#1a1a1a">0.08</text><text transform="translate(768.1 1632.3) scale(1 1.12)" font-family='"Liberation Sans", Arial, Helvetica, sans-serif' font-size="30" text-anchor="start" fill="#1a1a1a">0.06</text><text transform="translate(768.1 1710) scale(1 1.12)" font-family='"Liberation Sans", Arial, Helvetica, sans-serif' font-size="30" text-anchor="start" fill="#1a1a1a">0.04</text><text transform="translate(768.1 1788.2) scale(1 1.12)" font-family='"Liberation Sans", Arial, Helvetica, sans-serif' font-size="30" text-anchor="start" fill="#1a1a1a">0.02</text><text transform="translate(768.1 1866.4) scale(1 1.12)" font-family='"Liberation Sans", Arial, Helvetica, sans-serif' font-size="30" text-anchor="start" fill="#1a1a1a">0</text><text x="82.9" y="1444.9" font-family='"Liberation Sans", Arial, Helvetica, sans-serif' font-size="35" font-weight="bold" text-anchor="start" fill="#1a1a1a">F</text><text transform="translate(1548.1 64.8) scale(1 1.12)" font-family='"Liberation Sans", Arial, Helvetica, sans-serif' font-size="30" text-anchor="start" fill="#1a1a1a">0.1</text><text transform="translate(1548.1 167.5) scale(1 1.12)" font-family='"Liberation Sans", Arial, Helvetica, sans-serif' font-size="30" text-anchor="start" fill="#1a1a1a">0.05</text><text transform="translate(1548.1 272) scale(1 1.12)" font-family='"Liberation Sans", Arial, Helvetica, sans-serif' font-size="30" text-anchor="start" fill="#1a1a1a">0</text><text transform="translate(1548.1 375) scale(1 1.12)" font-family='"Liberation Sans", Arial, Helvetica, sans-serif' font-size="30" text-anchor="start" fill="#1a1a1a">-0.05</text><text transform="translate(1548.1 476.5) scale(1 1.12)" font-family='"Liberation Sans", Arial, Helvetica, sans-serif' font-size="30" text-anchor="start" fill="#1a1a1a">-0.1</text><text x="856.6" y="32.8" font-family='"Liberation Sans", Arial, Helvetica, sans-serif' font-size="35" font-weight="bold" text-anchor="start" fill="#1a1a1a">C</text><text transform="translate(1548.7 536.1) scale(1 1.12)" font-family='"Liberation Sans", Arial, Helvetica, sans-serif' font-size="30" text-anchor="start" fill="#1a1a1a">0.1</text><text transform="translate(1548.7 639.7) scale(1 1.12)" font-family='"Liberation Sans", Arial, Helvetica, sans-serif' font-size="30" text-anchor="start" fill="#1a1a1a">0.05</text><text transform="translate(1548.7 743.2) scale(1 1.12)" font-family='"Liberation Sans", Arial, Helvetica, sans-serif' font-size="30" text-anchor="start" fill="#1a1a1a">0</text><text transform="translate(1548.7 846.7) scale(1 1.12)" font-family='"Liberation Sans", Arial, Helvetica, sans-serif' font-size="30" text-anchor="start" fill="#1a1a1a">-0.05</text><text transform="translate(1548.7 950.2) scale(1 1.12)" font-family='"Liberation Sans", Arial, Helvetica, sans-serif' font-size="30" text-anchor="start" fill="#1a1a1a">-0.1</text><text x="856.5" y="508.8" font-family='"Liberation Sans", Arial, Helvetica, sans-serif' font-size="35" font-weight="bold" text-anchor="start" fill="#1a1a1a">D</text><text transform="translate(1548.7 1004.9) scale(1 1.12)" font-family='"Liberation Sans", Arial, Helvetica, sans-serif' font-size="30" text-anchor="start" fill="#1a1a1a">0.1</text><text transform="translate(1548.7 1108.4) scale(1 1.12)" font-family='"Liberation Sans", Arial, Helvetica, sans-serif' font-size="30" text-anchor="start" fill="#1a1a1a">0.05</text><text transform="translate(1548.7 1212) scale(1 1.12)" font-family='"Liberation Sans", Arial, Helvetica, sans-serif' font-size="30" text-anchor="start" fill="#1a1a1a">0</text><text transform="translate(1548.7 1315.5) scale(1 1.12)" font-family='"Liberation Sans", Arial, Helvetica, sans-serif' font-size="30" text-anchor="start" fill="#1a1a1a">-0.05</text><text transform="translate(1548.7 1419) scale(1 1.12)" font-family='"Liberation Sans", Arial, Helvetica, sans-serif' font-size="30" text-anchor="start" fill="#1a1a1a">-0.1</text><text x="857.2" y="978.2" font-family='"Liberation Sans", Arial, Helvetica, sans-serif' font-size="35" font-weight="bold" text-anchor="start" fill="#1a1a1a">G</text><text transform="translate(1548.7 1471.2) scale(1 1.12)" font-family='"Liberation Sans", Arial, Helvetica, sans-serif' font-size="30" text-anchor="start" fill="#1a1a1a">0.1</text><text transform="translate(1548.7 1574.7) scale(1 1.12)" font-family='"Liberation Sans", Arial, Helvetica, sans-serif' font-size="30" text-anchor="start" fill="#1a1a1a">0.05</text><text transform="translate(1548.7 1678.3) scale(1 1.12)" font-family='"Liberation Sans", Arial, Helvetica, sans-serif' font-size="30" text-anchor="start" fill="#1a1a1a">0</text><text transform="translate(1548.7 1781.8) scale(1 1.12)" font-family='"Liberation Sans", Arial, Helvetica, sans-serif' font-size="30" text-anchor="start" fill="#1a1a1a">-0.05</text><text transform="translate(1548.7 1885.3) scale(1 1.12)" font-family='"Liberation Sans", Arial, Helvetica, sans-serif' font-size="30" text-anchor="start" fill="#1a1a1a">-0.1</text><text x="856.8" y="1445.6" font-family='"Liberation Sans", Arial, Helvetica, sans-serif' font-size="35" font-weight="bold" text-anchor="start" fill="#1a1a1a">H</text><text transform="translate(86.8 1911.2) scale(1 1.12)" font-family='"Liberation Sans", Arial, Helvetica, sans-serif' font-size="30" text-anchor="middle" fill="#1a1a1a">0</text><text transform="translate(201.6 1911.2) scale(1 1.12)" font-family='"Liberation Sans", Arial, Helvetica, sans-serif' font-size="30" text-anchor="middle" fill="#1a1a1a">50</text><text transform="translate(321.8 1911.2) scale(1 1.12)" font-family='"Liberation Sans", Arial, Helvetica, sans-serif' font-size="30" text-anchor="middle" fill="#1a1a1a">100</text><text transform="translate(444.9 1911.2) scale(1 1.12)" font-family='"Liberation Sans", Arial, Helvetica, sans-serif' font-size="30" text-anchor="middle" fill="#1a1a1a">150</text><text transform="translate(566.7 1911.2) scale(1 1.12)" font-family='"Liberation Sans", Arial, Helvetica, sans-serif' font-size="30" text-anchor="middle" fill="#1a1a1a">200</text><text transform="translate(687.9 1911.2) scale(1 1.12)" font-family='"Liberation Sans", Arial, Helvetica, sans-serif' font-size="30" text-anchor="middle" fill="#1a1a1a">250</text><text transform="translate(866.1 1908) scale(1 1.12)" font-family='"Liberation Sans", Arial, Helvetica, sans-serif' font-size="30" text-anchor="middle" fill="#1a1a1a">0</text><text transform="translate(981.4 1908) scale(1 1.12)" font-family='"Liberation Sans", Arial, Helvetica, sans-serif' font-size="30" text-anchor="middle" fill="#1a1a1a">50</text><text transform="translate(1103.7 1908) scale(1 1.12)" font-family='"Liberation Sans", Arial, Helvetica, sans-serif' font-size="30" text-anchor="middle" fill="#1a1a1a">100</text><text transform="translate(1228 1908) scale(1 1.12)" font-family='"Liberation Sans", Arial, Helvetica, sans-serif' font-size="30" text-anchor="middle" fill="#1a1a1a">150</text><text transform="translate(1349.3 1908) scale(1 1.12)" font-family='"Liberation Sans", Arial, Helvetica, sans-serif' font-size="30" text-anchor="middle" fill="#1a1a1a">200</text><text transform="translate(1470.6 1908) scale(1 1.12)" font-family='"Liberation Sans", Arial, Helvetica, sans-serif' font-size="30" text-anchor="middle" fill="#1a1a1a">250</text><text x="732" y="1939.2" font-family='"Liberation Sans", Arial, Helvetica, sans-serif' font-size="31" font-weight="normal" text-anchor="start" fill="#1a1a1a" textLength="189">Distance (km)</text><text transform="translate(30.5,1437) rotate(-90)" x="0" y="0" font-family='"Liberation Sans", Arial, Helvetica, sans-serif' font-size="33.5" text-anchor="middle" fill="#1a1a1a">Depth (m)</text><text x="193.5" y="42.5" font-family='"Liberation Sans", Arial, Helvetica, sans-serif' font-size="33" fill="#1a1a1a"><tspan textLength="399">Brunt-Vaisala Frequency N</tspan><tspan font-size="20" dx="1" dy="-11">2</tspan><tspan dx="1" dy="11"> ( s</tspan><tspan font-size="20" dy="-11">-2</tspan><tspan dy="11">)</tspan></text><text x="992" y="41" font-family='"Liberation Sans", Arial, Helvetica, sans-serif' font-size="33" fill="#1a1a1a"><tspan textLength="369">Vertical Velocity ω (mm s</tspan><tspan font-size="20" dx="1" dy="-11">-1</tspan><tspan dx="2" dy="11">)</tspan></text>
</svg></body></html>
